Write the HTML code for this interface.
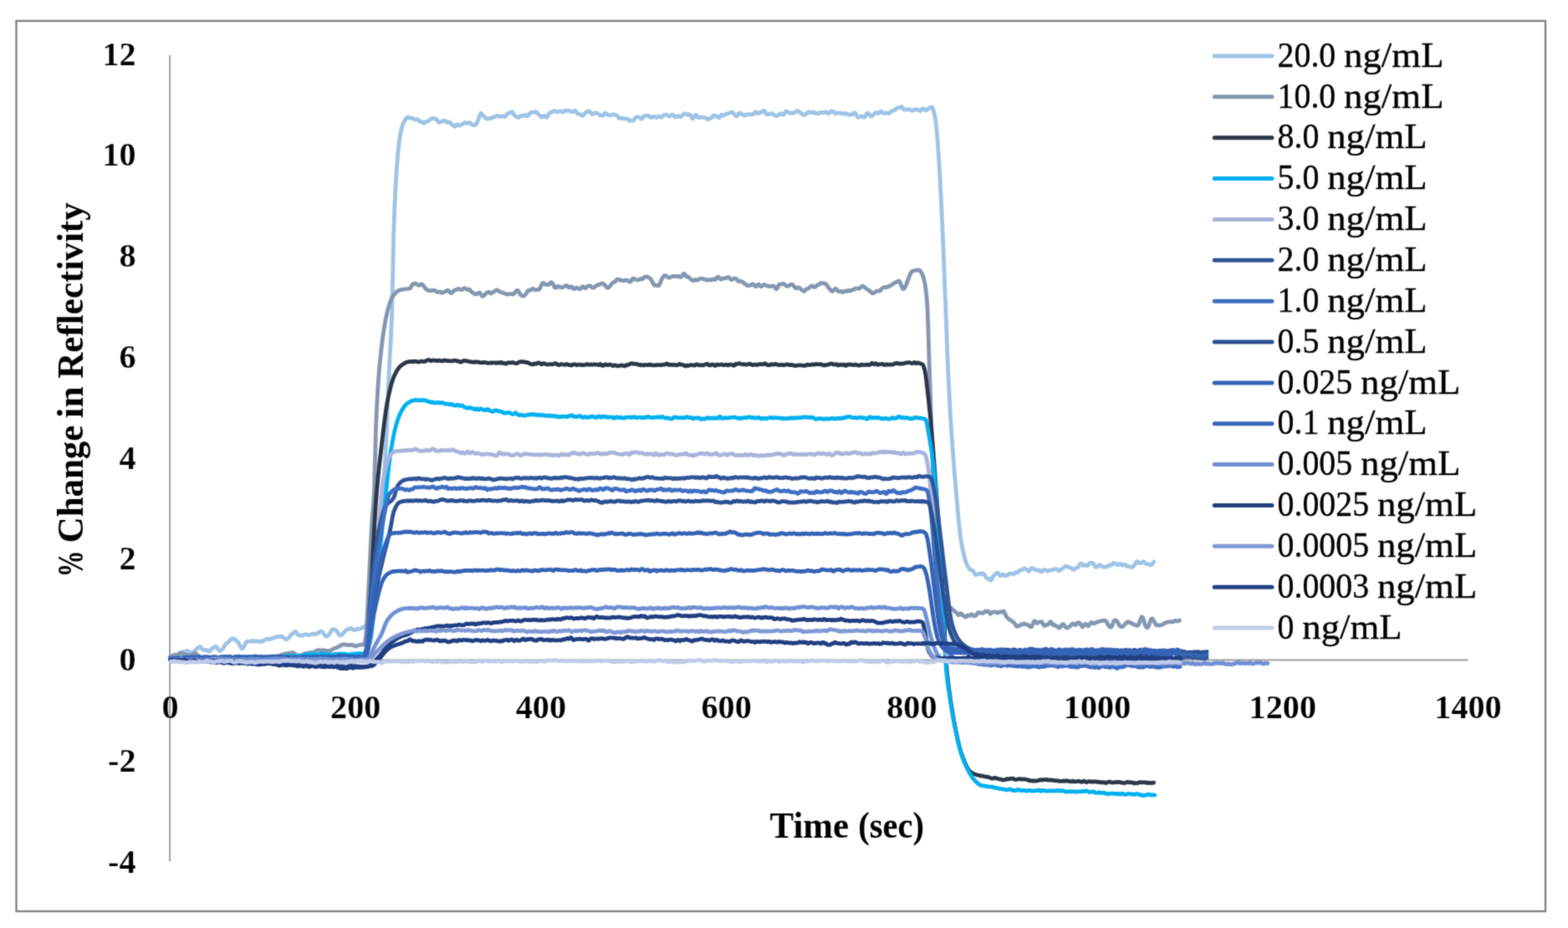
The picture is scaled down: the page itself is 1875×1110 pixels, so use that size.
<!DOCTYPE html>
<html lang="en">
<head>
<meta charset="utf-8">
<title>% Change in Reflectivity vs Time (sec)</title>
<style>
html,body{margin:0;padding:0;background:#ffffff;}
body{width:1875px;height:1110px;overflow:hidden;font-family:"Liberation Serif","DejaVu Serif",serif;}
svg{display:block;}
</style>
</head>
<body>
<svg width="1875" height="1110" viewBox="0 0 1875 1110" role="img" aria-label="Line chart of % Change in Reflectivity versus Time (sec) for 15 concentrations">
<defs><filter id="soft" x="0" y="0" width="1875" height="1110" filterUnits="userSpaceOnUse" color-interpolation-filters="sRGB"><feConvolveMatrix order="3" kernelMatrix="0.0742 0.2723 0.0742 0.2723 1 0.2723 0.0742 0.2723 0.0742" divisor="2.3860" edgeMode="duplicate" preserveAlpha="true"/></filter></defs>
<g filter="url(#soft)">
<rect x="0" y="0" width="1875" height="1110" fill="#ffffff"/>
<rect x="19.50" y="25.00" width="1828.50" height="1065.00" fill="#ffffff" stroke="#7f7f7f" stroke-width="2.30"/>
<g stroke="#9c9c9c" stroke-width="1.90" fill="none">
<line x1="203.10" y1="66.00" x2="203.10" y2="1030.50"/>
<line x1="203.10" y1="789.50" x2="1755.50" y2="789.50"/>
</g>
<g fill="none" stroke-width="4.80" stroke-linejoin="round" stroke-linecap="round">
<path stroke="#9dc3e6" d="M203.5 785.5L204.6 784.9L205.7 784.6L206.8 784.8L207.9 785.0L209.0 784.9L210.2 784.6L211.3 783.9L212.4 783.1L213.5 782.3L214.6 781.4L215.7 780.6L216.8 780.3L217.9 780.2L219.0 780.0L220.1 779.6L221.2 779.2L222.3 778.9L223.5 778.7L224.6 778.8L225.7 779.3L226.8 779.7L227.9 780.4L229.0 781.1L230.1 780.6L231.2 779.7L232.3 779.1L233.4 778.3L234.5 777.1L235.6 775.7L236.8 774.9L237.9 774.0L239.0 773.5L240.1 774.3L241.2 775.8L242.3 777.0L243.4 777.5L244.5 777.5L245.6 777.5L246.7 777.5L247.8 777.8L249.0 778.7L250.1 779.3L251.2 778.4L252.3 777.1L253.4 776.1L254.5 775.1L255.6 774.4L256.7 773.9L257.8 773.4L258.9 773.9L260.0 775.5L261.1 777.0L262.3 778.1L263.4 778.6L264.5 778.0L265.6 776.8L266.7 775.3L267.8 773.8L268.9 771.9L270.0 770.1L271.1 769.2L272.2 768.9L273.3 768.0L274.5 766.5L275.6 765.0L276.7 764.4L277.8 764.2L278.9 764.0L280.0 764.0L281.1 765.0L282.2 766.3L283.3 767.0L284.4 767.9L285.5 769.6L286.6 771.9L287.8 774.2L288.9 775.7L290.0 775.6L291.1 774.2L292.2 772.4L293.3 770.4L294.4 768.4L295.5 767.1L296.6 767.1L297.7 767.1L298.8 767.1L299.9 767.1L301.1 766.7L302.2 766.7L303.3 767.0L304.4 767.1L305.5 766.9L306.6 766.8L307.7 767.0L308.8 767.6L309.9 767.5L311.0 767.0L312.1 767.1L313.3 767.3L314.4 767.0L315.5 766.2L316.6 765.4L317.7 764.9L318.8 764.4L319.9 764.1L321.0 764.5L322.1 764.6L323.2 764.4L324.3 763.8L325.4 763.5L326.6 763.4L327.7 762.9L328.8 762.3L329.9 761.7L331.0 761.5L332.1 761.8L333.2 761.7L334.3 761.2L335.4 760.8L336.5 761.0L337.6 761.7L338.7 762.5L339.9 763.4L341.0 764.4L342.1 764.8L343.2 764.4L344.3 763.7L345.4 762.8L346.5 761.2L347.6 759.6L348.7 758.7L349.8 758.2L350.9 757.1L352.1 755.9L353.2 755.4L354.3 756.3L355.4 757.9L356.5 759.3L357.6 760.0L358.7 760.2L359.8 760.4L360.9 760.2L362.0 759.7L363.1 759.6L364.2 758.9L365.4 758.5L366.5 758.9L367.6 759.3L368.7 759.5L369.8 759.3L370.9 759.0L372.0 758.6L373.1 758.5L374.2 758.4L375.3 758.2L376.4 758.5L377.6 758.5L378.7 757.9L379.8 757.6L380.9 756.9L382.0 755.9L383.1 755.2L384.2 755.1L385.3 755.6L386.4 756.8L387.5 758.7L388.6 760.2L389.7 761.0L390.9 761.4L392.0 760.6L393.1 759.2L394.2 758.0L395.3 755.9L396.4 754.1L397.5 753.0L398.6 752.9L399.7 753.1L400.8 753.2L401.9 753.9L403.0 755.9L404.2 757.6L405.3 758.7L406.4 759.9L407.5 760.0L408.6 759.1L409.7 758.1L410.8 757.0L411.9 755.8L413.0 754.6L414.1 753.5L415.2 752.9L416.4 752.8L417.5 752.3L418.6 751.5L419.7 751.4L420.8 752.1L421.9 753.2L423.0 753.4L424.1 753.4L425.2 753.4L426.3 752.8L427.4 752.2L428.5 752.3L429.7 752.3L430.8 751.9L431.9 751.4L433.0 750.9L434.1 750.2L435.2 749.6L436.3 748.9L437.4 748.0L438.5 746.9L439.6 745.5L440.7 743.5L441.8 739.7L443.0 734.3L444.1 727.6L445.2 719.9L446.3 711.3L447.4 702.2L448.5 692.8L449.6 683.3L450.7 673.8L451.8 663.5L452.9 652.4L454.0 640.4L455.2 627.6L456.3 613.8L457.4 599.0L458.5 583.3L459.6 566.5L460.7 547.9L461.8 525.0L462.9 499.5L464.0 473.2L465.1 447.9L466.2 426.0L467.3 406.5L468.5 381.3L469.6 332.3L470.7 279.0L471.8 249.2L472.9 225.6L474.0 207.0L475.1 192.3L476.2 179.8L477.3 169.7L478.4 162.2L479.5 156.5L480.6 151.9L481.8 148.5L482.9 146.2L484.0 144.1L485.1 142.3L486.2 140.9L487.3 140.1L488.4 140.0L489.5 141.1L490.6 141.5L491.7 141.3L492.8 141.2L494.0 141.8L495.1 142.7L496.2 143.1L497.3 143.1L498.4 142.9L499.5 143.0L500.6 143.9L501.7 145.2L502.8 145.6L503.9 145.4L505.0 145.9L506.1 147.0L507.3 147.3L508.4 146.4L509.5 145.4L510.6 145.1L511.7 145.1L512.8 144.6L513.9 143.5L515.0 142.5L516.1 141.9L517.2 141.6L518.3 141.4L519.5 141.7L520.6 142.3L521.7 142.8L522.8 143.7L523.9 145.4L525.0 146.5L526.1 146.1L527.2 145.4L528.3 145.1L529.4 144.9L530.5 144.5L531.6 144.4L532.8 144.8L533.9 145.9L535.0 146.5L536.1 146.1L537.2 146.0L538.3 146.9L539.4 148.1L540.5 148.7L541.6 149.5L542.7 150.7L543.8 151.3L544.9 150.7L546.1 149.3L547.2 148.9L548.3 149.7L549.4 150.2L550.5 149.8L551.6 149.1L552.7 148.8L553.8 148.2L554.9 147.0L556.0 146.4L557.1 146.8L558.3 147.7L559.4 147.5L560.5 146.6L561.6 146.5L562.7 147.5L563.8 148.8L564.9 149.5L566.0 149.7L567.1 149.5L568.2 149.5L569.3 148.6L570.4 146.5L571.6 144.0L572.7 141.0L573.8 137.6L574.9 135.5L576.0 135.8L577.1 137.7L578.2 138.9L579.3 139.5L580.4 140.6L581.5 141.9L582.6 142.2L583.7 142.0L584.9 141.8L586.0 141.6L587.1 141.5L588.2 141.0L589.3 140.4L590.4 140.1L591.5 139.9L592.6 139.2L593.7 138.4L594.8 138.4L595.9 139.1L597.1 139.4L598.2 139.5L599.3 139.3L600.4 138.8L601.5 138.7L602.6 139.3L603.7 139.7L604.8 138.7L605.9 137.0L607.0 135.9L608.1 135.6L609.2 135.3L610.4 134.7L611.5 133.8L612.6 133.9L613.7 135.5L614.8 137.5L615.9 138.6L617.0 139.2L618.1 139.9L619.2 140.4L620.3 140.5L621.4 139.6L622.6 138.6L623.7 138.4L624.8 138.7L625.9 138.7L627.0 138.0L628.1 137.5L629.2 138.3L630.3 139.1L631.4 138.4L632.5 136.8L633.6 135.4L634.7 134.7L635.9 134.2L637.0 134.0L638.1 134.3L639.2 134.3L640.3 133.8L641.4 134.0L642.5 135.3L643.6 136.6L644.7 137.3L645.8 138.3L646.9 139.6L648.0 140.3L649.2 139.5L650.3 138.4L651.4 138.7L652.5 140.0L653.6 140.4L654.7 139.1L655.8 136.9L656.9 135.4L658.0 134.8L659.1 134.4L660.2 133.7L661.4 133.2L662.5 132.7L663.6 132.6L664.7 133.1L665.8 133.8L666.9 133.9L668.0 133.5L669.1 133.1L670.2 133.0L671.3 133.6L672.4 134.1L673.5 133.8L674.7 133.0L675.8 132.5L676.9 132.6L678.0 132.5L679.1 131.9L680.2 131.9L681.3 132.7L682.4 133.4L683.5 133.6L684.6 133.7L685.7 133.2L686.8 132.4L688.0 132.6L689.1 134.1L690.2 135.5L691.3 135.9L692.4 136.1L693.5 136.7L694.6 137.5L695.7 138.2L696.8 138.3L697.9 137.4L699.0 136.0L700.2 134.8L701.3 134.0L702.4 133.6L703.5 133.1L704.6 132.9L705.7 133.8L706.8 135.3L707.9 136.5L709.0 136.6L710.1 135.9L711.2 135.0L712.3 134.8L713.5 135.3L714.6 135.7L715.7 136.1L716.8 137.2L717.9 138.1L719.0 138.2L720.1 138.3L721.2 137.9L722.3 136.5L723.4 135.2L724.5 135.4L725.7 136.5L726.8 137.3L727.9 137.7L729.0 137.9L730.1 137.8L731.2 137.5L732.3 137.1L733.4 136.9L734.5 137.0L735.6 137.4L736.7 137.8L737.8 138.5L739.0 139.6L740.1 141.0L741.2 141.8L742.3 141.6L743.4 141.2L744.5 141.5L745.6 142.0L746.7 142.2L747.8 142.0L748.9 141.8L750.0 141.9L751.1 142.9L752.3 144.1L753.4 144.5L754.5 144.2L755.6 144.2L756.7 144.3L757.8 143.9L758.9 142.2L760.0 140.5L761.1 139.9L762.2 139.9L763.3 139.8L764.5 140.4L765.6 141.5L766.7 142.2L767.8 141.9L768.9 140.5L770.0 139.0L771.1 138.4L772.2 138.5L773.3 138.6L774.4 138.4L775.5 138.3L776.6 139.2L777.8 140.2L778.9 140.5L780.0 140.4L781.1 139.8L782.2 139.2L783.3 139.6L784.4 140.4L785.5 140.3L786.6 139.7L787.7 139.2L788.8 139.4L789.9 140.1L791.1 140.4L792.2 139.6L793.3 138.3L794.4 137.3L795.5 137.1L796.6 137.3L797.7 137.6L798.8 138.4L799.9 139.1L801.0 138.9L802.1 138.0L803.3 137.1L804.4 137.1L805.5 138.1L806.6 139.3L807.7 140.0L808.8 139.7L809.9 139.0L811.0 138.6L812.1 139.1L813.2 139.8L814.3 139.8L815.4 138.7L816.6 137.0L817.7 136.1L818.8 135.9L819.9 136.1L821.0 136.7L822.1 137.3L823.2 137.1L824.3 136.7L825.4 137.5L826.5 139.8L827.6 141.8L828.8 141.9L829.9 140.0L831.0 138.0L832.1 137.5L833.2 138.4L834.3 139.7L835.4 140.7L836.5 140.9L837.6 140.4L838.7 140.1L839.8 140.2L840.9 140.6L842.1 140.7L843.2 140.6L844.3 141.1L845.4 142.2L846.5 142.9L847.6 142.4L848.7 141.5L849.8 141.3L850.9 140.9L852.0 139.6L853.1 138.4L854.2 138.2L855.4 138.5L856.5 138.9L857.6 139.5L858.7 140.5L859.8 140.9L860.9 139.6L862.0 137.6L863.1 137.1L864.2 138.2L865.3 138.4L866.4 137.3L867.6 136.5L868.7 136.4L869.8 136.1L870.9 135.6L872.0 135.3L873.1 134.9L874.2 134.2L875.3 134.3L876.4 135.0L877.5 135.8L878.6 137.0L879.7 138.5L880.9 139.0L882.0 138.0L883.1 136.3L884.2 135.1L885.3 135.3L886.4 136.2L887.5 136.7L888.6 137.1L889.7 137.8L890.8 138.2L891.9 137.8L893.0 137.1L894.2 136.7L895.3 136.7L896.4 136.8L897.5 137.0L898.6 137.0L899.7 136.9L900.8 136.5L901.9 135.3L903.0 134.1L904.1 134.1L905.2 135.1L906.4 135.7L907.5 135.3L908.6 134.5L909.7 134.4L910.8 134.1L911.9 133.3L913.0 132.5L914.1 132.8L915.2 134.5L916.3 136.3L917.4 137.0L918.5 136.8L919.7 136.5L920.8 136.2L921.9 135.8L923.0 135.7L924.1 136.3L925.2 137.2L926.3 137.8L927.4 138.3L928.5 138.7L929.6 138.4L930.7 137.7L931.9 136.7L933.0 135.9L934.1 135.9L935.2 136.8L936.3 137.4L937.4 136.8L938.5 135.0L939.6 133.4L940.7 133.2L941.8 133.9L942.9 134.6L944.0 134.9L945.2 135.2L946.3 135.4L947.4 135.3L948.5 135.2L949.6 134.8L950.7 134.3L951.8 133.7L952.9 132.9L954.0 132.6L955.1 133.2L956.2 134.1L957.3 135.0L958.5 135.8L959.6 136.7L960.7 137.6L961.8 137.7L962.9 137.1L964.0 136.3L965.1 135.2L966.2 134.0L967.3 133.7L968.4 134.4L969.5 134.9L970.7 134.6L971.8 134.2L972.9 134.4L974.0 135.0L975.1 135.4L976.2 135.4L977.3 135.7L978.4 135.8L979.5 135.4L980.6 134.8L981.7 134.3L982.8 134.4L984.0 134.8L985.1 134.9L986.2 134.4L987.3 133.9L988.4 134.3L989.5 135.2L990.6 135.8L991.7 135.2L992.8 134.0L993.9 133.2L995.0 133.2L996.1 133.6L997.3 134.4L998.4 135.6L999.5 136.1L1000.6 135.4L1001.7 134.9L1002.8 135.2L1003.9 135.4L1005.0 135.2L1006.1 135.2L1007.2 135.9L1008.3 136.3L1009.5 136.0L1010.6 135.5L1011.7 135.6L1012.8 136.2L1013.9 136.9L1015.0 137.3L1016.1 137.2L1017.2 137.0L1018.3 137.1L1019.4 136.7L1020.5 135.6L1021.6 134.7L1022.8 135.2L1023.9 137.3L1025.0 139.4L1026.1 140.4L1027.2 140.3L1028.3 139.6L1029.4 138.9L1030.5 138.9L1031.6 139.6L1032.7 140.4L1033.8 140.1L1034.9 138.5L1036.1 136.4L1037.2 135.2L1038.3 135.5L1039.4 136.9L1040.5 138.4L1041.6 139.2L1042.7 138.9L1043.8 137.9L1044.9 136.6L1046.0 135.4L1047.1 134.7L1048.3 134.9L1049.4 135.4L1050.5 135.6L1051.6 134.8L1052.7 133.4L1053.8 133.0L1054.9 134.2L1056.0 135.3L1057.1 135.5L1058.2 135.2L1059.3 135.2L1060.4 135.3L1061.6 135.4L1062.7 135.6L1063.8 135.3L1064.9 134.3L1066.0 133.2L1067.1 132.6L1068.2 132.3L1069.3 131.9L1070.4 131.3L1071.5 130.3L1072.6 129.3L1073.8 128.8L1074.9 128.6L1076.0 128.4L1077.1 128.0L1078.2 127.9L1079.3 128.9L1080.4 130.5L1081.5 131.0L1082.6 130.9L1083.7 131.0L1084.8 131.2L1085.9 131.1L1087.1 130.8L1088.2 130.9L1089.3 131.6L1090.4 132.3L1091.5 132.2L1092.6 131.7L1093.7 131.1L1094.8 130.8L1095.9 131.1L1097.0 131.2L1098.1 131.5L1099.2 132.4L1100.4 132.7L1101.5 131.8L1102.6 130.4L1103.7 129.8L1104.8 130.2L1105.9 131.2L1107.0 132.0L1108.1 132.0L1109.2 131.0L1110.3 129.7L1111.4 129.0L1112.6 128.3L1113.7 128.0L1114.8 128.6L1115.9 131.3L1117.0 135.0L1118.1 140.1L1119.2 147.7L1120.3 157.7L1121.4 171.5L1122.5 187.8L1123.6 205.6L1124.7 226.4L1125.9 249.7L1127.0 274.2L1128.1 299.9L1129.2 327.2L1130.3 355.2L1131.4 383.8L1132.5 413.7L1133.6 441.0L1134.7 463.8L1135.8 484.6L1136.9 503.5L1138.0 520.7L1139.2 536.7L1140.3 551.5L1141.4 565.5L1142.5 578.7L1143.6 591.4L1144.7 604.0L1145.8 616.6L1146.9 628.3L1148.0 638.4L1149.1 646.1L1150.2 652.5L1151.4 658.2L1152.5 663.2L1153.6 667.5L1154.7 671.3L1155.8 674.4L1156.9 676.7L1158.0 678.6L1159.1 680.1L1160.2 681.2L1161.3 681.9L1162.4 682.2L1163.5 682.8L1164.7 684.8L1165.8 686.8L1166.9 687.7L1168.0 687.5L1169.1 686.8L1170.2 686.1L1171.3 686.2L1172.4 686.8L1173.5 686.4L1174.6 685.6L1175.7 685.9L1176.9 687.1L1178.0 688.8L1179.1 690.5L1180.2 691.6L1181.3 692.0L1182.4 692.5L1183.5 693.6L1184.6 694.2L1185.7 693.1L1186.8 690.7L1187.9 688.7L1189.0 687.7L1190.2 687.0L1191.3 685.8L1192.4 685.1L1193.5 685.5L1194.6 686.9L1195.7 688.3L1196.8 688.7L1197.9 687.8L1199.0 687.0L1200.1 687.3L1201.2 688.4L1202.3 689.0L1203.5 688.8L1204.6 688.1L1205.7 687.0L1206.8 686.1L1207.9 686.1L1209.0 686.2L1210.1 686.2L1211.2 686.5L1212.3 686.5L1213.4 685.7L1214.5 684.7L1215.7 684.8L1216.8 684.9L1217.9 683.8L1219.0 682.6L1220.1 682.2L1221.2 682.1L1222.3 681.4L1223.4 680.4L1224.5 680.0L1225.6 680.1L1226.7 680.6L1227.8 681.4L1229.0 682.7L1230.1 683.3L1231.2 682.4L1232.3 680.8L1233.4 679.7L1234.5 679.5L1235.6 680.1L1236.7 681.0L1237.8 681.7L1238.9 682.0L1240.0 682.0L1241.1 681.9L1242.3 682.0L1243.4 682.7L1244.5 683.7L1245.6 683.8L1246.7 682.8L1247.8 681.7L1248.9 681.4L1250.0 681.8L1251.1 682.5L1252.2 683.1L1253.3 683.1L1254.5 682.5L1255.6 682.0L1256.7 681.7L1257.8 681.7L1258.9 681.7L1260.0 681.3L1261.1 680.8L1262.2 680.6L1263.3 680.7L1264.4 681.3L1265.5 682.4L1266.6 682.8L1267.8 682.0L1268.9 680.9L1270.0 680.2L1271.1 679.6L1272.2 678.9L1273.3 678.0L1274.4 677.3L1275.5 677.3L1276.6 677.9L1277.7 678.3L1278.8 678.6L1280.0 679.2L1281.1 679.8L1282.2 680.6L1283.3 681.4L1284.4 681.3L1285.5 680.2L1286.6 679.1L1287.7 678.9L1288.8 678.9L1289.9 677.6L1291.0 675.4L1292.1 674.1L1293.3 674.3L1294.4 675.4L1295.5 676.3L1296.6 676.1L1297.7 675.7L1298.8 676.1L1299.9 676.6L1301.0 676.2L1302.1 674.9L1303.2 673.6L1304.3 673.1L1305.4 673.1L1306.6 673.4L1307.7 674.6L1308.8 676.7L1309.9 678.1L1311.0 678.2L1312.1 677.8L1313.2 677.0L1314.3 676.0L1315.4 675.9L1316.5 676.7L1317.6 677.4L1318.8 677.8L1319.9 678.1L1321.0 678.2L1322.1 678.1L1323.2 678.1L1324.3 677.8L1325.4 676.6L1326.5 675.9L1327.6 676.2L1328.7 676.2L1329.8 674.9L1330.9 673.7L1332.1 673.5L1333.2 673.8L1334.3 674.4L1335.4 675.4L1336.5 675.7L1337.6 675.0L1338.7 674.5L1339.8 674.6L1340.9 675.3L1342.0 676.0L1343.1 676.0L1344.2 675.4L1345.4 675.3L1346.5 676.3L1347.6 677.4L1348.7 677.5L1349.8 677.3L1350.9 677.8L1352.0 678.5L1353.1 678.6L1354.2 678.2L1355.3 677.4L1356.4 676.0L1357.6 674.0L1358.7 672.2L1359.8 671.5L1360.9 672.2L1362.0 673.3L1363.1 673.7L1364.2 673.2L1365.3 672.7L1366.4 672.0L1367.5 671.7L1368.6 672.4L1369.7 673.8L1370.9 674.4L1372.0 674.5L1373.1 674.7L1374.2 675.3L1375.3 675.8L1376.4 675.9L1377.5 674.8L1378.6 673.6L1379.6 672.0"/>
<path stroke="#8497b0" d="M203.5 786.0L204.6 785.4L205.7 784.8L206.8 783.9L207.9 783.3L209.0 783.3L210.2 783.5L211.3 783.7L212.4 783.5L213.5 782.6L214.6 781.5L215.7 781.1L216.8 781.3L217.9 781.7L219.0 782.1L220.1 782.6L221.2 783.0L222.3 783.3L223.5 783.5L224.6 783.5L225.7 783.7L226.8 784.4L227.9 784.6L229.0 783.8L230.1 782.5L231.2 781.5L232.3 781.2L233.4 781.6L234.5 782.3L235.6 783.0L236.8 784.0L237.9 785.0L239.0 785.6L240.1 785.9L241.2 785.9L242.3 785.7L243.4 785.9L244.5 786.3L245.6 786.5L246.7 786.3L247.8 786.4L249.0 786.9L250.1 787.3L251.2 787.2L252.3 786.9L253.4 786.7L254.5 786.6L255.6 786.7L256.7 786.7L257.8 786.8L258.9 787.2L260.0 787.4L261.1 787.2L262.3 787.2L263.4 786.9L264.5 786.3L265.6 785.6L266.7 785.7L267.8 786.4L268.9 786.8L270.0 787.1L271.1 787.2L272.2 787.3L273.3 787.3L274.5 786.4L275.6 785.5L276.7 785.9L277.8 787.1L278.9 787.6L280.0 787.1L281.1 786.4L282.2 786.2L283.3 786.2L284.4 785.9L285.5 786.0L286.6 786.5L287.8 786.7L288.9 786.8L290.0 786.7L291.1 786.2L292.2 785.9L293.3 786.2L294.4 786.5L295.5 786.9L296.6 787.1L297.7 786.9L298.8 786.6L299.9 786.5L301.1 786.4L302.2 786.3L303.3 786.5L304.4 786.9L305.5 786.9L306.6 786.8L307.7 786.3L308.8 786.1L309.9 785.9L311.0 785.1L312.1 785.1L313.3 785.7L314.4 786.2L315.5 786.1L316.6 785.7L317.7 785.5L318.8 785.8L319.9 785.8L321.0 785.5L322.1 785.8L323.2 786.1L324.3 785.6L325.4 784.9L326.6 784.8L327.7 785.0L328.8 785.3L329.9 785.2L331.0 784.7L332.1 784.6L333.2 784.9L334.3 784.9L335.4 784.2L336.5 783.2L337.6 782.8L338.7 782.8L339.9 782.4L341.0 782.1L342.1 781.8L343.2 781.7L344.3 781.7L345.4 781.4L346.5 780.9L347.6 780.8L348.7 780.7L349.8 780.6L350.9 780.9L352.1 781.4L353.2 782.3L354.3 783.8L355.4 784.7L356.5 784.4L357.6 783.7L358.7 783.8L359.8 783.8L360.9 783.5L362.0 783.1L363.1 782.4L364.2 781.8L365.4 781.5L366.5 781.3L367.6 781.3L368.7 781.2L369.8 780.7L370.9 780.4L372.0 780.6L373.1 780.7L374.2 780.2L375.3 780.0L376.4 779.7L377.6 778.7L378.7 778.0L379.8 777.7L380.9 777.6L382.0 777.8L383.1 777.8L384.2 777.8L385.3 777.8L386.4 777.7L387.5 777.9L388.6 778.2L389.7 778.3L390.9 778.3L392.0 778.6L393.1 778.8L394.2 778.3L395.3 778.0L396.4 777.4L397.5 776.6L398.6 776.0L399.7 775.6L400.8 775.1L401.9 774.8L403.0 774.4L404.2 773.7L405.3 773.3L406.4 772.8L407.5 772.0L408.6 771.3L409.7 771.1L410.8 770.9L411.9 770.8L413.0 771.0L414.1 771.4L415.2 771.6L416.4 771.4L417.5 771.4L418.6 771.6L419.7 771.5L420.8 771.3L421.9 771.5L423.0 772.0L424.1 772.7L425.2 773.0L426.3 772.6L427.4 772.0L428.5 771.8L429.7 771.5L430.8 771.2L431.9 771.1L433.0 771.2L434.1 771.1L435.2 770.9L436.3 768.0L437.4 762.2L438.5 747.6L439.6 726.8L440.7 704.8L441.8 683.2L443.0 658.8L444.1 635.6L445.2 617.7L446.3 606.9L447.4 589.6L448.5 550.4L449.6 509.2L450.7 484.6L451.8 465.3L452.9 449.2L454.0 435.8L455.2 424.7L456.3 414.8L457.4 405.9L458.5 398.0L459.6 390.9L460.7 384.6L461.8 379.0L462.9 374.0L464.0 369.5L465.1 365.6L466.2 362.3L467.3 359.3L468.5 356.7L469.6 354.6L470.7 353.1L471.8 351.8L472.9 350.6L474.0 349.5L475.1 348.5L476.2 347.8L477.3 347.2L478.4 346.9L479.5 346.6L480.6 346.4L481.8 346.2L482.9 346.1L484.0 345.9L485.1 345.8L486.2 345.7L487.3 345.5L488.4 345.3L489.5 345.1L490.6 344.8L491.7 342.8L492.8 340.9L494.0 339.6L495.1 339.5L496.2 339.1L497.3 339.3L498.4 340.0L499.5 340.6L500.6 341.2L501.7 341.3L502.8 340.5L503.9 339.9L505.0 340.3L506.1 341.4L507.3 343.0L508.4 344.6L509.5 345.8L510.6 346.6L511.7 347.2L512.8 347.6L513.9 347.8L515.0 347.7L516.1 347.4L517.2 347.1L518.3 347.1L519.5 347.3L520.6 347.9L521.7 348.7L522.8 349.4L523.9 349.3L525.0 349.0L526.1 348.9L527.2 349.6L528.3 350.4L529.4 350.1L530.5 349.4L531.6 349.0L532.8 348.6L533.9 347.8L535.0 347.2L536.1 347.4L537.2 348.4L538.3 349.7L539.4 350.5L540.5 350.3L541.6 349.0L542.7 347.6L543.8 347.0L544.9 346.9L546.1 346.3L547.2 345.6L548.3 345.5L549.4 345.8L550.5 346.4L551.6 346.6L552.7 346.2L553.8 345.5L554.9 344.8L556.0 344.8L557.1 345.6L558.3 346.4L559.4 346.4L560.5 346.0L561.6 346.5L562.7 348.0L563.8 349.2L564.9 349.8L566.0 350.4L567.1 351.3L568.2 351.9L569.3 351.9L570.4 351.5L571.6 350.7L572.7 350.1L573.8 350.3L574.9 351.9L576.0 353.8L577.1 354.5L578.2 354.1L579.3 352.9L580.4 351.7L581.5 350.6L582.6 349.9L583.7 349.5L584.9 349.5L586.0 350.4L587.1 351.1L588.2 350.5L589.3 349.4L590.4 348.9L591.5 348.3L592.6 347.4L593.7 346.9L594.8 347.1L595.9 347.8L597.1 348.7L598.2 349.3L599.3 349.6L600.4 349.9L601.5 350.3L602.6 350.6L603.7 350.8L604.8 351.4L605.9 352.0L607.0 352.1L608.1 351.8L609.2 351.7L610.4 351.6L611.5 351.7L612.6 352.0L613.7 351.9L614.8 351.1L615.9 349.7L617.0 348.3L618.1 347.4L619.2 347.5L620.3 348.9L621.4 351.0L622.6 352.7L623.7 353.6L624.8 354.0L625.9 354.1L627.0 353.7L628.1 352.6L629.2 351.1L630.3 349.1L631.4 347.6L632.5 347.2L633.6 347.4L634.7 347.0L635.9 346.0L637.0 345.4L638.1 345.6L639.2 346.4L640.3 346.8L641.4 346.7L642.5 346.4L643.6 346.5L644.7 346.1L645.8 344.4L646.9 342.1L648.0 339.8L649.2 338.4L650.3 338.7L651.4 339.7L652.5 340.2L653.6 340.3L654.7 340.5L655.8 340.5L656.9 339.7L658.0 338.3L659.1 337.7L660.2 338.5L661.4 340.2L662.5 342.5L663.6 344.2L664.7 344.3L665.8 343.1L666.9 342.3L668.0 342.5L669.1 343.3L670.2 343.5L671.3 343.6L672.4 343.8L673.5 343.4L674.7 342.6L675.8 341.9L676.9 341.5L678.0 341.7L679.1 342.9L680.2 344.0L681.3 343.8L682.4 342.8L683.5 342.8L684.6 344.1L685.7 345.5L686.8 345.7L688.0 344.7L689.1 344.1L690.2 344.3L691.3 344.9L692.4 345.6L693.5 345.9L694.6 345.0L695.7 343.5L696.8 342.6L697.9 343.1L699.0 344.3L700.2 344.6L701.3 343.6L702.4 342.5L703.5 342.1L704.6 341.9L705.7 342.0L706.8 342.7L707.9 343.8L709.0 344.2L710.1 343.9L711.2 343.2L712.3 342.4L713.5 341.4L714.6 340.7L715.7 340.6L716.8 340.5L717.9 339.9L719.0 339.2L720.1 338.9L721.2 339.3L722.3 340.2L723.4 341.1L724.5 342.4L725.7 344.0L726.8 344.4L727.9 343.7L729.0 342.8L730.1 341.5L731.2 339.8L732.3 338.4L733.4 337.7L734.5 337.4L735.6 336.7L736.7 335.3L737.8 334.1L739.0 334.0L740.1 334.6L741.2 335.0L742.3 335.1L743.4 335.4L744.5 335.7L745.6 335.7L746.7 335.7L747.8 335.4L748.9 335.1L750.0 335.3L751.1 335.9L752.3 336.8L753.4 337.2L754.5 336.4L755.6 334.5L756.7 333.2L757.8 333.1L758.9 333.7L760.0 334.2L761.1 334.6L762.2 334.8L763.3 334.9L764.5 334.4L765.6 333.7L766.7 333.5L767.8 333.7L768.9 333.2L770.0 331.9L771.1 331.1L772.2 331.1L773.3 331.1L774.4 331.2L775.5 331.8L776.6 332.5L777.8 333.4L778.9 335.0L780.0 337.0L781.1 339.2L782.2 340.9L783.3 341.5L784.4 341.3L785.5 341.4L786.6 341.8L787.7 341.6L788.8 340.1L789.9 337.3L791.1 334.4L792.2 332.4L793.3 330.8L794.4 329.6L795.5 329.5L796.6 330.0L797.7 331.0L798.8 332.0L799.9 332.2L801.0 331.9L802.1 331.4L803.3 330.9L804.4 330.4L805.5 330.3L806.6 330.5L807.7 330.7L808.8 330.5L809.9 330.3L811.0 330.3L812.1 330.7L813.2 331.3L814.3 331.4L815.4 330.1L816.6 328.2L817.7 327.2L818.8 328.0L819.9 330.0L821.0 331.1L822.1 331.0L823.2 331.1L824.3 332.3L825.4 333.5L826.5 334.3L827.6 335.1L828.8 335.9L829.9 335.4L831.0 334.5L832.1 334.5L833.2 335.1L834.3 335.1L835.4 334.4L836.5 333.5L837.6 333.2L838.7 333.2L839.8 333.4L840.9 333.7L842.1 334.0L843.2 334.2L844.3 334.8L845.4 335.2L846.5 334.7L847.6 334.4L848.7 334.7L849.8 335.1L850.9 334.6L852.0 333.9L853.1 334.0L854.2 334.6L855.4 334.4L856.5 333.1L857.6 331.7L858.7 331.2L859.8 332.0L860.9 333.4L862.0 334.2L863.1 333.8L864.2 333.0L865.3 332.8L866.4 333.0L867.6 332.9L868.7 332.3L869.8 331.7L870.9 331.4L872.0 332.0L873.1 333.5L874.2 334.6L875.3 334.5L876.4 333.6L877.5 333.2L878.6 333.2L879.7 333.2L880.9 333.9L882.0 335.6L883.1 336.5L884.2 336.4L885.3 336.2L886.4 336.5L887.5 337.1L888.6 337.8L889.7 338.7L890.8 339.6L891.9 340.3L893.0 341.2L894.2 341.8L895.3 341.6L896.4 341.2L897.5 341.1L898.6 340.6L899.7 339.8L900.8 339.9L901.9 341.2L903.0 342.5L904.1 342.7L905.2 341.8L906.4 340.4L907.5 340.2L908.6 341.5L909.7 342.6L910.8 342.6L911.9 341.8L913.0 340.8L914.1 340.4L915.2 340.8L916.3 341.5L917.4 341.9L918.5 342.1L919.7 342.5L920.8 342.7L921.9 342.4L923.0 342.2L924.1 342.0L925.2 342.2L926.3 343.3L927.4 345.0L928.5 345.7L929.6 344.3L930.7 341.8L931.9 340.0L933.0 339.8L934.1 340.0L935.2 339.9L936.3 339.5L937.4 339.6L938.5 340.4L939.6 341.4L940.7 342.2L941.8 342.3L942.9 341.9L944.0 341.2L945.2 340.5L946.3 340.1L947.4 340.3L948.5 341.3L949.6 342.7L950.7 344.1L951.8 344.9L952.9 344.8L954.0 344.1L955.1 343.8L956.2 344.4L957.3 345.5L958.5 346.6L959.6 347.5L960.7 348.3L961.8 348.3L962.9 347.3L964.0 346.1L965.1 345.4L966.2 345.2L967.3 344.6L968.4 343.5L969.5 342.4L970.7 341.9L971.8 342.2L972.9 343.0L974.0 343.6L975.1 343.2L976.2 342.0L977.3 341.0L978.4 340.6L979.5 340.2L980.6 339.2L981.7 338.6L982.8 338.7L984.0 338.9L985.1 338.8L986.2 339.0L987.3 339.7L988.4 340.6L989.5 342.0L990.6 343.9L991.7 345.3L992.8 346.4L993.9 347.6L995.0 348.5L996.1 348.2L997.3 346.9L998.4 345.6L999.5 345.3L1000.6 346.3L1001.7 347.7L1002.8 348.7L1003.9 348.6L1005.0 348.3L1006.1 348.8L1007.2 349.6L1008.3 349.4L1009.5 348.4L1010.6 348.2L1011.7 348.5L1012.8 348.1L1013.9 347.4L1015.0 347.5L1016.1 348.1L1017.2 347.8L1018.3 347.0L1019.4 346.6L1020.5 346.5L1021.6 346.0L1022.8 345.2L1023.9 344.8L1025.0 344.8L1026.1 345.1L1027.2 345.3L1028.3 344.8L1029.4 343.5L1030.5 342.3L1031.6 342.1L1032.7 342.7L1033.8 343.6L1034.9 344.5L1036.1 345.5L1037.2 346.2L1038.3 346.8L1039.4 347.5L1040.5 348.5L1041.6 349.6L1042.7 350.5L1043.8 350.8L1044.9 350.5L1046.0 349.8L1047.1 349.1L1048.3 348.4L1049.4 347.8L1050.5 347.8L1051.6 348.0L1052.7 347.5L1053.8 346.1L1054.9 344.9L1056.0 344.1L1057.1 343.6L1058.2 343.4L1059.3 343.5L1060.4 343.5L1061.6 343.1L1062.7 342.5L1063.8 342.1L1064.9 341.7L1066.0 340.9L1067.1 340.0L1068.2 339.3L1069.3 338.7L1070.4 338.0L1071.5 337.7L1072.6 337.1L1073.8 336.2L1074.9 336.0L1076.0 337.0L1077.1 339.6L1078.2 342.8L1079.3 345.2L1080.4 345.6L1081.5 344.7L1082.6 342.8L1083.7 340.3L1084.8 337.3L1085.9 334.2L1087.1 331.2L1088.2 328.4L1089.3 326.2L1090.4 324.8L1091.5 324.2L1092.6 323.9L1093.7 323.6L1094.8 323.4L1095.9 323.2L1097.0 323.1L1098.1 323.0L1099.2 323.1L1100.4 323.9L1101.5 325.5L1102.6 327.7L1103.7 330.3L1104.8 333.7L1105.9 338.8L1107.0 346.0L1108.1 355.6L1109.2 370.6L1110.3 405.0L1111.4 439.9L1112.6 475.9L1113.7 510.4L1114.8 541.3L1115.9 571.8L1117.0 600.3L1118.1 624.6L1119.2 642.9L1120.3 657.6L1121.4 670.7L1122.5 682.0L1123.6 691.3L1124.7 698.6L1125.9 704.2L1127.0 709.0L1128.1 713.0L1129.2 716.2L1130.3 718.6L1131.4 720.5L1132.5 722.2L1133.6 723.6L1134.7 724.9L1135.8 726.0L1136.9 727.1L1138.0 728.1L1139.2 729.1L1140.3 730.0L1141.4 731.0L1142.5 732.1L1143.6 732.6L1144.7 733.7L1145.8 735.5L1146.9 735.7L1148.0 734.2L1149.1 733.7L1150.2 734.9L1151.4 736.2L1152.5 736.8L1153.6 737.5L1154.7 738.2L1155.8 737.3L1156.9 735.9L1158.0 735.8L1159.1 736.4L1160.2 736.1L1161.3 734.9L1162.4 735.0L1163.5 736.3L1164.7 737.0L1165.8 736.7L1166.9 736.2L1168.0 734.8L1169.1 732.9L1170.2 732.4L1171.3 732.9L1172.4 733.2L1173.5 733.2L1174.6 733.5L1175.7 733.3L1176.9 732.1L1178.0 731.1L1179.1 731.5L1180.2 731.5L1181.3 730.9L1182.4 731.7L1183.5 733.6L1184.6 734.4L1185.7 733.3L1186.8 732.3L1187.9 732.2L1189.0 732.2L1190.2 731.9L1191.3 732.2L1192.4 733.0L1193.5 733.1L1194.6 732.4L1195.7 731.8L1196.8 731.9L1197.9 732.2L1199.0 731.5L1200.1 731.0L1201.2 732.5L1202.3 735.1L1203.5 737.6L1204.6 739.1L1205.7 739.9L1206.8 740.9L1207.9 741.7L1209.0 742.1L1210.1 742.9L1211.2 744.0L1212.3 744.8L1213.4 745.7L1214.5 747.4L1215.7 748.9L1216.8 749.3L1217.9 748.8L1219.0 748.3L1220.1 747.5L1221.2 747.0L1222.3 747.0L1223.4 746.5L1224.5 745.8L1225.6 746.2L1226.7 746.9L1227.8 747.0L1229.0 747.2L1230.1 747.9L1231.2 749.1L1232.3 749.9L1233.4 749.6L1234.5 747.9L1235.6 745.2L1236.7 742.9L1237.8 742.9L1238.9 744.4L1240.0 745.5L1241.1 745.0L1242.3 744.2L1243.4 744.0L1244.5 743.8L1245.6 743.7L1246.7 745.0L1247.8 747.4L1248.9 748.5L1250.0 748.0L1251.1 747.6L1252.2 747.4L1253.3 746.7L1254.5 745.5L1255.6 744.0L1256.7 743.6L1257.8 745.5L1258.9 747.5L1260.0 747.5L1261.1 747.3L1262.2 748.4L1263.3 749.1L1264.4 749.1L1265.5 750.2L1266.6 751.1L1267.8 750.1L1268.9 748.6L1270.0 747.2L1271.1 746.4L1272.2 747.4L1273.3 749.4L1274.4 750.3L1275.5 750.8L1276.6 751.0L1277.7 750.2L1278.8 749.5L1280.0 748.8L1281.1 747.4L1282.2 746.2L1283.3 745.9L1284.4 746.4L1285.5 747.3L1286.6 747.4L1287.7 746.0L1288.8 744.7L1289.9 744.7L1291.0 745.3L1292.1 746.6L1293.3 748.6L1294.4 749.9L1295.5 749.0L1296.6 747.1L1297.7 746.3L1298.8 746.6L1299.9 747.7L1301.0 748.7L1302.1 748.2L1303.2 746.6L1304.3 745.0L1305.4 744.3L1306.6 744.9L1307.7 745.9L1308.8 745.6L1309.9 744.8L1311.0 744.4L1312.1 744.0L1313.2 743.5L1314.3 743.3L1315.4 743.1L1316.5 742.7L1317.6 742.4L1318.8 742.4L1319.9 742.3L1321.0 742.2L1322.1 742.7L1323.2 743.9L1324.3 745.8L1325.4 747.8L1326.5 749.3L1327.6 750.2L1328.7 750.1L1329.8 748.2L1330.9 745.3L1332.1 742.7L1333.2 741.7L1334.3 742.0L1335.4 742.8L1336.5 744.4L1337.6 746.3L1338.7 748.3L1339.8 749.5L1340.9 749.7L1342.0 749.7L1343.1 749.1L1344.2 747.7L1345.4 746.3L1346.5 745.6L1347.6 744.6L1348.7 743.6L1349.8 743.8L1350.9 744.4L1352.0 745.0L1353.1 745.8L1354.2 746.1L1355.3 746.5L1356.4 747.3L1357.6 747.8L1358.7 748.2L1359.8 748.4L1360.9 747.9L1362.0 746.1L1363.1 743.0L1364.2 739.7L1365.3 737.8L1366.4 738.5L1367.5 741.3L1368.6 745.4L1369.7 748.6L1370.9 750.2L1372.0 750.8L1373.1 749.8L1374.2 747.1L1375.3 743.7L1376.4 741.0L1377.5 739.9L1378.6 740.9L1379.7 742.6L1380.8 744.5L1381.9 746.7L1383.1 748.0L1384.2 747.8L1385.3 747.8L1386.4 748.2L1387.5 747.9L1388.6 747.5L1389.7 747.2L1390.8 746.8L1391.9 746.1L1393.0 745.2L1394.1 744.6L1395.2 744.3L1396.4 744.0L1397.5 743.8L1398.6 743.8L1399.7 743.7L1400.8 743.7L1401.9 743.9L1403.0 743.8L1404.1 742.9L1405.2 742.4L1406.3 742.7L1407.4 743.0L1408.5 742.9L1409.7 742.4L1410.5 742.0"/>
<path stroke="#2c3649" d="M203.5 788.0L204.6 788.0L205.7 787.9L206.8 788.3L207.9 788.6L209.0 788.2L210.2 787.6L211.3 787.1L212.4 787.1L213.5 787.2L214.6 787.9L215.7 788.4L216.8 788.4L217.9 788.1L219.0 788.0L220.1 787.9L221.2 788.1L222.3 788.2L223.5 788.0L224.6 787.6L225.7 788.1L226.8 788.2L227.9 788.0L229.0 788.1L230.1 787.9L231.2 787.4L232.3 787.5L233.4 787.3L234.5 787.1L235.6 787.1L236.8 787.0L237.9 786.9L239.0 786.8L240.1 786.8L241.2 786.8L242.3 786.9L243.4 786.9L244.5 787.1L245.6 787.6L246.7 787.7L247.8 787.9L249.0 788.1L250.1 788.0L251.2 787.6L252.3 787.4L253.4 787.7L254.5 787.8L255.6 787.8L256.7 787.4L257.8 787.1L258.9 786.8L260.0 787.0L261.1 786.9L262.3 787.1L263.4 787.4L264.5 787.4L265.6 787.3L266.7 787.2L267.8 786.9L268.9 787.3L270.0 787.7L271.1 787.6L272.2 787.2L273.3 787.4L274.5 787.3L275.6 786.8L276.7 786.6L277.8 787.0L278.9 787.3L280.0 787.1L281.1 786.7L282.2 787.0L283.3 787.2L284.4 787.1L285.5 787.0L286.6 787.0L287.8 786.8L288.9 787.0L290.0 787.0L291.1 787.2L292.2 787.4L293.3 787.3L294.4 787.2L295.5 787.4L296.6 787.5L297.7 787.2L298.8 787.2L299.9 787.7L301.1 787.9L302.2 787.8L303.3 787.9L304.4 788.1L305.5 788.4L306.6 788.9L307.7 789.0L308.8 788.8L309.9 788.2L311.0 787.9L312.1 787.8L313.3 787.6L314.4 787.8L315.5 787.9L316.6 787.7L317.7 787.7L318.8 788.1L319.9 787.9L321.0 787.8L322.1 787.6L323.2 787.4L324.3 787.4L325.4 787.5L326.6 787.4L327.7 787.4L328.8 787.3L329.9 787.5L331.0 787.8L332.1 787.5L333.2 787.0L334.3 787.3L335.4 787.8L336.5 787.8L337.6 787.2L338.7 787.2L339.9 787.1L341.0 786.8L342.1 787.4L343.2 787.8L344.3 787.5L345.4 787.4L346.5 787.6L347.6 787.4L348.7 787.3L349.8 787.2L350.9 787.0L352.1 787.0L353.2 786.8L354.3 787.0L355.4 787.3L356.5 787.2L357.6 786.8L358.7 786.7L359.8 786.6L360.9 786.4L362.0 786.7L363.1 787.1L364.2 787.4L365.4 787.7L366.5 787.4L367.6 787.2L368.7 787.2L369.8 787.3L370.9 787.6L372.0 787.6L373.1 787.2L374.2 787.0L375.3 786.6L376.4 786.7L377.6 787.0L378.7 786.9L379.8 787.4L380.9 787.6L382.0 787.1L383.1 787.0L384.2 787.0L385.3 787.0L386.4 787.0L387.5 787.1L388.6 787.4L389.7 787.4L390.9 787.0L392.0 786.6L393.1 786.8L394.2 787.2L395.3 787.3L396.4 787.1L397.5 787.2L398.6 787.2L399.7 787.0L400.8 787.0L401.9 786.8L403.0 786.6L404.2 786.9L405.3 787.2L406.4 787.1L407.5 787.0L408.6 787.1L409.7 787.1L410.8 786.7L411.9 786.1L413.0 785.9L414.1 786.4L415.2 787.2L416.4 787.1L417.5 786.7L418.6 786.8L419.7 786.7L420.8 787.0L421.9 787.2L423.0 787.2L424.1 787.3L425.2 787.2L426.3 786.8L427.4 786.9L428.5 787.1L429.7 786.8L430.8 786.8L431.9 787.0L433.0 787.0L434.1 787.0L435.2 787.0L436.3 786.9L437.4 784.3L438.5 779.2L439.6 772.4L440.7 762.7L441.8 744.9L443.0 722.1L444.1 698.2L445.2 676.9L446.3 656.3L447.4 635.4L448.5 615.8L449.6 599.2L450.7 585.6L451.8 573.5L452.9 562.5L454.0 552.3L455.2 542.6L456.3 532.9L457.4 523.3L458.5 513.9L459.6 504.9L460.7 496.5L461.8 488.8L462.9 482.1L464.0 476.4L465.1 471.2L466.2 466.4L467.3 461.9L468.5 457.9L469.6 454.4L470.7 451.3L471.8 448.8L472.9 446.6L474.0 444.5L475.1 442.6L476.2 441.0L477.3 439.5L478.4 438.3L479.5 437.4L480.6 436.6L481.8 435.8L482.9 435.1L484.0 434.4L485.1 433.8L486.2 433.3L487.3 433.0L488.4 432.7L489.5 432.6L490.6 432.5L491.7 432.4L492.8 432.6L494.0 432.9L495.1 432.1L496.2 432.1L497.3 432.5L498.4 432.4L499.5 432.8L500.6 433.1L501.7 432.6L502.8 432.3L503.9 432.1L505.0 432.1L506.1 432.5L507.3 432.5L508.4 432.2L509.5 431.8L510.6 431.1L511.7 430.7L512.8 430.4L513.9 431.0L515.0 431.6L516.1 431.4L517.2 431.0L518.3 430.8L519.5 431.1L520.6 431.3L521.7 431.2L522.8 431.7L523.9 431.5L525.0 431.0L526.1 431.5L527.2 431.7L528.3 431.6L529.4 431.8L530.5 431.1L531.6 430.9L532.8 431.3L533.9 431.5L535.0 431.5L536.1 431.7L537.2 431.6L538.3 431.8L539.4 431.8L540.5 431.7L541.6 431.5L542.7 431.5L543.8 431.1L544.9 431.1L546.1 431.8L547.2 432.1L548.3 431.9L549.4 432.5L550.5 433.1L551.6 432.8L552.7 432.4L553.8 431.7L554.9 431.2L556.0 431.5L557.1 431.8L558.3 431.7L559.4 432.0L560.5 432.2L561.6 432.7L562.7 432.8L563.8 432.9L564.9 433.0L566.0 433.2L567.1 433.4L568.2 432.8L569.3 432.7L570.4 433.1L571.6 433.2L572.7 433.1L573.8 433.7L574.9 433.8L576.0 433.8L577.1 433.5L578.2 433.5L579.3 433.7L580.4 433.6L581.5 433.6L582.6 434.1L583.7 434.3L584.9 434.2L586.0 434.1L587.1 433.9L588.2 434.0L589.3 433.9L590.4 433.9L591.5 433.8L592.6 434.1L593.7 434.4L594.8 434.0L595.9 433.6L597.1 434.2L598.2 433.6L599.3 433.4L600.4 434.3L601.5 434.2L602.6 434.3L603.7 434.7L604.8 435.2L605.9 434.8L607.0 433.8L608.1 433.8L609.2 433.7L610.4 433.8L611.5 433.9L612.6 433.7L613.7 433.5L614.8 434.1L615.9 434.5L617.0 434.7L618.1 434.7L619.2 433.9L620.3 433.3L621.4 433.0L622.6 432.5L623.7 432.8L624.8 432.8L625.9 432.7L627.0 432.8L628.1 433.2L629.2 433.6L630.3 433.4L631.4 433.7L632.5 434.4L633.6 435.0L634.7 435.5L635.9 435.7L637.0 436.1L638.1 435.6L639.2 434.8L640.3 435.0L641.4 435.2L642.5 434.4L643.6 433.9L644.7 433.9L645.8 434.7L646.9 435.5L648.0 435.6L649.2 434.9L650.3 434.6L651.4 435.0L652.5 435.4L653.6 435.8L654.7 435.9L655.8 436.0L656.9 435.7L658.0 435.7L659.1 435.7L660.2 435.8L661.4 435.7L662.5 435.0L663.6 434.6L664.7 434.6L665.8 435.6L666.9 436.3L668.0 436.4L669.1 436.5L670.2 435.9L671.3 435.5L672.4 435.8L673.5 436.0L674.7 436.2L675.8 436.3L676.9 435.7L678.0 435.6L679.1 436.2L680.2 436.5L681.3 436.4L682.4 436.9L683.5 437.0L684.6 436.2L685.7 435.9L686.8 435.8L688.0 435.8L689.1 436.6L690.2 436.7L691.3 436.5L692.4 436.1L693.5 436.1L694.6 436.4L695.7 436.7L696.8 436.4L697.9 436.7L699.0 436.6L700.2 436.1L701.3 435.6L702.4 435.9L703.5 436.2L704.6 436.3L705.7 435.9L706.8 435.9L707.9 436.3L709.0 436.1L710.1 435.8L711.2 436.0L712.3 436.1L713.5 436.0L714.6 436.2L715.7 436.6L716.8 436.0L717.9 435.5L719.0 436.5L720.1 437.3L721.2 437.4L722.3 436.8L723.4 435.8L724.5 435.9L725.7 436.5L726.8 436.7L727.9 436.4L729.0 436.0L730.1 436.1L731.2 436.6L732.3 437.5L733.4 437.7L734.5 436.8L735.6 436.7L736.7 437.0L737.8 437.6L739.0 437.8L740.1 437.7L741.2 437.4L742.3 437.0L743.4 436.8L744.5 437.1L745.6 437.7L746.7 437.9L747.8 437.3L748.9 436.7L750.0 436.8L751.1 436.3L752.3 435.9L753.4 435.5L754.5 434.9L755.6 434.6L756.7 434.9L757.8 435.4L758.9 435.4L760.0 435.2L761.1 435.3L762.2 435.5L763.3 436.3L764.5 436.3L765.6 436.2L766.7 436.8L767.8 436.7L768.9 436.6L770.0 437.0L771.1 436.6L772.2 436.4L773.3 436.4L774.4 436.7L775.5 436.6L776.6 436.0L777.8 436.1L778.9 436.7L780.0 436.8L781.1 436.8L782.2 436.8L783.3 436.9L784.4 436.6L785.5 436.5L786.6 436.8L787.7 436.5L788.8 436.3L789.9 436.6L791.1 436.7L792.2 436.2L793.3 436.2L794.4 436.2L795.5 436.0L796.6 435.3L797.7 434.9L798.8 435.7L799.9 436.5L801.0 436.4L802.1 436.1L803.3 436.3L804.4 436.6L805.5 436.3L806.6 436.2L807.7 436.6L808.8 436.9L809.9 436.7L811.0 436.2L812.1 435.4L813.2 435.5L814.3 436.1L815.4 436.3L816.6 436.4L817.7 436.9L818.8 437.6L819.9 437.9L821.0 437.0L822.1 437.1L823.2 437.6L824.3 436.9L825.4 436.7L826.5 436.6L827.6 436.9L828.8 436.7L829.9 437.0L831.0 437.0L832.1 436.3L833.2 435.8L834.3 436.0L835.4 436.6L836.5 436.9L837.6 436.8L838.7 436.5L839.8 436.9L840.9 436.9L842.1 436.4L843.2 436.0L844.3 435.5L845.4 435.3L846.5 435.8L847.6 436.6L848.7 437.1L849.8 436.7L850.9 436.0L852.0 436.1L853.1 436.2L854.2 437.2L855.4 437.5L856.5 436.5L857.6 436.0L858.7 436.4L859.8 436.4L860.9 436.3L862.0 436.0L863.1 435.9L864.2 436.4L865.3 436.8L866.4 436.5L867.6 436.1L868.7 436.3L869.8 436.8L870.9 436.9L872.0 436.3L873.1 435.9L874.2 436.3L875.3 436.3L876.4 436.7L877.5 437.3L878.6 436.7L879.7 435.4L880.9 435.3L882.0 435.4L883.1 434.8L884.2 434.7L885.3 435.2L886.4 435.5L887.5 435.7L888.6 435.9L889.7 435.7L890.8 435.8L891.9 436.2L893.0 436.2L894.2 435.6L895.3 435.7L896.4 435.2L897.5 435.3L898.6 436.2L899.7 436.5L900.8 436.5L901.9 436.3L903.0 436.1L904.1 436.0L905.2 436.4L906.4 436.4L907.5 435.6L908.6 435.6L909.7 435.6L910.8 435.5L911.9 435.9L913.0 435.7L914.1 434.8L915.2 434.9L916.3 435.9L917.4 436.4L918.5 436.7L919.7 436.5L920.8 436.5L921.9 436.0L923.0 435.6L924.1 436.0L925.2 436.1L926.3 435.7L927.4 435.3L928.5 435.9L929.6 436.2L930.7 436.3L931.9 436.6L933.0 436.7L934.1 436.3L935.2 436.1L936.3 436.6L937.4 436.8L938.5 436.5L939.6 436.1L940.7 435.9L941.8 435.9L942.9 436.1L944.0 436.6L945.2 436.5L946.3 436.5L947.4 436.5L948.5 436.9L949.6 437.1L950.7 437.5L951.8 437.5L952.9 437.2L954.0 436.8L955.1 436.8L956.2 436.9L957.3 436.8L958.5 436.8L959.6 437.2L960.7 437.3L961.8 437.2L962.9 437.4L964.0 436.8L965.1 436.1L966.2 436.3L967.3 436.5L968.4 436.5L969.5 436.3L970.7 436.0L971.8 436.0L972.9 436.1L974.0 436.0L975.1 435.6L976.2 435.5L977.3 435.7L978.4 435.8L979.5 435.7L980.6 435.6L981.7 435.7L982.8 436.3L984.0 436.4L985.1 437.1L986.2 436.9L987.3 436.7L988.4 436.4L989.5 436.3L990.6 436.1L991.7 435.6L992.8 435.2L993.9 435.1L995.0 435.2L996.1 435.8L997.3 435.8L998.4 436.2L999.5 435.8L1000.6 435.6L1001.7 436.8L1002.8 437.0L1003.9 436.4L1005.0 436.1L1006.1 436.3L1007.2 436.6L1008.3 436.0L1009.5 436.2L1010.6 437.1L1011.7 437.3L1012.8 436.4L1013.9 435.9L1015.0 436.0L1016.1 436.3L1017.2 436.0L1018.3 436.1L1019.4 436.5L1020.5 436.7L1021.6 436.5L1022.8 436.1L1023.9 436.3L1025.0 436.6L1026.1 437.0L1027.2 437.3L1028.3 436.9L1029.4 436.3L1030.5 436.2L1031.6 436.2L1032.7 436.7L1033.8 436.5L1034.9 436.3L1036.1 436.3L1037.2 436.2L1038.3 436.4L1039.4 436.5L1040.5 436.1L1041.6 435.2L1042.7 434.3L1043.8 435.0L1044.9 435.8L1046.0 435.3L1047.1 434.6L1048.3 435.7L1049.4 436.3L1050.5 435.8L1051.6 435.6L1052.7 435.8L1053.8 435.5L1054.9 435.3L1056.0 435.6L1057.1 436.5L1058.2 436.4L1059.3 435.9L1060.4 435.9L1061.6 436.3L1062.7 436.2L1063.8 436.1L1064.9 436.1L1066.0 436.0L1067.1 436.2L1068.2 436.0L1069.3 435.0L1070.4 434.6L1071.5 434.7L1072.6 434.4L1073.8 434.6L1074.9 435.0L1076.0 435.0L1077.1 435.0L1078.2 435.1L1079.3 434.9L1080.4 434.8L1081.5 434.7L1082.6 434.0L1083.7 433.8L1084.8 433.9L1085.9 433.7L1087.1 433.7L1088.2 433.9L1089.3 434.4L1090.4 434.6L1091.5 434.4L1092.6 433.7L1093.7 433.4L1094.8 434.4L1095.9 434.7L1097.0 433.9L1098.1 433.9L1099.2 434.5L1100.4 434.8L1101.5 435.2L1102.6 435.6L1103.7 436.4L1104.8 439.1L1105.9 443.1L1107.0 449.4L1108.1 458.2L1109.2 467.9L1110.3 477.7L1111.4 488.4L1112.6 499.9L1113.7 512.0L1114.8 525.1L1115.9 538.9L1117.0 553.3L1118.1 567.9L1119.2 582.5L1120.3 597.3L1121.4 612.6L1122.5 628.4L1123.6 645.2L1124.7 662.8L1125.9 681.3L1127.0 700.8L1128.1 721.4L1129.2 746.4L1130.3 772.8L1131.4 792.6L1132.5 805.0L1133.6 815.0L1134.7 823.5L1135.8 831.2L1136.9 839.0L1138.0 846.4L1139.2 853.4L1140.3 860.0L1141.4 866.1L1142.5 871.7L1143.6 877.1L1144.7 882.2L1145.8 887.1L1146.9 891.7L1148.0 896.0L1149.1 899.7L1150.2 903.0L1151.4 906.0L1152.5 908.9L1153.6 911.7L1154.7 914.2L1155.8 916.6L1156.9 918.7L1158.0 920.5L1159.1 922.0L1160.2 923.0L1161.3 923.8L1162.4 924.5L1163.5 925.1L1164.7 925.7L1165.8 926.1L1166.9 926.5L1168.0 926.8L1169.1 927.0L1170.2 927.3L1171.3 927.7L1172.4 928.0L1173.5 927.9L1174.6 928.2L1175.7 928.3L1176.9 928.7L1178.0 929.0L1179.1 929.1L1180.2 929.1L1181.3 929.3L1182.4 929.8L1183.5 930.1L1184.6 930.6L1185.7 931.1L1186.8 931.2L1187.9 931.0L1189.0 930.5L1190.2 930.5L1191.3 931.0L1192.4 931.1L1193.5 931.5L1194.6 931.8L1195.7 932.2L1196.8 932.2L1197.9 932.4L1199.0 933.0L1200.1 932.9L1201.2 932.8L1202.3 932.5L1203.5 931.9L1204.6 931.7L1205.7 932.1L1206.8 931.7L1207.9 931.4L1209.0 931.3L1210.1 931.4L1211.2 931.2L1212.3 931.7L1213.4 932.2L1214.5 932.5L1215.7 932.3L1216.8 932.0L1217.9 931.8L1219.0 931.6L1220.1 931.9L1221.2 932.1L1222.3 931.9L1223.4 932.1L1224.5 932.1L1225.6 932.0L1226.7 932.3L1227.8 932.5L1229.0 932.7L1230.1 933.3L1231.2 933.9L1232.3 933.7L1233.4 933.8L1234.5 934.1L1235.6 933.9L1236.7 934.0L1237.8 934.2L1238.9 934.0L1240.0 933.9L1241.1 933.6L1242.3 933.3L1243.4 932.9L1244.5 932.7L1245.6 933.1L1246.7 933.0L1247.8 932.7L1248.9 932.5L1250.0 932.6L1251.1 932.6L1252.2 932.5L1253.3 933.1L1254.5 933.1L1255.6 932.9L1256.7 933.0L1257.8 933.2L1258.9 933.4L1260.0 933.4L1261.1 933.6L1262.2 933.6L1263.3 933.8L1264.4 933.8L1265.5 933.9L1266.6 934.3L1267.8 934.4L1268.9 934.3L1270.0 934.3L1271.1 934.1L1272.2 934.0L1273.3 934.4L1274.4 934.1L1275.5 933.7L1276.6 934.0L1277.7 934.4L1278.8 934.6L1280.0 934.7L1281.1 934.9L1282.2 934.6L1283.3 934.2L1284.4 934.8L1285.5 934.9L1286.6 934.9L1287.7 934.9L1288.8 934.4L1289.9 934.3L1291.0 934.4L1292.1 935.1L1293.3 935.4L1294.4 935.1L1295.5 934.3L1296.6 934.2L1297.7 935.1L1298.8 935.8L1299.9 935.5L1301.0 935.0L1302.1 934.7L1303.2 934.6L1304.3 935.1L1305.4 935.0L1306.6 935.0L1307.7 935.0L1308.8 934.9L1309.9 934.8L1311.0 935.1L1312.1 935.3L1313.2 935.2L1314.3 935.3L1315.4 935.8L1316.5 935.9L1317.6 935.6L1318.8 935.9L1319.9 936.1L1321.0 935.7L1322.1 936.5L1323.2 936.4L1324.3 935.7L1325.4 935.4L1326.5 935.2L1327.6 935.3L1328.7 935.7L1329.8 936.1L1330.9 936.0L1332.1 935.8L1333.2 935.8L1334.3 935.5L1335.4 935.5L1336.5 935.6L1337.6 935.6L1338.7 935.3L1339.8 935.5L1340.9 936.2L1342.0 936.3L1343.1 936.5L1344.2 936.7L1345.4 936.5L1346.5 935.9L1347.6 935.5L1348.7 935.6L1349.8 935.8L1350.9 935.7L1352.0 936.1L1353.1 935.8L1354.2 935.9L1355.3 936.5L1356.4 937.0L1357.6 936.7L1358.7 936.6L1359.8 936.8L1360.9 936.4L1362.0 935.9L1363.1 935.7L1364.2 935.8L1365.3 936.0L1366.4 935.8L1367.5 935.8L1368.6 935.8L1369.7 936.0L1370.9 936.0L1372.0 936.5L1373.1 936.7L1374.2 936.3L1375.3 936.3L1376.4 936.5L1377.5 936.6L1378.6 936.4L1379.6 936.2"/>
<path stroke="#00b0f0" d="M203.5 788.0L204.6 787.9L205.7 788.2L206.8 788.6L207.9 788.5L209.0 788.3L210.2 787.9L211.3 788.2L212.4 788.8L213.5 789.3L214.6 789.3L215.7 789.0L216.8 788.8L217.9 788.5L219.0 788.3L220.1 788.3L221.2 788.3L222.3 788.4L223.5 788.4L224.6 788.3L225.7 788.2L226.8 787.8L227.9 787.8L229.0 787.7L230.1 787.4L231.2 787.7L232.3 788.0L233.4 788.0L234.5 787.6L235.6 787.5L236.8 787.3L237.9 786.9L239.0 787.0L240.1 787.0L241.2 787.4L242.3 787.8L243.4 787.6L244.5 787.4L245.6 788.0L246.7 788.2L247.8 788.1L249.0 787.8L250.1 787.9L251.2 788.2L252.3 787.8L253.4 787.5L254.5 787.5L255.6 787.5L256.7 787.1L257.8 787.1L258.9 787.5L260.0 788.2L261.1 788.1L262.3 787.7L263.4 787.6L264.5 787.5L265.6 787.5L266.7 787.8L267.8 788.1L268.9 787.9L270.0 787.9L271.1 788.2L272.2 788.5L273.3 788.3L274.5 788.0L275.6 788.2L276.7 788.2L277.8 788.0L278.9 788.2L280.0 788.4L281.1 788.6L282.2 788.8L283.3 788.5L284.4 788.1L285.5 787.9L286.6 787.6L287.8 787.6L288.9 787.8L290.0 787.4L291.1 786.9L292.2 786.9L293.3 787.2L294.4 787.1L295.5 787.3L296.6 787.6L297.7 787.4L298.8 787.2L299.9 787.3L301.1 787.5L302.2 787.1L303.3 786.9L304.4 787.3L305.5 787.7L306.6 787.7L307.7 787.8L308.8 787.6L309.9 787.1L311.0 787.1L312.1 787.2L313.3 787.4L314.4 787.7L315.5 787.8L316.6 787.7L317.7 787.4L318.8 787.1L319.9 786.9L321.0 786.6L322.1 786.4L323.2 786.4L324.3 786.8L325.4 786.7L326.6 786.5L327.7 786.2L328.8 786.4L329.9 786.5L331.0 786.3L332.1 786.1L333.2 786.0L334.3 785.8L335.4 785.6L336.5 785.6L337.6 785.8L338.7 785.7L339.9 785.5L341.0 785.3L342.1 784.8L343.2 784.5L344.3 784.8L345.4 785.3L346.5 785.2L347.6 784.9L348.7 784.5L349.8 784.6L350.9 784.8L352.1 784.9L353.2 785.0L354.3 784.9L355.4 784.9L356.5 785.2L357.6 785.2L358.7 784.7L359.8 784.3L360.9 784.2L362.0 784.2L363.1 783.6L364.2 783.1L365.4 783.2L366.5 783.4L367.6 783.2L368.7 782.7L369.8 782.6L370.9 782.7L372.0 782.6L373.1 782.5L374.2 782.6L375.3 782.8L376.4 782.9L377.6 782.9L378.7 782.8L379.8 782.8L380.9 783.0L382.0 782.8L383.1 782.3L384.2 782.4L385.3 782.4L386.4 782.3L387.5 782.6L388.6 782.7L389.7 782.6L390.9 782.7L392.0 783.0L393.1 782.9L394.2 782.8L395.3 783.1L396.4 782.9L397.5 783.1L398.6 782.8L399.7 782.5L400.8 782.3L401.9 782.2L403.0 782.3L404.2 782.5L405.3 782.3L406.4 782.0L407.5 782.0L408.6 782.0L409.7 782.2L410.8 782.2L411.9 782.3L413.0 782.4L414.1 782.2L415.2 783.1L416.4 783.6L417.5 783.1L418.6 782.6L419.7 782.4L420.8 782.5L421.9 782.3L423.0 782.0L424.1 782.1L425.2 782.4L426.3 782.3L427.4 781.7L428.5 781.6L429.7 781.6L430.8 781.9L431.9 781.8L433.0 781.8L434.1 781.7L435.2 781.6L436.3 781.4L437.4 780.5L438.5 778.9L439.6 776.5L440.7 773.7L441.8 770.5L443.0 765.9L444.1 758.6L445.2 749.1L446.3 738.2L447.4 726.6L448.5 714.8L449.6 703.7L450.7 693.4L451.8 682.9L452.9 672.1L454.0 661.3L455.2 650.3L456.3 639.4L457.4 628.5L458.5 617.8L459.6 607.3L460.7 597.1L461.8 586.9L462.9 576.5L464.0 566.2L465.1 556.4L466.2 547.5L467.3 539.7L468.5 532.9L469.6 526.7L470.7 520.9L471.8 515.8L472.9 511.2L474.0 507.3L475.1 503.7L476.2 500.5L477.3 497.6L478.4 495.0L479.5 492.7L480.6 490.7L481.8 488.7L482.9 487.0L484.0 485.5L485.1 484.3L486.2 483.3L487.3 482.4L488.4 481.6L489.5 480.9L490.6 480.2L491.7 479.7L492.8 479.3L494.0 479.0L495.1 478.8L496.2 478.4L497.3 478.6L498.4 478.8L499.5 478.5L500.6 478.8L501.7 479.1L502.8 478.9L503.9 478.4L505.0 478.7L506.1 478.8L507.3 478.7L508.4 478.9L509.5 479.2L510.6 479.8L511.7 479.9L512.8 480.2L513.9 480.9L515.0 481.4L516.1 481.1L517.2 480.8L518.3 481.6L519.5 481.9L520.6 482.0L521.7 481.8L522.8 481.4L523.9 481.2L525.0 481.8L526.1 482.1L527.2 481.8L528.3 481.6L529.4 481.8L530.5 482.2L531.6 482.8L532.8 483.1L533.9 483.1L535.0 483.2L536.1 483.3L537.2 483.9L538.3 483.8L539.4 483.3L540.5 483.5L541.6 484.2L542.7 484.8L543.8 484.9L544.9 485.2L546.1 484.8L547.2 484.3L548.3 484.6L549.4 485.4L550.5 485.1L551.6 485.0L552.7 485.2L553.8 485.7L554.9 486.8L556.0 487.2L557.1 487.3L558.3 488.2L559.4 488.3L560.5 487.7L561.6 487.3L562.7 487.7L563.8 488.2L564.9 488.6L566.0 488.7L567.1 489.4L568.2 489.8L569.3 489.0L570.4 489.0L571.6 490.0L572.7 490.1L573.8 489.1L574.9 488.9L576.0 489.2L577.1 490.0L578.2 490.2L579.3 490.2L580.4 490.7L581.5 490.7L582.6 489.5L583.7 489.6L584.9 490.5L586.0 491.2L587.1 491.7L588.2 492.0L589.3 492.4L590.4 491.9L591.5 491.2L592.6 490.8L593.7 490.7L594.8 491.4L595.9 491.9L597.1 491.8L598.2 492.2L599.3 492.2L600.4 492.8L601.5 493.4L602.6 494.1L603.7 494.1L604.8 494.0L605.9 493.8L607.0 493.6L608.1 493.7L609.2 493.6L610.4 494.0L611.5 495.0L612.6 495.4L613.7 495.3L614.8 494.9L615.9 494.0L617.0 493.9L618.1 495.1L619.2 495.9L620.3 496.3L621.4 496.5L622.6 496.4L623.7 496.2L624.8 496.6L625.9 497.0L627.0 497.3L628.1 497.0L629.2 496.6L630.3 496.3L631.4 495.9L632.5 496.1L633.6 496.1L634.7 495.4L635.9 495.6L637.0 496.1L638.1 495.7L639.2 495.4L640.3 496.1L641.4 496.5L642.5 496.4L643.6 496.1L644.7 496.1L645.8 496.9L646.9 496.3L648.0 496.1L649.2 496.7L650.3 497.0L651.4 496.9L652.5 497.1L653.6 497.3L654.7 497.1L655.8 496.8L656.9 497.1L658.0 497.5L659.1 497.5L660.2 497.3L661.4 497.3L662.5 497.9L663.6 498.3L664.7 498.0L665.8 497.6L666.9 498.4L668.0 499.1L669.1 498.7L670.2 498.3L671.3 498.3L672.4 498.2L673.5 498.1L674.7 498.3L675.8 498.2L676.9 498.1L678.0 498.7L679.1 498.3L680.2 497.4L681.3 497.4L682.4 497.3L683.5 496.6L684.6 497.2L685.7 498.2L686.8 498.4L688.0 498.5L689.1 498.5L690.2 498.4L691.3 498.1L692.4 497.6L693.5 497.5L694.6 498.1L695.7 499.0L696.8 499.4L697.9 499.3L699.0 498.6L700.2 498.5L701.3 499.2L702.4 499.4L703.5 499.1L704.6 498.8L705.7 498.6L706.8 498.6L707.9 498.0L709.0 498.2L710.1 498.8L711.2 499.1L712.3 499.5L713.5 499.1L714.6 498.4L715.7 497.9L716.8 497.9L717.9 498.9L719.0 499.1L720.1 498.8L721.2 498.1L722.3 498.1L723.4 498.6L724.5 498.5L725.7 498.8L726.8 499.3L727.9 499.1L729.0 498.9L730.1 498.8L731.2 498.8L732.3 499.2L733.4 499.7L734.5 500.3L735.6 499.7L736.7 498.8L737.8 498.8L739.0 499.3L740.1 499.9L741.2 499.5L742.3 499.0L743.4 499.4L744.5 500.1L745.6 500.2L746.7 499.9L747.8 499.5L748.9 499.1L750.0 499.2L751.1 499.2L752.3 499.2L753.4 499.2L754.5 499.2L755.6 499.5L756.7 499.1L757.8 498.7L758.9 498.7L760.0 499.1L761.1 499.6L762.2 499.5L763.3 499.2L764.5 499.2L765.6 499.1L766.7 499.4L767.8 499.8L768.9 499.6L770.0 499.2L771.1 499.1L772.2 499.4L773.3 499.1L774.4 498.4L775.5 498.5L776.6 499.0L777.8 499.3L778.9 499.5L780.0 499.6L781.1 499.2L782.2 499.5L783.3 499.2L784.4 499.1L785.5 499.0L786.6 498.8L787.7 498.7L788.8 499.3L789.9 499.2L791.1 498.7L792.2 498.4L793.3 499.0L794.4 499.6L795.5 500.2L796.6 500.2L797.7 499.8L798.8 499.8L799.9 500.5L801.0 500.6L802.1 500.9L803.3 501.0L804.4 500.6L805.5 499.5L806.6 499.0L807.7 499.1L808.8 499.2L809.9 499.6L811.0 499.7L812.1 499.7L813.2 499.7L814.3 499.7L815.4 499.8L816.6 499.6L817.7 499.6L818.8 499.9L819.9 499.3L821.0 498.6L822.1 498.7L823.2 499.5L824.3 499.7L825.4 499.5L826.5 499.5L827.6 500.2L828.8 500.7L829.9 500.4L831.0 499.9L832.1 500.1L833.2 500.2L834.3 499.8L835.4 499.6L836.5 500.1L837.6 501.3L838.7 501.4L839.8 500.8L840.9 500.8L842.1 501.1L843.2 501.1L844.3 500.6L845.4 499.8L846.5 499.6L847.6 500.0L848.7 500.4L849.8 500.3L850.9 499.9L852.0 499.9L853.1 500.4L854.2 500.0L855.4 500.0L856.5 500.2L857.6 500.4L858.7 500.1L859.8 498.7L860.9 498.3L862.0 499.5L863.1 500.3L864.2 500.3L865.3 500.1L866.4 499.7L867.6 499.9L868.7 500.2L869.8 499.8L870.9 499.9L872.0 499.7L873.1 499.5L874.2 499.3L875.3 499.4L876.4 499.3L877.5 499.0L878.6 499.0L879.7 499.3L880.9 499.9L882.0 499.8L883.1 500.1L884.2 500.7L885.3 500.5L886.4 500.0L887.5 500.1L888.6 500.0L889.7 499.7L890.8 499.4L891.9 499.6L893.0 499.6L894.2 499.1L895.3 498.9L896.4 499.0L897.5 499.1L898.6 499.4L899.7 499.5L900.8 499.5L901.9 500.2L903.0 500.0L904.1 499.7L905.2 500.1L906.4 499.6L907.5 499.3L908.6 500.0L909.7 500.8L910.8 500.9L911.9 500.3L913.0 500.2L914.1 500.5L915.2 500.8L916.3 500.7L917.4 500.3L918.5 500.1L919.7 499.9L920.8 499.7L921.9 499.5L923.0 499.5L924.1 500.0L925.2 499.9L926.3 499.7L927.4 499.6L928.5 499.7L929.6 499.7L930.7 500.0L931.9 500.2L933.0 500.3L934.1 500.0L935.2 500.7L936.3 500.7L937.4 500.4L938.5 500.6L939.6 500.7L940.7 500.7L941.8 500.5L942.9 500.5L944.0 500.2L945.2 499.9L946.3 499.9L947.4 500.2L948.5 500.4L949.6 500.2L950.7 499.8L951.8 499.7L952.9 499.8L954.0 499.8L955.1 499.7L956.2 499.7L957.3 499.5L958.5 499.4L959.6 499.0L960.7 498.9L961.8 498.9L962.9 499.1L964.0 499.3L965.1 498.8L966.2 499.0L967.3 499.4L968.4 499.6L969.5 499.2L970.7 499.1L971.8 499.4L972.9 499.9L974.0 500.5L975.1 501.2L976.2 501.3L977.3 500.9L978.4 500.7L979.5 500.8L980.6 500.7L981.7 500.5L982.8 500.8L984.0 501.4L985.1 501.2L986.2 500.9L987.3 501.1L988.4 500.8L989.5 500.8L990.6 501.0L991.7 501.0L992.8 500.8L993.9 500.6L995.0 500.4L996.1 500.4L997.3 500.9L998.4 501.0L999.5 500.5L1000.6 500.7L1001.7 500.5L1002.8 500.1L1003.9 500.5L1005.0 500.6L1006.1 500.1L1007.2 499.8L1008.3 500.1L1009.5 499.9L1010.6 499.2L1011.7 498.8L1012.8 499.2L1013.9 498.6L1015.0 498.6L1016.1 498.4L1017.2 498.8L1018.3 499.2L1019.4 499.5L1020.5 499.8L1021.6 499.7L1022.8 499.5L1023.9 499.9L1025.0 499.9L1026.1 499.5L1027.2 499.5L1028.3 499.4L1029.4 499.3L1030.5 499.2L1031.6 499.8L1032.7 500.2L1033.8 499.9L1034.9 500.3L1036.1 501.2L1037.2 501.2L1038.3 499.9L1039.4 499.1L1040.5 498.6L1041.6 499.1L1042.7 500.1L1043.8 499.8L1044.9 499.5L1046.0 499.7L1047.1 500.0L1048.3 499.4L1049.4 499.4L1050.5 499.7L1051.6 499.9L1052.7 500.5L1053.8 500.9L1054.9 500.5L1056.0 500.6L1057.1 501.0L1058.2 500.5L1059.3 500.2L1060.4 500.6L1061.6 501.1L1062.7 501.1L1063.8 500.8L1064.9 500.8L1066.0 500.5L1067.1 499.5L1068.2 500.0L1069.3 500.6L1070.4 500.2L1071.5 500.2L1072.6 499.7L1073.8 498.7L1074.9 498.3L1076.0 498.7L1077.1 499.2L1078.2 499.7L1079.3 499.2L1080.4 499.7L1081.5 500.0L1082.6 500.0L1083.7 499.6L1084.8 499.7L1085.9 499.9L1087.1 500.5L1088.2 500.9L1089.3 500.7L1090.4 500.5L1091.5 500.6L1092.6 500.4L1093.7 499.7L1094.8 499.1L1095.9 499.3L1097.0 499.5L1098.1 500.1L1099.2 500.0L1100.4 500.0L1101.5 500.1L1102.6 500.3L1103.7 500.6L1104.8 500.9L1105.9 501.3L1107.0 502.0L1108.1 505.0L1109.2 510.8L1110.3 517.7L1111.4 524.1L1112.6 530.8L1113.7 538.0L1114.8 545.9L1115.9 554.7L1117.0 564.4L1118.1 575.5L1119.2 587.9L1120.3 601.7L1121.4 616.6L1122.5 632.8L1123.6 650.8L1124.7 672.9L1125.9 696.6L1127.0 719.3L1128.1 741.5L1129.2 764.2L1130.3 784.6L1131.4 800.0L1132.5 810.8L1133.6 819.6L1134.7 827.2L1135.8 834.3L1136.9 841.5L1138.0 848.5L1139.2 855.2L1140.3 861.5L1141.4 867.4L1142.5 873.0L1143.6 878.2L1144.7 883.2L1145.8 888.1L1146.9 892.6L1148.0 896.9L1149.1 900.7L1150.2 904.1L1151.4 907.2L1152.5 910.1L1153.6 912.8L1154.7 915.4L1155.8 917.8L1156.9 920.0L1158.0 922.1L1159.1 924.1L1160.2 926.0L1161.3 927.8L1162.4 929.5L1163.5 931.1L1164.7 932.5L1165.8 933.8L1166.9 934.9L1168.0 935.9L1169.1 936.9L1170.2 937.8L1171.3 938.5L1172.4 939.1L1173.5 939.4L1174.6 939.7L1175.7 940.0L1176.9 940.1L1178.0 940.1L1179.1 940.4L1180.2 940.7L1181.3 940.8L1182.4 941.1L1183.5 941.2L1184.6 941.2L1185.7 941.2L1186.8 941.1L1187.9 941.7L1189.0 942.2L1190.2 942.1L1191.3 942.5L1192.4 942.8L1193.5 942.8L1194.6 943.3L1195.7 943.3L1196.8 943.5L1197.9 943.8L1199.0 944.0L1200.1 943.8L1201.2 944.0L1202.3 944.6L1203.5 944.8L1204.6 944.7L1205.7 944.5L1206.8 943.9L1207.9 943.9L1209.0 944.5L1210.1 944.9L1211.2 945.3L1212.3 945.6L1213.4 945.4L1214.5 945.5L1215.7 945.3L1216.8 944.7L1217.9 944.3L1219.0 944.7L1220.1 945.2L1221.2 945.6L1222.3 945.6L1223.4 945.5L1224.5 945.3L1225.6 945.4L1226.7 946.0L1227.8 946.2L1229.0 945.7L1230.1 945.6L1231.2 945.4L1232.3 945.6L1233.4 946.2L1234.5 946.1L1235.6 945.8L1236.7 945.9L1237.8 946.0L1238.9 945.6L1240.0 945.7L1241.1 945.3L1242.3 944.9L1243.4 945.8L1244.5 946.3L1245.6 945.7L1246.7 945.4L1247.8 945.4L1248.9 945.7L1250.0 946.0L1251.1 946.3L1252.2 946.2L1253.3 945.9L1254.5 945.9L1255.6 946.1L1256.7 945.8L1257.8 945.8L1258.9 946.1L1260.0 946.1L1261.1 945.6L1262.2 945.8L1263.3 946.1L1264.4 945.4L1265.5 945.4L1266.6 945.7L1267.8 946.1L1268.9 945.7L1270.0 945.6L1271.1 945.8L1272.2 946.1L1273.3 946.7L1274.4 947.0L1275.5 947.0L1276.6 946.8L1277.7 946.5L1278.8 946.7L1280.0 947.0L1281.1 946.9L1282.2 946.7L1283.3 946.6L1284.4 946.8L1285.5 947.0L1286.6 947.1L1287.7 947.0L1288.8 946.8L1289.9 946.9L1291.0 946.8L1292.1 946.7L1293.3 946.5L1294.4 946.4L1295.5 946.5L1296.6 946.5L1297.7 946.3L1298.8 946.0L1299.9 946.0L1301.0 947.0L1302.1 947.4L1303.2 947.5L1304.3 947.3L1305.4 947.2L1306.6 946.8L1307.7 946.8L1308.8 947.6L1309.9 948.1L1311.0 948.4L1312.1 948.4L1313.2 948.2L1314.3 947.7L1315.4 948.3L1316.5 948.5L1317.6 948.4L1318.8 948.1L1319.9 948.4L1321.0 949.0L1322.1 948.8L1323.2 949.3L1324.3 949.7L1325.4 949.6L1326.5 949.3L1327.6 949.3L1328.7 949.1L1329.8 948.9L1330.9 949.2L1332.1 949.5L1333.2 949.3L1334.3 949.3L1335.4 949.5L1336.5 949.5L1337.6 949.5L1338.7 950.0L1339.8 949.9L1340.9 949.5L1342.0 949.1L1343.1 949.5L1344.2 950.1L1345.4 950.3L1346.5 950.2L1347.6 949.9L1348.7 949.6L1349.8 949.3L1350.9 949.4L1352.0 949.8L1353.1 949.8L1354.2 950.0L1355.3 950.3L1356.4 950.4L1357.6 949.9L1358.7 949.6L1359.8 949.4L1360.9 949.7L1362.0 950.4L1363.1 951.0L1364.2 950.7L1365.3 950.6L1366.4 951.4L1367.5 951.8L1368.6 951.4L1369.7 951.1L1370.9 951.0L1372.0 950.3L1373.1 950.2L1374.2 950.2L1375.3 950.8L1376.4 951.0L1377.5 951.0L1378.6 950.9L1379.7 950.8L1380.8 951.0"/>
<path stroke="#a9b4dc" d="M203.5 790.0L204.6 789.9L205.7 789.7L206.8 789.8L207.9 790.0L209.0 789.9L210.2 790.0L211.3 790.0L212.4 789.8L213.5 790.2L214.6 790.3L215.7 790.0L216.8 790.0L217.9 790.1L219.0 790.3L220.1 790.2L221.2 790.4L222.3 790.3L223.5 789.8L224.6 789.9L225.7 789.9L226.8 789.8L227.9 789.9L229.0 789.8L230.1 789.5L231.2 789.7L232.3 789.8L233.4 789.7L234.5 789.9L235.6 790.7L236.8 790.9L237.9 790.7L239.0 790.2L240.1 789.8L241.2 790.1L242.3 790.4L243.4 790.4L244.5 790.4L245.6 790.8L246.7 791.2L247.8 790.9L249.0 790.6L250.1 790.6L251.2 790.8L252.3 790.7L253.4 790.5L254.5 790.4L255.6 790.4L256.7 790.8L257.8 791.1L258.9 790.8L260.0 790.6L261.1 790.3L262.3 790.2L263.4 790.1L264.5 790.4L265.6 790.3L266.7 790.3L267.8 790.5L268.9 790.8L270.0 790.8L271.1 790.5L272.2 790.1L273.3 790.1L274.5 790.1L275.6 790.2L276.7 790.5L277.8 790.8L278.9 790.8L280.0 790.6L281.1 790.4L282.2 790.3L283.3 790.5L284.4 790.9L285.5 791.0L286.6 791.0L287.8 790.7L288.9 790.3L290.0 790.1L291.1 789.9L292.2 790.2L293.3 790.3L294.4 790.3L295.5 790.3L296.6 790.3L297.7 790.2L298.8 790.2L299.9 790.1L301.1 790.3L302.2 790.5L303.3 790.6L304.4 790.3L305.5 789.9L306.6 789.8L307.7 790.1L308.8 790.4L309.9 790.7L311.0 790.8L312.1 790.6L313.3 790.7L314.4 790.6L315.5 790.0L316.6 789.9L317.7 790.0L318.8 789.7L319.9 789.6L321.0 789.8L322.1 789.7L323.2 789.7L324.3 790.0L325.4 790.1L326.6 790.3L327.7 790.7L328.8 790.5L329.9 790.1L331.0 790.4L332.1 790.5L333.2 790.6L334.3 790.9L335.4 791.1L336.5 790.9L337.6 790.6L338.7 790.5L339.9 790.4L341.0 790.7L342.1 790.7L343.2 790.4L344.3 790.2L345.4 790.2L346.5 790.5L347.6 790.8L348.7 790.7L349.8 790.6L350.9 790.7L352.1 791.0L353.2 790.8L354.3 790.8L355.4 791.1L356.5 790.9L357.6 791.0L358.7 791.1L359.8 791.0L360.9 791.0L362.0 791.2L363.1 791.1L364.2 791.1L365.4 791.1L366.5 791.2L367.6 790.7L368.7 790.4L369.8 790.5L370.9 790.7L372.0 790.8L373.1 790.8L374.2 790.8L375.3 790.8L376.4 790.5L377.6 790.4L378.7 790.5L379.8 790.5L380.9 790.3L382.0 790.3L383.1 790.3L384.2 790.5L385.3 790.7L386.4 790.6L387.5 790.3L388.6 789.8L389.7 789.6L390.9 789.5L392.0 789.7L393.1 790.3L394.2 790.6L395.3 790.4L396.4 790.0L397.5 789.7L398.6 789.9L399.7 790.1L400.8 790.1L401.9 789.9L403.0 789.8L404.2 789.9L405.3 790.2L406.4 790.7L407.5 790.6L408.6 790.1L409.7 790.3L410.8 790.7L411.9 791.0L413.0 790.7L414.1 791.0L415.2 791.5L416.4 791.8L417.5 791.7L418.6 791.1L419.7 790.6L420.8 790.6L421.9 790.7L423.0 790.8L424.1 790.7L425.2 790.7L426.3 791.1L427.4 791.1L428.5 791.0L429.7 790.8L430.8 790.7L431.9 790.6L433.0 790.5L434.1 790.5L435.2 790.5L436.3 790.4L437.4 788.8L438.5 785.6L439.6 781.5L440.7 775.9L441.8 766.4L443.0 753.7L444.1 739.1L445.2 723.8L446.3 708.8L447.4 695.4L448.5 682.0L449.6 668.5L450.7 655.1L451.8 642.0L452.9 628.8L454.0 614.9L455.2 601.4L456.3 589.3L457.4 579.6L458.5 572.6L459.6 566.8L460.7 562.0L461.8 557.8L462.9 553.8L464.0 550.1L465.1 547.1L466.2 544.9L467.3 543.7L468.5 542.5L469.6 541.6L470.7 540.8L471.8 540.2L472.9 539.8L474.0 539.6L475.1 539.5L476.2 539.4L477.3 539.4L478.4 539.3L479.5 539.2L480.6 539.2L481.8 539.1L482.9 539.1L484.0 538.6L485.1 538.5L486.2 538.5L487.3 538.4L488.4 538.4L489.5 538.5L490.6 538.5L491.7 538.6L492.8 538.3L494.0 538.2L495.1 537.8L496.2 537.0L497.3 537.3L498.4 537.9L499.5 538.3L500.6 538.8L501.7 539.3L502.8 539.3L503.9 539.3L505.0 539.5L506.1 539.5L507.3 539.2L508.4 538.7L509.5 538.2L510.6 538.6L511.7 539.4L512.8 539.2L513.9 538.6L515.0 538.2L516.1 537.6L517.2 537.0L518.3 536.9L519.5 537.6L520.6 538.9L521.7 539.5L522.8 539.1L523.9 539.0L525.0 539.3L526.1 539.3L527.2 538.7L528.3 538.5L529.4 538.7L530.5 538.6L531.6 538.6L532.8 538.6L533.9 538.7L535.0 538.6L536.1 538.6L537.2 539.0L538.3 538.5L539.4 538.2L540.5 538.2L541.6 537.7L542.7 538.3L543.8 539.3L544.9 539.7L546.1 539.9L547.2 540.1L548.3 540.4L549.4 541.1L550.5 542.0L551.6 541.8L552.7 541.2L553.8 541.6L554.9 542.3L556.0 542.3L557.1 541.4L558.3 540.8L559.4 540.3L560.5 541.0L561.6 542.1L562.7 541.9L563.8 541.1L564.9 540.7L566.0 541.2L567.1 541.7L568.2 542.3L569.3 542.6L570.4 542.4L571.6 542.0L572.7 542.3L573.8 542.7L574.9 543.2L576.0 543.7L577.1 543.5L578.2 543.5L579.3 543.6L580.4 543.4L581.5 543.0L582.6 542.7L583.7 543.1L584.9 543.3L586.0 543.3L587.1 543.6L588.2 543.6L589.3 543.8L590.4 544.1L591.5 544.7L592.6 545.1L593.7 545.1L594.8 544.6L595.9 542.8L597.1 541.2L598.2 541.2L599.3 542.1L600.4 543.2L601.5 543.4L602.6 543.0L603.7 543.1L604.8 543.0L605.9 542.9L607.0 543.0L608.1 543.0L609.2 543.7L610.4 544.4L611.5 544.8L612.6 544.6L613.7 544.4L614.8 544.3L615.9 543.8L617.0 543.3L618.1 542.8L619.2 542.9L620.3 543.5L621.4 544.4L622.6 544.9L623.7 544.6L624.8 543.8L625.9 543.2L627.0 542.7L628.1 542.7L629.2 543.1L630.3 543.0L631.4 543.2L632.5 543.3L633.6 543.5L634.7 543.8L635.9 543.7L637.0 543.7L638.1 543.7L639.2 543.9L640.3 544.1L641.4 544.0L642.5 543.7L643.6 543.9L644.7 544.1L645.8 543.9L646.9 544.1L648.0 544.1L649.2 543.7L650.3 543.4L651.4 543.3L652.5 543.3L653.6 543.6L654.7 544.0L655.8 544.3L656.9 543.9L658.0 543.7L659.1 544.2L660.2 544.7L661.4 545.0L662.5 544.4L663.6 544.1L664.7 544.2L665.8 544.3L666.9 544.8L668.0 545.1L669.1 544.5L670.2 544.0L671.3 543.2L672.4 542.9L673.5 543.4L674.7 544.1L675.8 544.1L676.9 543.8L678.0 543.6L679.1 544.2L680.2 544.5L681.3 543.2L682.4 542.3L683.5 542.3L684.6 542.1L685.7 541.5L686.8 541.4L688.0 542.2L689.1 542.5L690.2 542.6L691.3 543.1L692.4 543.3L693.5 543.1L694.6 542.7L695.7 542.2L696.8 542.2L697.9 542.1L699.0 542.6L700.2 543.2L701.3 543.4L702.4 543.8L703.5 543.7L704.6 542.9L705.7 542.2L706.8 542.4L707.9 543.0L709.0 543.1L710.1 542.6L711.2 542.3L712.3 542.5L713.5 542.0L714.6 541.7L715.7 541.7L716.8 542.6L717.9 543.3L719.0 543.2L720.1 542.6L721.2 542.6L722.3 542.8L723.4 542.8L724.5 542.8L725.7 542.8L726.8 542.5L727.9 541.7L729.0 541.6L730.1 541.4L731.2 541.1L732.3 541.3L733.4 541.3L734.5 541.4L735.6 541.9L736.7 542.4L737.8 542.7L739.0 542.9L740.1 543.3L741.2 543.3L742.3 543.3L743.4 543.7L744.5 543.8L745.6 543.1L746.7 542.7L747.8 542.5L748.9 542.2L750.0 542.1L751.1 543.2L752.3 543.9L753.4 543.4L754.5 542.2L755.6 541.1L756.7 541.1L757.8 541.5L758.9 541.3L760.0 541.0L761.1 541.0L762.2 541.0L763.3 541.4L764.5 542.0L765.6 541.9L766.7 541.7L767.8 541.8L768.9 542.3L770.0 543.0L771.1 543.4L772.2 543.2L773.3 542.7L774.4 542.9L775.5 543.5L776.6 543.3L777.8 542.9L778.9 543.1L780.0 543.2L781.1 544.1L782.2 544.4L783.3 543.3L784.4 542.2L785.5 542.9L786.6 543.8L787.7 544.4L788.8 544.5L789.9 543.7L791.1 543.4L792.2 543.8L793.3 543.9L794.4 543.8L795.5 543.2L796.6 542.5L797.7 542.2L798.8 542.4L799.9 542.9L801.0 543.3L802.1 543.1L803.3 542.9L804.4 543.4L805.5 543.5L806.6 543.8L807.7 544.6L808.8 544.5L809.9 544.3L811.0 544.0L812.1 543.5L813.2 543.5L814.3 543.4L815.4 543.2L816.6 543.3L817.7 543.4L818.8 542.7L819.9 542.0L821.0 542.5L822.1 543.6L823.2 544.3L824.3 544.4L825.4 544.0L826.5 543.8L827.6 544.8L828.8 545.4L829.9 544.7L831.0 544.0L832.1 544.0L833.2 543.9L834.3 543.4L835.4 543.0L836.5 542.5L837.6 542.5L838.7 542.5L839.8 542.3L840.9 542.5L842.1 543.3L843.2 543.3L844.3 542.8L845.4 542.2L846.5 542.3L847.6 543.1L848.7 543.9L849.8 543.8L850.9 543.4L852.0 543.4L853.1 543.4L854.2 543.0L855.4 542.2L856.5 542.0L857.6 543.0L858.7 543.8L859.8 544.3L860.9 544.7L862.0 544.5L863.1 544.1L864.2 543.6L865.3 543.0L866.4 543.0L867.6 543.4L868.7 544.0L869.8 544.5L870.9 544.0L872.0 543.1L873.1 542.7L874.2 543.1L875.3 542.9L876.4 542.6L877.5 543.6L878.6 544.5L879.7 544.8L880.9 544.7L882.0 544.4L883.1 544.3L884.2 544.2L885.3 544.5L886.4 544.8L887.5 544.6L888.6 544.5L889.7 544.6L890.8 543.9L891.9 543.3L893.0 544.2L894.2 544.7L895.3 544.5L896.4 543.8L897.5 543.3L898.6 543.5L899.7 544.2L900.8 544.7L901.9 544.8L903.0 544.7L904.1 544.4L905.2 544.7L906.4 545.1L907.5 545.3L908.6 545.3L909.7 544.6L910.8 544.7L911.9 544.9L913.0 545.0L914.1 544.9L915.2 544.8L916.3 544.7L917.4 544.4L918.5 544.1L919.7 544.6L920.8 544.5L921.9 544.0L923.0 544.1L924.1 544.0L925.2 543.8L926.3 543.3L927.4 542.8L928.5 542.6L929.6 542.5L930.7 542.9L931.9 542.7L933.0 542.7L934.1 543.2L935.2 543.6L936.3 544.2L937.4 544.7L938.5 544.3L939.6 543.5L940.7 543.0L941.8 543.0L942.9 543.0L944.0 542.7L945.2 542.1L946.3 542.4L947.4 542.9L948.5 543.2L949.6 543.8L950.7 543.7L951.8 543.2L952.9 543.5L954.0 543.6L955.1 543.6L956.2 543.5L957.3 543.3L958.5 543.5L959.6 543.5L960.7 543.4L961.8 543.7L962.9 544.0L964.0 543.7L965.1 543.4L966.2 543.2L967.3 543.2L968.4 543.1L969.5 542.9L970.7 543.1L971.8 543.3L972.9 543.8L974.0 544.2L975.1 543.6L976.2 542.8L977.3 542.6L978.4 542.2L979.5 542.0L980.6 542.6L981.7 543.0L982.8 542.9L984.0 542.4L985.1 542.2L986.2 542.6L987.3 543.3L988.4 543.7L989.5 543.6L990.6 542.8L991.7 542.4L992.8 543.4L993.9 544.3L995.0 544.5L996.1 544.3L997.3 543.5L998.4 542.3L999.5 541.6L1000.6 541.5L1001.7 541.4L1002.8 541.5L1003.9 542.2L1005.0 542.8L1006.1 542.8L1007.2 542.9L1008.3 543.0L1009.5 542.5L1010.6 542.2L1011.7 541.9L1012.8 541.8L1013.9 542.5L1015.0 542.9L1016.1 542.7L1017.2 542.1L1018.3 541.7L1019.4 541.6L1020.5 541.0L1021.6 541.0L1022.8 540.9L1023.9 541.0L1025.0 542.0L1026.1 542.4L1027.2 542.0L1028.3 541.9L1029.4 542.3L1030.5 543.0L1031.6 543.4L1032.7 542.8L1033.8 542.7L1034.9 543.0L1036.1 542.9L1037.2 542.7L1038.3 542.7L1039.4 543.0L1040.5 543.1L1041.6 542.6L1042.7 542.3L1043.8 541.7L1044.9 541.5L1046.0 542.0L1047.1 542.2L1048.3 542.1L1049.4 541.7L1050.5 540.9L1051.6 540.6L1052.7 540.6L1053.8 540.5L1054.9 540.9L1056.0 541.1L1057.1 540.2L1058.2 540.0L1059.3 540.8L1060.4 541.1L1061.6 540.8L1062.7 540.7L1063.8 540.6L1064.9 540.8L1066.0 541.3L1067.1 541.3L1068.2 540.7L1069.3 540.6L1070.4 541.3L1071.5 541.8L1072.6 542.1L1073.8 542.0L1074.9 541.9L1076.0 542.5L1077.1 543.2L1078.2 542.5L1079.3 541.5L1080.4 541.5L1081.5 542.5L1082.6 543.3L1083.7 543.0L1084.8 542.7L1085.9 542.5L1087.1 542.4L1088.2 542.3L1089.3 542.3L1090.4 542.3L1091.5 542.4L1092.6 542.3L1093.7 541.6L1094.8 540.9L1095.9 540.7L1097.0 540.8L1098.1 540.9L1099.2 540.6L1100.4 540.7L1101.5 541.0L1102.6 541.4L1103.7 541.8L1104.8 542.4L1105.9 543.1L1107.0 545.4L1108.1 549.8L1109.2 555.6L1110.3 562.1L1111.4 571.5L1112.6 583.3L1113.7 596.1L1114.8 609.2L1115.9 623.6L1117.0 639.0L1118.1 654.6L1119.2 669.7L1120.3 683.9L1121.4 698.2L1122.5 712.5L1123.6 726.2L1124.7 738.5L1125.9 748.8L1127.0 757.5L1128.1 765.7L1129.2 772.7L1130.3 777.9L1131.4 780.9L1132.5 783.0L1133.6 784.9L1134.7 786.4L1135.8 787.6L1136.9 788.5L1138.0 789.0L1139.2 789.3L1140.3 789.7L1141.4 790.0L1142.5 790.4L1143.6 790.6L1144.7 790.8L1145.8 791.0L1146.9 791.0L1148.0 790.9L1149.1 790.9L1150.2 791.0L1151.4 791.2L1152.5 791.3L1153.6 791.3L1154.7 791.1L1155.8 791.0L1156.9 791.3L1158.0 791.5L1159.1 791.3L1160.2 791.2L1161.3 791.1L1162.4 791.1L1163.5 791.1L1164.7 790.8L1165.8 790.7L1166.9 790.9L1168.0 791.1L1169.1 791.0L1170.2 790.9L1171.3 791.1L1172.4 791.2L1173.5 791.5L1174.6 791.7L1175.7 791.6L1176.9 791.5L1178.0 791.3L1179.1 791.1L1180.2 791.1L1181.3 791.1L1182.4 791.3L1183.5 791.3L1184.6 791.3L1185.7 791.3L1186.8 791.3L1187.9 791.3L1189.0 791.4L1190.2 791.7L1191.3 791.7L1192.4 791.6L1193.5 791.6L1194.6 791.6L1195.7 791.6L1196.8 791.5L1197.9 791.6L1199.0 791.7L1200.1 791.7L1201.2 791.7L1202.3 791.7L1203.5 791.8L1204.6 791.7L1205.7 791.5L1206.8 791.3L1207.9 791.5L1209.0 791.6L1210.1 791.5L1211.2 791.5L1212.3 791.6L1213.4 791.7L1214.5 791.7L1215.7 791.6L1216.8 791.6L1217.9 791.5L1219.0 791.6L1220.1 791.6L1221.2 791.6L1222.3 791.6L1223.4 791.7L1224.5 791.8L1225.6 791.7L1226.7 791.6L1227.8 791.6L1229.0 791.5L1230.1 791.5L1231.2 791.6L1232.3 791.7L1233.4 791.7L1234.5 791.7L1235.6 791.8L1236.7 791.6L1237.8 791.7L1238.9 791.9L1240.0 791.8L1241.1 791.7L1242.3 791.8L1243.4 792.0L1244.5 791.9L1245.6 792.0L1246.7 792.0L1247.8 791.9L1248.9 792.0L1250.0 792.0L1251.1 792.0L1252.2 791.8L1253.3 791.8L1254.5 791.8L1255.6 791.9L1256.7 792.2L1257.8 792.1L1258.9 791.9L1260.0 791.8L1261.1 791.8L1262.2 791.9L1263.3 791.9L1264.4 792.0L1265.5 792.2L1266.6 792.3L1267.8 792.3L1268.9 792.1L1270.0 792.3L1271.1 792.4L1272.2 792.2L1273.3 792.2L1274.4 792.4L1275.5 792.3L1276.6 792.2L1277.7 792.2L1278.8 792.1L1280.0 792.1L1281.1 792.1L1282.2 792.4L1283.3 792.3L1284.4 792.1L1285.5 792.2L1286.6 792.2L1287.7 792.3L1288.8 792.4L1289.9 792.2L1291.0 792.1L1292.1 792.1L1293.3 792.0L1294.4 792.0L1295.5 792.3L1296.6 792.4L1297.7 792.3L1298.8 792.4L1299.9 792.5L1301.0 792.2L1302.1 792.1L1303.2 792.1L1304.3 792.0L1305.4 791.9L1306.6 791.9L1307.7 792.0L1308.8 792.0L1309.9 791.8L1311.0 791.9L1312.1 792.2L1313.2 792.4L1314.3 792.4L1315.4 792.3L1316.5 792.5L1317.6 792.5L1318.8 792.5L1319.9 792.5L1321.0 792.4L1322.1 792.3L1323.2 792.3L1324.3 792.2L1325.4 792.3L1326.5 792.4L1327.6 792.6L1328.7 792.8L1329.8 792.9L1330.9 792.6L1332.1 792.3L1333.2 792.3L1334.3 792.3L1335.4 792.5L1336.5 792.4L1337.6 792.1L1338.7 792.2L1339.8 792.2L1340.9 792.3L1342.0 792.5L1343.1 792.5L1344.2 792.4L1345.4 792.3L1346.5 792.3L1347.6 792.4L1348.7 792.5L1349.8 792.4L1350.9 792.2L1352.0 792.3L1353.1 792.5L1354.2 792.7L1355.3 792.6L1356.4 792.4L1357.6 792.4L1358.7 792.4L1359.8 792.5L1360.9 792.5L1362.0 792.3L1363.1 792.4L1364.2 792.5L1365.3 792.5L1366.4 792.5L1367.5 792.5L1368.6 792.6L1369.7 792.5L1370.9 792.4L1372.0 792.4L1373.1 792.5L1374.2 792.6L1375.3 792.7L1376.4 792.5L1377.5 792.3L1378.6 792.4L1379.7 792.5L1380.8 792.3L1381.9 792.2L1383.1 792.3L1384.2 792.2L1385.3 792.3L1386.4 792.4L1387.5 792.4L1388.6 792.3L1389.7 792.4L1390.8 792.6L1391.9 792.5L1393.0 792.3L1394.1 792.2L1395.2 792.2L1396.4 792.3L1397.5 792.3L1398.6 792.0L1399.7 792.1L1400.8 792.3L1401.9 792.6L1403.0 792.7L1404.1 792.6L1405.2 792.4L1406.3 792.4L1407.4 792.3L1408.5 792.4L1409.7 792.4L1410.8 792.4L1411.0 792.5"/>
<path stroke="#2f5597" d="M203.5 787.5L204.6 787.5L205.7 787.8L206.8 787.9L207.9 787.7L209.0 787.9L210.2 788.1L211.3 787.9L212.4 787.7L213.5 787.6L214.6 787.5L215.7 787.8L216.8 787.7L217.9 787.5L219.0 787.3L220.1 787.3L221.2 787.4L222.3 786.8L223.5 786.4L224.6 786.5L225.7 786.7L226.8 786.5L227.9 786.0L229.0 785.9L230.1 786.2L231.2 786.0L232.3 786.0L233.4 785.9L234.5 785.9L235.6 785.8L236.8 785.7L237.9 785.8L239.0 785.9L240.1 786.3L241.2 786.7L242.3 786.4L243.4 786.5L244.5 786.4L245.6 786.1L246.7 785.9L247.8 786.0L249.0 786.0L250.1 786.2L251.2 786.1L252.3 786.0L253.4 786.1L254.5 786.1L255.6 786.0L256.7 786.0L257.8 786.0L258.9 786.3L260.0 786.4L261.1 786.3L262.3 786.4L263.4 786.5L264.5 786.2L265.6 786.0L266.7 786.1L267.8 785.9L268.9 785.7L270.0 785.5L271.1 785.7L272.2 785.8L273.3 785.8L274.5 785.5L275.6 785.8L276.7 786.5L277.8 786.7L278.9 786.4L280.0 785.9L281.1 785.5L282.2 785.7L283.3 785.5L284.4 785.2L285.5 785.2L286.6 785.5L287.8 785.9L288.9 786.2L290.0 786.6L291.1 786.5L292.2 786.1L293.3 785.9L294.4 785.7L295.5 785.9L296.6 785.8L297.7 785.8L298.8 785.8L299.9 785.7L301.1 785.6L302.2 785.7L303.3 785.5L304.4 784.9L305.5 785.1L306.6 785.4L307.7 785.5L308.8 785.8L309.9 786.1L311.0 786.1L312.1 786.2L313.3 786.5L314.4 786.5L315.5 786.7L316.6 787.1L317.7 786.8L318.8 786.4L319.9 786.5L321.0 786.2L322.1 786.0L323.2 785.8L324.3 785.9L325.4 785.7L326.6 786.1L327.7 786.5L328.8 786.2L329.9 785.8L331.0 785.5L332.1 785.6L333.2 785.6L334.3 785.1L335.4 785.3L336.5 785.8L337.6 785.9L338.7 786.1L339.9 786.1L341.0 785.8L342.1 786.1L343.2 786.4L344.3 786.2L345.4 786.2L346.5 786.3L347.6 786.1L348.7 786.2L349.8 786.3L350.9 786.3L352.1 786.4L353.2 786.6L354.3 786.8L355.4 786.5L356.5 786.5L357.6 787.0L358.7 786.6L359.8 785.9L360.9 785.8L362.0 785.8L363.1 786.1L364.2 785.9L365.4 786.1L366.5 786.4L367.6 786.1L368.7 786.1L369.8 786.3L370.9 786.5L372.0 786.6L373.1 786.5L374.2 786.1L375.3 785.9L376.4 785.7L377.6 785.9L378.7 786.2L379.8 786.5L380.9 786.3L382.0 785.9L383.1 785.7L384.2 785.6L385.3 785.6L386.4 785.6L387.5 785.7L388.6 785.6L389.7 785.8L390.9 785.8L392.0 785.4L393.1 785.2L394.2 785.4L395.3 786.0L396.4 786.1L397.5 785.8L398.6 785.4L399.7 785.3L400.8 785.5L401.9 785.5L403.0 785.4L404.2 784.9L405.3 784.3L406.4 784.4L407.5 784.8L408.6 785.1L409.7 785.0L410.8 785.0L411.9 785.0L413.0 785.0L414.1 785.2L415.2 785.0L416.4 785.1L417.5 785.8L418.6 786.0L419.7 785.9L420.8 785.8L421.9 785.5L423.0 785.5L424.1 785.6L425.2 785.7L426.3 785.5L427.4 785.2L428.5 785.3L429.7 785.2L430.8 785.5L431.9 785.7L433.0 785.5L434.1 785.5L435.2 785.5L436.3 784.2L437.4 781.7L438.5 777.4L439.6 765.9L440.7 749.2L441.8 730.3L443.0 712.7L444.1 699.4L445.2 689.2L446.3 679.7L447.4 670.7L448.5 662.3L449.6 654.6L450.7 647.4L451.8 640.9L452.9 635.0L454.0 629.8L455.2 625.0L456.3 620.4L457.4 616.2L458.5 612.4L459.6 609.1L460.7 606.5L461.8 604.5L462.9 603.1L464.0 602.0L465.1 601.1L466.2 600.3L467.3 599.5L468.5 598.5L469.6 597.3L470.7 595.7L471.8 592.8L472.9 588.8L474.0 584.8L475.1 581.8L476.2 580.1L477.3 578.7L478.4 577.5L479.5 576.4L480.6 575.6L481.8 574.9L482.9 574.4L484.0 574.1L485.1 573.8L486.2 573.5L487.3 573.3L488.4 573.1L489.5 573.0L490.6 573.0L491.7 572.9L492.8 573.1L494.0 572.8L495.1 572.3L496.2 572.3L497.3 573.2L498.4 573.1L499.5 572.1L500.6 572.0L501.7 572.2L502.8 572.8L503.9 572.8L505.0 573.0L506.1 572.8L507.3 572.8L508.4 573.6L509.5 573.4L510.6 573.1L511.7 573.1L512.8 573.6L513.9 573.9L515.0 573.9L516.1 574.5L517.2 574.4L518.3 573.7L519.5 573.5L520.6 573.1L521.7 573.0L522.8 572.4L523.9 572.5L525.0 573.3L526.1 572.9L527.2 572.5L528.3 572.1L529.4 572.1L530.5 571.8L531.6 571.3L532.8 571.7L533.9 572.1L535.0 572.4L536.1 572.8L537.2 572.6L538.3 572.0L539.4 572.1L540.5 572.4L541.6 572.4L542.7 572.2L543.8 571.7L544.9 571.9L546.1 571.6L547.2 570.8L548.3 570.7L549.4 571.1L550.5 571.5L551.6 571.6L552.7 571.8L553.8 571.9L554.9 572.4L556.0 572.9L557.1 572.7L558.3 572.2L559.4 572.7L560.5 572.9L561.6 572.4L562.7 572.7L563.8 572.1L564.9 571.7L566.0 572.3L567.1 572.0L568.2 571.9L569.3 572.7L570.4 572.6L571.6 572.0L572.7 571.8L573.8 572.2L574.9 572.6L576.0 572.6L577.1 572.0L578.2 572.7L579.3 572.9L580.4 572.8L581.5 572.9L582.6 572.9L583.7 572.2L584.9 572.2L586.0 572.8L587.1 573.0L588.2 573.3L589.3 573.8L590.4 574.2L591.5 573.6L592.6 573.5L593.7 573.4L594.8 572.8L595.9 572.5L597.1 572.5L598.2 572.4L599.3 572.0L600.4 572.3L601.5 572.6L602.6 572.7L603.7 572.9L604.8 572.5L605.9 572.9L607.0 572.8L608.1 572.7L609.2 572.5L610.4 572.2L611.5 572.6L612.6 573.0L613.7 572.5L614.8 572.2L615.9 571.5L617.0 571.3L618.1 571.5L619.2 571.4L620.3 571.5L621.4 572.1L622.6 572.3L623.7 572.4L624.8 572.1L625.9 571.8L627.0 571.7L628.1 571.9L629.2 571.7L630.3 571.9L631.4 572.0L632.5 572.1L633.6 571.6L634.7 571.7L635.9 571.4L637.0 572.0L638.1 572.2L639.2 572.1L640.3 571.6L641.4 572.3L642.5 572.1L643.6 571.6L644.7 571.1L645.8 571.3L646.9 572.0L648.0 572.1L649.2 571.5L650.3 571.1L651.4 571.2L652.5 570.9L653.6 571.3L654.7 571.8L655.8 572.2L656.9 571.8L658.0 572.0L659.1 572.5L660.2 572.4L661.4 571.8L662.5 571.5L663.6 571.4L664.7 572.0L665.8 571.9L666.9 571.6L668.0 571.7L669.1 572.1L670.2 571.5L671.3 571.1L672.4 571.4L673.5 571.3L674.7 570.8L675.8 570.5L676.9 570.8L678.0 571.1L679.1 571.1L680.2 571.4L681.3 571.8L682.4 571.7L683.5 572.1L684.6 572.1L685.7 572.1L686.8 572.9L688.0 573.1L689.1 572.8L690.2 572.9L691.3 573.5L692.4 573.2L693.5 572.4L694.6 572.5L695.7 572.8L696.8 572.6L697.9 572.6L699.0 572.2L700.2 572.1L701.3 571.9L702.4 571.8L703.5 571.7L704.6 571.5L705.7 571.3L706.8 571.8L707.9 571.4L709.0 571.4L710.1 572.1L711.2 572.0L712.3 572.1L713.5 571.5L714.6 572.0L715.7 572.2L716.8 572.1L717.9 572.3L719.0 571.8L720.1 571.7L721.2 571.6L722.3 571.5L723.4 571.0L724.5 571.0L725.7 570.8L726.8 570.7L727.9 571.9L729.0 571.6L730.1 571.5L731.2 571.6L732.3 571.3L733.4 571.0L734.5 570.7L735.6 571.2L736.7 571.7L737.8 572.0L739.0 572.0L740.1 572.0L741.2 572.0L742.3 572.1L743.4 572.2L744.5 572.3L745.6 572.3L746.7 571.8L747.8 572.2L748.9 572.8L750.0 572.8L751.1 572.6L752.3 572.8L753.4 573.0L754.5 573.4L755.6 574.0L756.7 573.8L757.8 573.0L758.9 573.1L760.0 573.4L761.1 572.8L762.2 572.7L763.3 572.3L764.5 571.9L765.6 572.1L766.7 572.3L767.8 572.3L768.9 571.8L770.0 572.0L771.1 571.5L772.2 571.1L773.3 570.5L774.4 570.3L775.5 570.8L776.6 571.0L777.8 571.3L778.9 571.2L780.0 570.8L781.1 571.3L782.2 571.8L783.3 572.0L784.4 572.2L785.5 572.2L786.6 572.1L787.7 572.3L788.8 572.3L789.9 572.4L791.1 572.4L792.2 572.5L793.3 572.6L794.4 571.6L795.5 571.2L796.6 571.7L797.7 571.7L798.8 571.8L799.9 571.8L801.0 571.9L802.1 571.8L803.3 572.0L804.4 572.9L805.5 572.7L806.6 572.0L807.7 572.3L808.8 572.8L809.9 572.5L811.0 572.1L812.1 572.4L813.2 572.5L814.3 572.1L815.4 571.9L816.6 571.8L817.7 572.3L818.8 572.4L819.9 571.6L821.0 571.2L822.1 571.5L823.2 571.5L824.3 571.3L825.4 571.0L826.5 570.9L827.6 570.8L828.8 570.9L829.9 570.9L831.0 571.1L832.1 571.5L833.2 571.1L834.3 570.9L835.4 571.2L836.5 571.7L837.6 571.8L838.7 571.1L839.8 570.9L840.9 571.0L842.1 571.3L843.2 571.6L844.3 572.1L845.4 571.9L846.5 570.8L847.6 570.0L848.7 570.1L849.8 570.4L850.9 570.7L852.0 570.7L853.1 570.3L854.2 570.7L855.4 570.5L856.5 569.5L857.6 569.8L858.7 570.9L859.8 570.8L860.9 571.3L862.0 572.5L863.1 571.9L864.2 571.4L865.3 571.0L866.4 571.7L867.6 572.2L868.7 572.1L869.8 572.5L870.9 572.1L872.0 572.4L873.1 572.0L874.2 571.5L875.3 571.7L876.4 571.9L877.5 571.3L878.6 570.6L879.7 571.0L880.9 571.0L882.0 571.3L883.1 571.4L884.2 571.2L885.3 571.2L886.4 571.0L887.5 571.2L888.6 571.0L889.7 571.1L890.8 571.0L891.9 570.9L893.0 571.3L894.2 570.9L895.3 571.5L896.4 571.6L897.5 571.8L898.6 572.0L899.7 572.1L900.8 572.3L901.9 571.8L903.0 571.3L904.1 571.9L905.2 572.0L906.4 572.6L907.5 572.4L908.6 572.0L909.7 571.8L910.8 572.1L911.9 571.6L913.0 571.1L914.1 570.9L915.2 571.2L916.3 571.8L917.4 571.6L918.5 571.1L919.7 570.7L920.8 570.9L921.9 571.3L923.0 571.2L924.1 571.2L925.2 571.6L926.3 571.2L927.4 571.0L928.5 570.6L929.6 570.9L930.7 571.2L931.9 571.6L933.0 571.7L934.1 571.5L935.2 571.7L936.3 571.7L937.4 571.2L938.5 571.2L939.6 571.1L940.7 570.9L941.8 571.6L942.9 571.6L944.0 571.7L945.2 571.6L946.3 572.4L947.4 572.7L948.5 572.4L949.6 572.2L950.7 572.2L951.8 571.8L952.9 572.2L954.0 572.2L955.1 572.0L956.2 571.7L957.3 571.1L958.5 571.0L959.6 571.1L960.7 571.0L961.8 570.7L962.9 571.0L964.0 571.3L965.1 571.7L966.2 572.0L967.3 572.3L968.4 572.4L969.5 572.3L970.7 571.9L971.8 572.2L972.9 572.4L974.0 572.7L975.1 571.8L976.2 571.0L977.3 571.7L978.4 571.5L979.5 571.6L980.6 571.6L981.7 571.8L982.8 572.3L984.0 572.0L985.1 571.6L986.2 571.2L987.3 571.1L988.4 571.3L989.5 571.4L990.6 571.1L991.7 570.7L992.8 571.2L993.9 571.3L995.0 571.1L996.1 571.5L997.3 571.6L998.4 571.5L999.5 571.9L1000.6 571.2L1001.7 571.1L1002.8 571.4L1003.9 571.6L1005.0 571.8L1006.1 571.3L1007.2 571.4L1008.3 572.2L1009.5 572.0L1010.6 572.0L1011.7 572.2L1012.8 572.2L1013.9 571.9L1015.0 571.4L1016.1 571.4L1017.2 571.7L1018.3 571.9L1019.4 571.9L1020.5 571.1L1021.6 571.0L1022.8 570.9L1023.9 570.5L1025.0 569.7L1026.1 569.7L1027.2 570.1L1028.3 570.0L1029.4 570.2L1030.5 570.5L1031.6 570.7L1032.7 570.3L1033.8 570.2L1034.9 570.7L1036.1 571.3L1037.2 571.2L1038.3 571.7L1039.4 571.7L1040.5 571.3L1041.6 570.8L1042.7 571.0L1043.8 571.0L1044.9 570.7L1046.0 570.4L1047.1 570.5L1048.3 570.6L1049.4 570.9L1050.5 571.2L1051.6 571.1L1052.7 571.3L1053.8 572.3L1054.9 572.6L1056.0 573.0L1057.1 572.8L1058.2 572.4L1059.3 572.7L1060.4 572.8L1061.6 572.8L1062.7 572.7L1063.8 572.5L1064.9 572.5L1066.0 572.1L1067.1 571.1L1068.2 571.4L1069.3 571.4L1070.4 571.2L1071.5 571.6L1072.6 571.5L1073.8 571.7L1074.9 571.9L1076.0 571.7L1077.1 571.1L1078.2 571.1L1079.3 571.1L1080.4 570.9L1081.5 571.2L1082.6 571.4L1083.7 571.0L1084.8 571.2L1085.9 570.8L1087.1 570.7L1088.2 571.0L1089.3 570.9L1090.4 571.4L1091.5 571.4L1092.6 570.9L1093.7 570.4L1094.8 570.5L1095.9 570.9L1097.0 570.7L1098.1 569.7L1099.2 569.1L1100.4 569.7L1101.5 570.1L1102.6 570.4L1103.7 570.3L1104.8 570.1L1105.9 570.0L1107.0 569.8L1108.1 569.8L1109.2 569.9L1110.3 570.1L1111.4 570.4L1112.6 570.9L1113.7 572.2L1114.8 575.7L1115.9 580.6L1117.0 586.1L1118.1 591.6L1119.2 598.1L1120.3 605.6L1121.4 613.9L1122.5 622.9L1123.6 632.2L1124.7 641.9L1125.9 651.6L1127.0 661.3L1128.1 670.7L1129.2 679.7L1130.3 688.2L1131.4 697.0L1132.5 706.2L1133.6 715.4L1134.7 724.3L1135.8 732.5L1136.9 739.5L1138.0 745.0L1139.2 748.9L1140.3 752.3L1141.4 755.4L1142.5 758.1L1143.6 760.5L1144.7 762.6L1145.8 764.4L1146.9 765.9L1148.0 767.2L1149.1 768.4L1150.2 769.5L1151.4 770.6L1152.5 771.6L1153.6 772.4L1154.7 773.3L1155.8 774.0L1156.9 774.6L1158.0 775.2L1159.1 775.7L1160.2 776.1L1161.3 776.4L1162.4 776.8L1163.5 777.1L1164.7 777.4L1165.8 777.7L1166.9 777.6L1168.0 777.5L1169.1 777.1L1170.2 777.7L1171.3 778.5L1172.4 778.7L1173.5 778.9L1174.6 779.5L1175.7 780.1L1176.9 779.9L1178.0 779.9L1179.1 780.1L1180.2 780.5L1181.3 780.5L1182.4 780.1L1183.5 780.7L1184.6 781.3L1185.7 781.9L1186.8 782.3L1187.9 782.3L1189.0 782.0L1190.2 781.9L1191.3 782.2L1192.4 782.2L1193.5 781.8L1194.6 781.8L1195.7 781.7L1196.8 781.3L1197.9 781.4L1199.0 781.9L1200.1 781.6L1201.2 781.7L1202.3 782.3L1203.5 782.3L1204.6 781.7L1205.7 781.1L1206.8 780.9L1207.9 780.8L1209.0 780.6L1210.1 781.2L1211.2 781.7L1212.3 781.4L1213.4 781.7L1214.5 782.5L1215.7 782.1L1216.8 782.1L1217.9 782.8L1219.0 783.2L1220.1 782.9L1221.2 782.6L1222.3 783.1L1223.4 783.5L1224.5 783.3L1225.6 783.4L1226.7 783.5L1227.8 783.2L1229.0 783.1L1230.1 782.9L1231.2 782.8L1232.3 782.6L1233.4 782.7L1234.5 783.0L1235.6 782.9L1236.7 782.8L1237.8 782.3L1238.9 781.8L1240.0 782.0L1241.1 782.8L1242.3 783.1L1243.4 783.0L1244.5 783.5L1245.6 784.6L1246.7 784.7L1247.8 783.9L1248.9 783.6L1250.0 784.0L1251.1 783.9L1252.2 783.6L1253.3 783.7L1254.5 784.4L1255.6 784.5L1256.7 784.3L1257.8 784.1L1258.9 784.1L1260.0 783.6L1261.1 782.9L1262.2 783.7L1263.3 784.2L1264.4 783.9L1265.5 783.9L1266.6 783.6L1267.8 783.2L1268.9 783.5L1270.0 785.1L1271.1 785.4L1272.2 784.9L1273.3 784.4L1274.4 784.5L1275.5 785.0L1276.6 785.4L1277.7 785.2L1278.8 785.0L1280.0 785.6L1281.1 785.6L1282.2 785.5L1283.3 786.0L1284.4 785.3L1285.5 784.1L1286.6 783.7L1287.7 783.6L1288.8 783.9L1289.9 784.1L1291.0 784.9L1292.1 785.2L1293.3 785.1L1294.4 784.6L1295.5 783.5L1296.6 783.1L1297.7 783.8L1298.8 784.5L1299.9 784.5L1301.0 784.5L1302.1 784.1L1303.2 783.7L1304.3 783.4L1305.4 783.8L1306.6 784.5L1307.7 785.2L1308.8 785.3L1309.9 784.8L1311.0 783.8L1312.1 783.4L1313.2 783.7L1314.3 784.2L1315.4 784.4L1316.5 784.5L1317.6 784.6L1318.8 784.5L1319.9 784.9L1321.0 785.3L1322.1 785.1L1323.2 785.0L1324.3 785.3L1325.4 785.2L1326.5 785.1L1327.6 785.2L1328.7 785.2L1329.8 785.0L1330.9 784.5L1332.1 784.6L1333.2 784.4L1334.3 785.0L1335.4 786.0L1336.5 785.8L1337.6 785.5L1338.7 785.4L1339.8 785.0L1340.9 784.9L1342.0 785.3L1343.1 785.5L1344.2 785.1L1345.4 785.5L1346.5 785.6L1347.6 785.8L1348.7 785.8L1349.8 785.5L1350.9 785.3L1352.0 785.4L1353.1 786.2L1354.2 786.3L1355.3 786.0L1356.4 786.1L1357.6 786.2L1358.7 785.5L1359.8 785.1L1360.9 785.4L1362.0 785.7L1363.1 785.8L1364.2 785.5L1365.3 785.0L1366.4 785.6L1367.5 786.5L1368.6 786.8L1369.7 786.1L1370.9 785.3L1372.0 785.4L1373.1 785.9L1374.2 786.3L1375.3 785.5L1376.4 785.8L1377.5 786.3L1378.6 785.4L1379.7 785.2L1380.8 785.4L1381.9 786.1L1383.1 786.5L1384.2 786.4L1385.3 786.4L1386.4 786.7L1387.5 786.4L1388.6 786.5L1389.7 786.5L1390.8 786.7L1391.9 786.5L1393.0 785.9L1394.1 785.9L1395.2 786.2L1396.4 787.0L1397.5 786.9L1398.6 787.1L1399.7 787.7L1400.8 787.9L1401.9 787.4L1403.0 787.6L1404.1 787.6L1405.2 787.8L1406.3 788.1L1407.4 788.0L1408.5 787.2L1409.7 786.5L1410.8 786.3L1411.9 786.9L1413.0 786.9L1414.1 787.4L1415.2 786.6L1416.3 786.1L1417.4 785.7L1418.5 785.8L1419.6 786.1L1420.7 786.1L1421.9 785.9L1423.0 785.9L1424.1 786.0L1425.2 786.3L1426.3 786.7L1427.4 786.5L1428.5 785.9L1429.6 786.1L1430.7 786.5L1431.8 786.6L1432.9 786.4L1434.0 786.8L1435.2 786.9L1436.3 787.0L1437.4 787.0L1438.5 787.2L1439.6 787.5L1440.7 787.3L1441.8 787.0L1442.9 786.9L1443.0 786.6"/>
<path stroke="#3f6ec2" d="M203.5 787.5L204.6 787.4L205.7 787.3L206.8 787.2L207.9 787.3L209.0 787.4L210.2 787.2L211.3 787.1L212.4 787.3L213.5 787.3L214.6 786.9L215.7 787.1L216.8 787.8L217.9 787.4L219.0 786.9L220.1 786.5L221.2 786.6L222.3 786.8L223.5 786.7L224.6 786.6L225.7 786.7L226.8 786.8L227.9 786.7L229.0 786.2L230.1 786.1L231.2 786.5L232.3 786.5L233.4 786.2L234.5 786.0L235.6 786.2L236.8 786.6L237.9 787.0L239.0 787.1L240.1 786.9L241.2 786.8L242.3 787.2L243.4 787.1L244.5 786.8L245.6 786.9L246.7 787.0L247.8 786.8L249.0 786.7L250.1 787.0L251.2 787.0L252.3 786.6L253.4 786.5L254.5 786.1L255.6 786.1L256.7 786.5L257.8 786.6L258.9 786.4L260.0 786.7L261.1 786.8L262.3 786.4L263.4 786.3L264.5 786.2L265.6 786.3L266.7 787.0L267.8 786.9L268.9 786.5L270.0 786.8L271.1 786.9L272.2 786.9L273.3 787.0L274.5 787.2L275.6 786.9L276.7 786.9L277.8 787.3L278.9 787.2L280.0 786.9L281.1 786.8L282.2 786.0L283.3 785.9L284.4 786.3L285.5 786.3L286.6 786.2L287.8 785.9L288.9 785.7L290.0 785.7L291.1 785.9L292.2 786.2L293.3 786.3L294.4 786.3L295.5 786.1L296.6 785.5L297.7 785.5L298.8 785.7L299.9 786.1L301.1 786.0L302.2 786.0L303.3 785.8L304.4 785.5L305.5 785.5L306.6 785.9L307.7 786.0L308.8 785.9L309.9 786.2L311.0 786.1L312.1 786.1L313.3 786.1L314.4 785.9L315.5 785.7L316.6 786.1L317.7 786.3L318.8 786.3L319.9 786.4L321.0 786.0L322.1 785.5L323.2 785.4L324.3 785.5L325.4 785.8L326.6 786.3L327.7 786.4L328.8 785.8L329.9 785.8L331.0 786.2L332.1 786.5L333.2 786.5L334.3 786.4L335.4 786.6L336.5 786.6L337.6 786.6L338.7 786.8L339.9 786.5L341.0 786.6L342.1 786.9L343.2 787.1L344.3 787.1L345.4 786.8L346.5 786.7L347.6 787.0L348.7 787.0L349.8 786.6L350.9 786.5L352.1 786.4L353.2 786.1L354.3 786.2L355.4 786.0L356.5 786.1L357.6 786.4L358.7 786.6L359.8 786.2L360.9 786.2L362.0 786.3L363.1 786.2L364.2 786.3L365.4 786.6L366.5 786.4L367.6 786.5L368.7 786.4L369.8 786.4L370.9 786.2L372.0 785.6L373.1 785.4L374.2 785.6L375.3 785.6L376.4 785.5L377.6 785.9L378.7 786.2L379.8 786.1L380.9 786.0L382.0 785.9L383.1 786.5L384.2 787.1L385.3 787.2L386.4 786.8L387.5 786.6L388.6 786.3L389.7 786.2L390.9 786.0L392.0 785.7L393.1 785.8L394.2 786.0L395.3 786.0L396.4 785.9L397.5 786.0L398.6 786.3L399.7 786.0L400.8 785.4L401.9 785.5L403.0 785.6L404.2 785.5L405.3 786.1L406.4 786.4L407.5 785.8L408.6 785.5L409.7 786.2L410.8 787.1L411.9 787.4L413.0 787.0L414.1 786.5L415.2 786.4L416.4 786.5L417.5 786.4L418.6 786.5L419.7 786.6L420.8 786.3L421.9 786.0L423.0 786.2L424.1 786.5L425.2 786.3L426.3 785.7L427.4 785.9L428.5 786.1L429.7 785.8L430.8 785.8L431.9 785.9L433.0 786.0L434.1 786.0L435.2 785.9L436.3 782.9L437.4 778.1L438.5 771.0L439.6 761.7L440.7 751.1L441.8 739.9L443.0 729.1L444.1 719.5L445.2 710.6L446.3 701.9L447.4 693.2L448.5 684.8L449.6 676.6L450.7 668.7L451.8 661.1L452.9 653.9L454.0 646.7L455.2 639.7L456.3 633.0L457.4 626.5L458.5 620.5L459.6 614.9L460.7 609.7L461.8 604.4L462.9 599.4L464.0 595.2L465.1 592.0L466.2 590.3L467.3 588.9L468.5 587.7L469.6 586.7L470.7 585.9L471.8 585.3L472.9 585.0L474.0 584.9L475.1 584.8L476.2 584.6L477.3 584.5L478.4 584.4L479.5 584.4L480.6 584.3L481.8 584.7L482.9 585.2L484.0 585.9L485.1 586.1L486.2 585.5L487.3 585.4L488.4 586.1L489.5 586.3L490.6 585.7L491.7 585.2L492.8 585.1L494.0 584.8L495.1 583.5L496.2 582.8L497.3 582.9L498.4 582.9L499.5 583.0L500.6 582.9L501.7 582.8L502.8 582.8L503.9 582.7L505.0 582.5L506.1 582.4L507.3 582.4L508.4 582.7L509.5 583.2L510.6 583.0L511.7 582.8L512.8 583.4L513.9 583.3L515.0 582.7L516.1 582.4L517.2 582.1L518.3 582.2L519.5 582.7L520.6 583.7L521.7 584.5L522.8 584.0L523.9 583.3L525.0 583.2L526.1 583.3L527.2 583.0L528.3 582.2L529.4 582.1L530.5 582.7L531.6 583.3L532.8 582.8L533.9 582.3L535.0 583.6L536.1 584.6L537.2 584.3L538.3 583.9L539.4 584.3L540.5 584.7L541.6 584.4L542.7 583.8L543.8 583.8L544.9 584.4L546.1 584.5L547.2 584.4L548.3 583.8L549.4 584.0L550.5 584.6L551.6 583.9L552.7 583.6L553.8 583.9L554.9 584.3L556.0 584.1L557.1 584.3L558.3 584.7L559.4 584.2L560.5 583.9L561.6 583.9L562.7 583.7L563.8 583.9L564.9 584.1L566.0 584.3L567.1 583.7L568.2 582.8L569.3 582.6L570.4 583.1L571.6 583.7L572.7 583.7L573.8 583.7L574.9 583.5L576.0 583.6L577.1 584.2L578.2 584.6L579.3 583.9L580.4 583.7L581.5 584.6L582.6 586.0L583.7 585.6L584.9 584.9L586.0 584.7L587.1 585.0L588.2 584.9L589.3 584.5L590.4 584.4L591.5 583.8L592.6 583.7L593.7 584.4L594.8 584.3L595.9 583.4L597.1 583.2L598.2 583.9L599.3 583.7L600.4 583.4L601.5 583.7L602.6 583.9L603.7 583.5L604.8 583.4L605.9 584.1L607.0 584.4L608.1 584.2L609.2 584.4L610.4 584.8L611.5 584.3L612.6 583.8L613.7 583.6L614.8 583.2L615.9 583.2L617.0 583.5L618.1 583.6L619.2 583.6L620.3 583.3L621.4 583.1L622.6 582.7L623.7 582.5L624.8 582.2L625.9 582.8L627.0 583.1L628.1 582.6L629.2 583.0L630.3 583.8L631.4 583.7L632.5 583.8L633.6 584.3L634.7 584.4L635.9 584.3L637.0 584.5L638.1 584.9L639.2 585.0L640.3 584.8L641.4 584.8L642.5 584.7L643.6 584.1L644.7 582.9L645.8 582.8L646.9 583.8L648.0 585.0L649.2 585.2L650.3 584.6L651.4 584.6L652.5 584.9L653.6 584.4L654.7 583.8L655.8 584.3L656.9 585.2L658.0 585.8L659.1 586.1L660.2 586.0L661.4 585.9L662.5 585.4L663.6 585.4L664.7 585.6L665.8 585.5L666.9 585.0L668.0 585.4L669.1 585.8L670.2 586.3L671.3 586.4L672.4 585.6L673.5 585.6L674.7 585.2L675.8 584.7L676.9 584.6L678.0 584.3L679.1 584.7L680.2 585.5L681.3 585.7L682.4 585.6L683.5 585.2L684.6 584.4L685.7 584.4L686.8 584.9L688.0 585.6L689.1 585.8L690.2 585.9L691.3 586.9L692.4 587.4L693.5 586.6L694.6 586.4L695.7 586.1L696.8 585.6L697.9 585.6L699.0 585.5L700.2 585.6L701.3 586.4L702.4 586.4L703.5 585.2L704.6 584.8L705.7 585.3L706.8 585.7L707.9 586.4L709.0 586.5L710.1 586.4L711.2 585.7L712.3 585.5L713.5 585.9L714.6 586.3L715.7 585.6L716.8 584.4L717.9 584.2L719.0 584.6L720.1 585.2L721.2 585.9L722.3 585.2L723.4 584.1L724.5 583.9L725.7 584.0L726.8 584.1L727.9 584.4L729.0 584.9L730.1 585.5L731.2 586.0L732.3 586.6L733.4 585.6L734.5 584.5L735.6 584.6L736.7 584.6L737.8 584.7L739.0 585.3L740.1 585.5L741.2 585.9L742.3 586.2L743.4 586.3L744.5 586.0L745.6 585.6L746.7 585.9L747.8 587.2L748.9 587.9L750.0 587.5L751.1 587.1L752.3 586.8L753.4 586.7L754.5 586.2L755.6 585.8L756.7 586.0L757.8 586.6L758.9 587.4L760.0 587.6L761.1 586.7L762.2 586.8L763.3 586.6L764.5 585.9L765.6 586.6L766.7 587.2L767.8 586.1L768.9 585.3L770.0 585.4L771.1 586.1L772.2 586.6L773.3 587.1L774.4 587.0L775.5 586.2L776.6 585.9L777.8 586.0L778.9 586.0L780.0 585.8L781.1 586.4L782.2 587.1L783.3 586.8L784.4 585.8L785.5 585.4L786.6 585.5L787.7 585.3L788.8 585.0L789.9 584.4L791.1 584.4L792.2 585.8L793.3 586.5L794.4 585.9L795.5 585.7L796.6 586.3L797.7 586.2L798.8 585.7L799.9 585.2L801.0 585.3L802.1 586.4L803.3 587.1L804.4 586.7L805.5 586.2L806.6 585.8L807.7 586.1L808.8 586.3L809.9 586.2L811.0 586.2L812.1 586.1L813.2 585.7L814.3 586.3L815.4 587.4L816.6 587.2L817.7 586.7L818.8 587.1L819.9 586.9L821.0 586.8L822.1 587.5L823.2 588.2L824.3 587.7L825.4 586.8L826.5 587.4L827.6 588.2L828.8 587.6L829.9 586.8L831.0 587.1L832.1 587.4L833.2 587.3L834.3 587.2L835.4 587.6L836.5 588.0L837.6 588.4L838.7 588.5L839.8 588.0L840.9 587.7L842.1 587.9L843.2 588.7L844.3 589.0L845.4 588.2L846.5 587.0L847.6 585.8L848.7 585.8L849.8 586.4L850.9 586.5L852.0 586.5L853.1 586.6L854.2 587.0L855.4 586.6L856.5 586.4L857.6 587.2L858.7 587.5L859.8 587.6L860.9 587.8L862.0 588.4L863.1 588.7L864.2 588.7L865.3 589.2L866.4 589.0L867.6 587.8L868.7 586.9L869.8 586.9L870.9 587.2L872.0 587.3L873.1 587.2L874.2 587.0L875.3 587.1L876.4 587.2L877.5 586.4L878.6 585.8L879.7 585.5L880.9 585.7L882.0 586.4L883.1 586.8L884.2 587.0L885.3 586.6L886.4 586.4L887.5 586.2L888.6 585.8L889.7 586.4L890.8 586.6L891.9 586.9L893.0 587.2L894.2 587.2L895.3 587.3L896.4 587.5L897.5 587.5L898.6 587.6L899.7 587.4L900.8 586.2L901.9 584.5L903.0 583.8L904.1 584.3L905.2 584.9L906.4 584.9L907.5 584.9L908.6 585.6L909.7 585.7L910.8 585.8L911.9 586.5L913.0 586.9L914.1 587.0L915.2 586.6L916.3 587.0L917.4 587.9L918.5 588.3L919.7 588.1L920.8 588.3L921.9 588.3L923.0 588.2L924.1 587.5L925.2 586.8L926.3 586.6L927.4 586.1L928.5 585.5L929.6 585.6L930.7 586.7L931.9 587.1L933.0 587.4L934.1 587.8L935.2 587.5L936.3 587.1L937.4 586.8L938.5 587.1L939.6 587.5L940.7 587.7L941.8 587.1L942.9 586.8L944.0 587.8L945.2 588.3L946.3 588.5L947.4 588.6L948.5 588.8L949.6 588.8L950.7 588.8L951.8 589.1L952.9 590.0L954.0 590.5L955.1 589.9L956.2 588.7L957.3 587.7L958.5 588.0L959.6 587.9L960.7 587.9L961.8 588.2L962.9 588.0L964.0 587.3L965.1 587.5L966.2 588.5L967.3 589.2L968.4 589.7L969.5 589.6L970.7 589.2L971.8 589.2L972.9 589.7L974.0 589.7L975.1 588.8L976.2 587.6L977.3 587.9L978.4 588.7L979.5 588.6L980.6 588.7L981.7 588.9L982.8 588.8L984.0 588.5L985.1 587.7L986.2 587.1L987.3 587.3L988.4 588.1L989.5 588.4L990.6 587.7L991.7 586.8L992.8 586.9L993.9 587.2L995.0 587.0L996.1 587.7L997.3 588.5L998.4 588.4L999.5 588.5L1000.6 589.2L1001.7 589.0L1002.8 588.0L1003.9 587.5L1005.0 588.8L1006.1 589.8L1007.2 589.2L1008.3 588.1L1009.5 587.5L1010.6 587.0L1011.7 587.6L1012.8 588.5L1013.9 588.7L1015.0 589.0L1016.1 589.3L1017.2 588.8L1018.3 588.2L1019.4 588.6L1020.5 589.2L1021.6 589.3L1022.8 589.1L1023.9 589.3L1025.0 590.2L1026.1 590.4L1027.2 589.1L1028.3 588.3L1029.4 588.7L1030.5 588.7L1031.6 589.1L1032.7 590.0L1033.8 590.4L1034.9 590.5L1036.1 590.3L1037.2 589.3L1038.3 588.2L1039.4 588.0L1040.5 588.8L1041.6 588.7L1042.7 588.6L1043.8 588.8L1044.9 588.8L1046.0 588.3L1047.1 587.6L1048.3 587.3L1049.4 587.7L1050.5 588.7L1051.6 589.4L1052.7 589.5L1053.8 589.4L1054.9 589.2L1056.0 588.5L1057.1 588.2L1058.2 589.4L1059.3 590.6L1060.4 590.4L1061.6 588.4L1062.7 587.2L1063.8 587.7L1064.9 588.2L1066.0 588.1L1067.1 587.1L1068.2 586.4L1069.3 586.8L1070.4 587.9L1071.5 588.9L1072.6 589.6L1073.8 589.8L1074.9 589.3L1076.0 589.6L1077.1 589.9L1078.2 589.2L1079.3 588.6L1080.4 588.7L1081.5 589.2L1082.6 588.8L1083.7 588.6L1084.8 588.1L1085.9 587.3L1087.1 587.0L1088.2 586.6L1089.3 586.4L1090.4 585.7L1091.5 585.1L1092.6 584.6L1093.7 583.6L1094.8 583.0L1095.9 583.2L1097.0 583.5L1098.1 583.8L1099.2 583.9L1100.4 584.1L1101.5 584.4L1102.6 584.6L1103.7 584.8L1104.8 585.0L1105.9 585.3L1107.0 585.7L1108.1 586.3L1109.2 588.0L1110.3 593.0L1111.4 599.7L1112.6 607.7L1113.7 618.2L1114.8 630.6L1115.9 643.9L1117.0 657.5L1118.1 670.4L1119.2 682.0L1120.3 693.4L1121.4 705.0L1122.5 716.3L1123.6 726.9L1124.7 736.4L1125.9 744.1L1127.0 750.5L1128.1 756.4L1129.2 761.8L1130.3 766.5L1131.4 770.6L1132.5 773.8L1133.6 776.3L1134.7 778.6L1135.8 780.7L1136.9 782.6L1138.0 784.3L1139.2 785.7L1140.3 786.8L1141.4 787.7L1142.5 788.2L1143.6 788.7L1144.7 789.1L1145.8 789.5L1146.9 789.8L1148.0 790.1L1149.1 790.4L1150.2 790.6L1151.4 790.8L1152.5 791.0L1153.6 791.2L1154.7 791.4L1155.8 791.6L1156.9 791.8L1158.0 792.0L1159.1 792.2L1160.2 792.4L1161.3 792.6L1162.4 792.8L1163.5 793.0L1164.7 793.2L1165.8 793.3L1166.9 793.5L1168.0 793.3L1169.1 793.3L1170.2 794.3L1171.3 794.6L1172.4 794.4L1173.5 794.5L1174.6 795.0L1175.7 795.2L1176.9 795.2L1178.0 795.2L1179.1 795.3L1180.2 795.1L1181.3 794.5L1182.4 794.7L1183.5 795.9L1184.6 796.1L1185.7 795.6L1186.8 795.5L1187.9 795.5L1189.0 794.9L1190.2 794.4L1191.3 795.0L1192.4 796.2L1193.5 796.3L1194.6 795.8L1195.7 796.2L1196.8 796.8L1197.9 796.6L1199.0 795.9L1200.1 794.9L1201.2 795.0L1202.3 795.7L1203.5 796.1L1204.6 796.3L1205.7 796.2L1206.8 796.0L1207.9 795.6L1209.0 795.8L1210.1 796.3L1211.2 796.5L1212.3 796.7L1213.4 796.7L1214.5 796.9L1215.7 797.0L1216.8 797.1L1217.9 797.1L1219.0 796.8L1220.1 796.4L1221.2 796.7L1222.3 797.3L1223.4 797.3L1224.5 796.8L1225.6 797.1L1226.7 797.7L1227.8 797.8L1229.0 798.2L1230.1 798.1L1231.2 797.7L1232.3 797.3L1233.4 797.3L1234.5 797.2L1235.6 796.6L1236.7 796.7L1237.8 797.2L1238.9 796.9L1240.0 796.9L1241.1 797.6L1242.3 798.2L1243.4 797.9L1244.5 797.4L1245.6 797.4L1246.7 797.5L1247.8 797.4L1248.9 797.4L1250.0 796.8L1251.1 796.4L1252.2 796.3L1253.3 796.2L1254.5 796.3L1255.6 796.0L1256.7 795.8L1257.8 796.1L1258.9 795.9L1260.0 796.2L1261.1 796.4L1262.2 796.2L1263.3 796.6L1264.4 797.6L1265.5 797.8L1266.6 796.6L1267.8 796.1L1268.9 796.5L1270.0 797.0L1271.1 797.2L1272.2 796.5L1273.3 796.0L1274.4 795.9L1275.5 796.3L1276.6 796.6L1277.7 796.5L1278.8 796.8L1280.0 797.4L1281.1 797.7L1282.2 797.6L1283.3 797.1L1284.4 797.3L1285.5 797.9L1286.6 798.0L1287.7 798.0L1288.8 798.1L1289.9 797.5L1291.0 797.0L1292.1 796.5L1293.3 796.6L1294.4 796.5L1295.5 796.4L1296.6 796.4L1297.7 795.9L1298.8 796.1L1299.9 796.9L1301.0 797.2L1302.1 797.5L1303.2 798.0L1304.3 798.0L1305.4 797.9L1306.6 797.8L1307.7 798.0L1308.8 798.5L1309.9 798.4L1311.0 797.6L1312.1 797.8L1313.2 798.9L1314.3 798.7L1315.4 798.4L1316.5 797.6L1317.6 796.5L1318.8 796.4L1319.9 797.1L1321.0 797.5L1322.1 797.6L1323.2 797.8L1324.3 797.7L1325.4 797.7L1326.5 798.3L1327.6 798.5L1328.7 797.9L1329.8 797.1L1330.9 797.2L1332.1 798.0L1333.2 798.2L1334.3 798.6L1335.4 799.5L1336.5 799.0L1337.6 798.2L1338.7 798.1L1339.8 797.8L1340.9 797.6L1342.0 797.8L1343.1 797.7L1344.2 797.2L1345.4 796.7L1346.5 796.0L1347.6 795.5L1348.7 795.7L1349.8 795.6L1350.9 795.5L1352.0 796.1L1353.1 796.7L1354.2 796.5L1355.3 796.7L1356.4 796.7L1357.6 796.5L1358.7 796.8L1359.8 797.4L1360.9 798.1L1362.0 798.2L1363.1 797.7L1364.2 797.5L1365.3 798.1L1366.4 798.2L1367.5 798.1L1368.6 797.5L1369.7 796.4L1370.9 795.7L1372.0 796.5L1373.1 797.2L1374.2 797.2L1375.3 797.6L1376.4 797.4L1377.5 796.9L1378.6 797.1L1379.7 797.3L1380.8 797.5L1381.9 798.0L1383.1 797.8L1384.2 798.3L1385.3 798.5L1386.4 797.9L1387.5 798.1L1388.6 798.2L1389.7 797.0L1390.8 796.6L1391.9 797.1L1393.0 797.1L1394.1 797.1L1395.2 796.8L1396.4 796.2L1397.5 796.4L1398.6 796.7L1399.7 796.2L1400.8 796.1L1401.9 796.7L1403.0 797.4L1404.1 796.7L1405.2 796.6L1406.3 797.4L1407.4 797.9L1408.5 797.8L1409.7 797.7L1410.8 797.7L1411.0 797.5"/>
<path stroke="#2a5092" d="M203.5 788.0L204.6 787.8L205.7 787.8L206.8 787.9L207.9 788.1L209.0 788.1L210.2 788.1L211.3 788.3L212.4 788.0L213.5 787.5L214.6 787.4L215.7 787.4L216.8 787.6L217.9 787.5L219.0 787.4L220.1 787.8L221.2 788.1L222.3 787.6L223.5 787.1L224.6 787.1L225.7 787.3L226.8 787.4L227.9 787.3L229.0 787.0L230.1 787.1L231.2 787.7L232.3 788.1L233.4 787.6L234.5 787.3L235.6 787.5L236.8 787.6L237.9 787.1L239.0 786.4L240.1 786.7L241.2 786.8L242.3 786.7L243.4 786.6L244.5 787.1L245.6 787.7L246.7 787.5L247.8 786.9L249.0 786.4L250.1 786.4L251.2 786.5L252.3 786.4L253.4 786.5L254.5 787.0L255.6 787.0L256.7 786.5L257.8 786.1L258.9 786.2L260.0 786.3L261.1 786.5L262.3 786.9L263.4 787.3L264.5 787.3L265.6 786.9L266.7 787.3L267.8 787.4L268.9 787.3L270.0 787.5L271.1 787.9L272.2 787.8L273.3 787.7L274.5 787.6L275.6 787.8L276.7 787.7L277.8 787.5L278.9 787.4L280.0 787.3L281.1 787.4L282.2 787.7L283.3 787.5L284.4 787.0L285.5 786.8L286.6 787.2L287.8 787.1L288.9 786.9L290.0 786.9L291.1 787.5L292.2 787.5L293.3 787.0L294.4 786.8L295.5 786.8L296.6 786.9L297.7 786.8L298.8 786.5L299.9 786.7L301.1 787.1L302.2 787.4L303.3 787.4L304.4 787.1L305.5 786.9L306.6 787.2L307.7 787.4L308.8 787.5L309.9 787.4L311.0 786.9L312.1 786.7L313.3 786.9L314.4 786.7L315.5 786.7L316.6 786.4L317.7 786.1L318.8 786.2L319.9 786.3L321.0 786.2L322.1 786.1L323.2 786.0L324.3 786.2L325.4 786.5L326.6 786.9L327.7 786.9L328.8 787.2L329.9 787.3L331.0 787.0L332.1 787.3L333.2 787.4L334.3 787.0L335.4 787.0L336.5 787.3L337.6 787.2L338.7 786.7L339.9 786.6L341.0 787.0L342.1 787.0L343.2 786.5L344.3 786.4L345.4 786.7L346.5 786.9L347.6 787.0L348.7 787.4L349.8 787.2L350.9 787.0L352.1 786.9L353.2 787.0L354.3 787.4L355.4 787.4L356.5 787.1L357.6 787.1L358.7 787.6L359.8 787.7L360.9 787.5L362.0 787.3L363.1 787.2L364.2 787.6L365.4 787.8L366.5 787.6L367.6 787.6L368.7 787.8L369.8 787.5L370.9 787.7L372.0 787.9L373.1 787.4L374.2 786.8L375.3 786.3L376.4 786.5L377.6 787.0L378.7 787.3L379.8 787.1L380.9 787.5L382.0 787.3L383.1 787.1L384.2 787.1L385.3 786.9L386.4 787.3L387.5 787.4L388.6 786.7L389.7 786.5L390.9 786.7L392.0 787.0L393.1 787.3L394.2 787.4L395.3 787.1L396.4 787.1L397.5 787.0L398.6 787.0L399.7 787.0L400.8 787.1L401.9 787.1L403.0 787.4L404.2 787.4L405.3 787.0L406.4 787.1L407.5 787.3L408.6 787.0L409.7 786.8L410.8 787.0L411.9 787.2L413.0 787.1L414.1 786.8L415.2 786.6L416.4 786.5L417.5 787.0L418.6 787.0L419.7 787.1L420.8 786.9L421.9 786.9L423.0 787.1L424.1 787.1L425.2 786.8L426.3 787.0L427.4 787.2L428.5 787.2L429.7 787.2L430.8 787.1L431.9 787.1L433.0 787.0L434.1 787.0L435.2 787.0L436.3 786.9L437.4 785.0L438.5 781.6L439.6 777.4L440.7 770.9L441.8 762.5L443.0 753.0L444.1 743.0L445.2 733.3L446.3 724.7L447.4 717.7L448.5 711.5L449.6 705.7L450.7 700.2L451.8 694.9L452.9 689.9L454.0 684.9L455.2 680.1L456.3 675.4L457.4 670.6L458.5 665.9L459.6 661.5L460.7 657.2L461.8 653.1L462.9 648.9L464.0 644.7L465.1 640.2L466.2 635.4L467.3 630.1L468.5 623.3L469.6 616.8L470.7 612.5L471.8 609.7L472.9 607.2L474.0 605.0L475.1 603.2L476.2 601.9L477.3 601.0L478.4 600.6L479.5 600.2L480.6 599.9L481.8 599.7L482.9 599.4L484.0 599.3L485.1 599.1L486.2 599.0L487.3 599.0L488.4 599.0L489.5 599.0L490.6 599.0L491.7 599.0L492.8 599.0L494.0 599.0L495.1 599.0L496.2 598.8L497.3 598.4L498.4 598.5L499.5 599.1L500.6 598.9L501.7 598.7L502.8 598.9L503.9 599.3L505.0 598.9L506.1 598.9L507.3 598.8L508.4 598.2L509.5 598.5L510.6 599.0L511.7 599.5L512.8 599.5L513.9 599.4L515.0 599.2L516.1 599.4L517.2 600.2L518.3 600.1L519.5 600.0L520.6 599.3L521.7 599.3L522.8 599.4L523.9 599.0L525.0 598.7L526.1 598.0L527.2 597.6L528.3 597.7L529.4 597.5L530.5 597.6L531.6 598.1L532.8 598.3L533.9 598.8L535.0 599.1L536.1 599.0L537.2 598.8L538.3 598.7L539.4 598.8L540.5 598.3L541.6 598.5L542.7 599.2L543.8 599.2L544.9 599.4L546.1 599.3L547.2 599.2L548.3 599.2L549.4 598.9L550.5 598.5L551.6 598.7L552.7 598.9L553.8 598.7L554.9 599.3L556.0 599.2L557.1 599.3L558.3 599.5L559.4 599.5L560.5 598.9L561.6 598.8L562.7 598.7L563.8 599.1L564.9 599.4L566.0 599.4L567.1 599.2L568.2 599.1L569.3 598.9L570.4 598.4L571.6 598.8L572.7 598.9L573.8 598.9L574.9 598.7L576.0 598.3L577.1 598.2L578.2 598.2L579.3 598.3L580.4 598.4L581.5 598.9L582.6 598.9L583.7 598.2L584.9 598.1L586.0 598.3L587.1 598.6L588.2 598.8L589.3 599.1L590.4 599.2L591.5 599.0L592.6 598.8L593.7 599.0L594.8 599.4L595.9 599.1L597.1 598.9L598.2 598.8L599.3 598.9L600.4 598.2L601.5 597.8L602.6 597.8L603.7 598.0L604.8 597.5L605.9 597.4L607.0 598.5L608.1 599.2L609.2 599.0L610.4 598.4L611.5 598.7L612.6 599.0L613.7 599.1L614.8 598.9L615.9 598.9L617.0 599.0L618.1 598.7L619.2 598.6L620.3 599.4L621.4 599.9L622.6 599.3L623.7 598.9L624.8 598.9L625.9 599.9L627.0 600.0L628.1 599.5L629.2 599.4L630.3 599.3L631.4 599.9L632.5 600.0L633.6 600.1L634.7 599.9L635.9 599.6L637.0 599.1L638.1 599.1L639.2 599.4L640.3 598.5L641.4 598.3L642.5 599.1L643.6 598.9L644.7 598.9L645.8 598.9L646.9 598.6L648.0 598.1L649.2 598.2L650.3 598.4L651.4 598.6L652.5 598.8L653.6 598.7L654.7 598.4L655.8 598.9L656.9 598.6L658.0 599.0L659.1 599.1L660.2 599.4L661.4 599.6L662.5 599.2L663.6 599.3L664.7 599.3L665.8 598.9L666.9 599.0L668.0 599.7L669.1 599.9L670.2 599.3L671.3 598.7L672.4 599.3L673.5 599.7L674.7 599.1L675.8 598.7L676.9 598.5L678.0 598.2L679.1 597.7L680.2 597.8L681.3 597.9L682.4 597.8L683.5 598.1L684.6 598.6L685.7 598.4L686.8 598.0L688.0 597.6L689.1 597.9L690.2 597.8L691.3 597.7L692.4 597.9L693.5 597.9L694.6 597.9L695.7 597.5L696.8 597.9L697.9 598.8L699.0 599.2L700.2 598.8L701.3 598.5L702.4 598.5L703.5 598.8L704.6 599.1L705.7 598.5L706.8 597.9L707.9 597.9L709.0 598.4L710.1 598.8L711.2 598.5L712.3 598.4L713.5 599.1L714.6 599.2L715.7 599.5L716.8 600.5L717.9 600.9L719.0 601.4L720.1 601.3L721.2 600.7L722.3 600.2L723.4 600.1L724.5 599.9L725.7 600.3L726.8 600.3L727.9 599.9L729.0 599.6L730.1 599.4L731.2 599.6L732.3 599.9L733.4 600.3L734.5 600.0L735.6 600.2L736.7 599.5L737.8 599.1L739.0 599.1L740.1 599.2L741.2 599.0L742.3 599.8L743.4 599.9L744.5 599.5L745.6 599.7L746.7 600.1L747.8 600.0L748.9 600.1L750.0 600.0L751.1 600.0L752.3 599.8L753.4 600.2L754.5 600.6L755.6 600.3L756.7 599.9L757.8 600.3L758.9 599.7L760.0 599.3L761.1 599.7L762.2 600.1L763.3 600.4L764.5 600.1L765.6 599.4L766.7 599.1L767.8 599.1L768.9 598.9L770.0 598.8L771.1 598.7L772.2 598.6L773.3 598.6L774.4 598.2L775.5 598.2L776.6 598.7L777.8 599.0L778.9 598.7L780.0 598.7L781.1 598.9L782.2 599.3L783.3 599.4L784.4 599.0L785.5 598.2L786.6 598.5L787.7 599.1L788.8 599.1L789.9 599.1L791.1 599.6L792.2 599.3L793.3 599.8L794.4 599.9L795.5 600.3L796.6 600.2L797.7 600.1L798.8 599.5L799.9 599.4L801.0 599.8L802.1 600.2L803.3 599.7L804.4 599.6L805.5 599.4L806.6 599.3L807.7 599.6L808.8 599.8L809.9 599.2L811.0 599.2L812.1 598.8L813.2 598.6L814.3 599.0L815.4 599.4L816.6 599.5L817.7 599.3L818.8 599.8L819.9 600.0L821.0 599.6L822.1 599.3L823.2 599.0L824.3 599.4L825.4 599.8L826.5 599.8L827.6 599.7L828.8 600.0L829.9 599.9L831.0 599.4L832.1 599.2L833.2 599.3L834.3 599.4L835.4 599.7L836.5 599.7L837.6 599.6L838.7 599.1L839.8 599.2L840.9 598.7L842.1 598.8L843.2 599.0L844.3 599.0L845.4 598.7L846.5 598.7L847.6 599.1L848.7 599.1L849.8 599.2L850.9 599.1L852.0 599.1L853.1 599.0L854.2 599.5L855.4 600.7L856.5 600.4L857.6 600.3L858.7 600.6L859.8 600.8L860.9 601.2L862.0 601.4L863.1 600.9L864.2 600.9L865.3 600.8L866.4 600.4L867.6 600.2L868.7 600.2L869.8 600.6L870.9 600.4L872.0 601.2L873.1 601.4L874.2 601.0L875.3 600.8L876.4 599.9L877.5 599.4L878.6 599.8L879.7 599.8L880.9 599.0L882.0 599.1L883.1 599.4L884.2 600.0L885.3 599.4L886.4 599.6L887.5 600.0L888.6 600.3L889.7 599.9L890.8 599.7L891.9 600.1L893.0 599.7L894.2 599.1L895.3 599.1L896.4 600.3L897.5 600.4L898.6 600.0L899.7 600.4L900.8 600.6L901.9 600.6L903.0 601.0L904.1 600.2L905.2 599.6L906.4 599.3L907.5 599.6L908.6 599.6L909.7 599.0L910.8 598.9L911.9 599.0L913.0 599.8L914.1 599.8L915.2 598.9L916.3 598.8L917.4 599.2L918.5 599.0L919.7 599.3L920.8 599.8L921.9 599.3L923.0 599.0L924.1 598.9L925.2 599.2L926.3 599.4L927.4 599.9L928.5 600.0L929.6 600.6L930.7 600.8L931.9 600.8L933.0 600.8L934.1 599.8L935.2 599.7L936.3 599.5L937.4 599.8L938.5 599.8L939.6 600.0L940.7 600.0L941.8 600.4L942.9 601.2L944.0 600.9L945.2 600.8L946.3 601.2L947.4 601.2L948.5 600.9L949.6 601.0L950.7 601.2L951.8 600.9L952.9 600.5L954.0 600.4L955.1 600.3L956.2 600.3L957.3 600.0L958.5 600.0L959.6 600.2L960.7 599.6L961.8 599.5L962.9 599.7L964.0 600.3L965.1 600.0L966.2 599.5L967.3 599.3L968.4 599.2L969.5 599.4L970.7 599.5L971.8 599.8L972.9 599.8L974.0 600.0L975.1 600.4L976.2 600.2L977.3 600.8L978.4 600.6L979.5 600.2L980.6 600.1L981.7 599.8L982.8 599.5L984.0 599.7L985.1 600.0L986.2 599.8L987.3 599.8L988.4 599.4L989.5 599.2L990.6 599.8L991.7 600.3L992.8 600.0L993.9 600.2L995.0 601.0L996.1 601.2L997.3 600.9L998.4 600.8L999.5 601.3L1000.6 601.6L1001.7 601.1L1002.8 600.4L1003.9 600.1L1005.0 600.3L1006.1 600.3L1007.2 600.3L1008.3 600.3L1009.5 600.0L1010.6 599.9L1011.7 599.9L1012.8 599.9L1013.9 599.5L1015.0 599.1L1016.1 599.6L1017.2 600.1L1018.3 599.7L1019.4 600.1L1020.5 601.0L1021.6 601.2L1022.8 600.9L1023.9 599.8L1025.0 600.1L1026.1 600.3L1027.2 599.9L1028.3 599.5L1029.4 599.6L1030.5 599.4L1031.6 599.8L1032.7 599.0L1033.8 598.9L1034.9 599.1L1036.1 599.4L1037.2 599.5L1038.3 598.9L1039.4 599.3L1040.5 599.8L1041.6 599.7L1042.7 599.9L1043.8 600.1L1044.9 600.6L1046.0 600.6L1047.1 600.4L1048.3 600.3L1049.4 600.4L1050.5 600.8L1051.6 600.4L1052.7 599.7L1053.8 599.5L1054.9 599.8L1056.0 599.9L1057.1 599.8L1058.2 599.6L1059.3 599.6L1060.4 600.4L1061.6 600.3L1062.7 599.4L1063.8 599.1L1064.9 599.5L1066.0 599.7L1067.1 599.7L1068.2 599.9L1069.3 599.9L1070.4 599.6L1071.5 598.8L1072.6 598.5L1073.8 599.2L1074.9 599.4L1076.0 599.0L1077.1 598.9L1078.2 598.5L1079.3 598.9L1080.4 598.8L1081.5 598.4L1082.6 598.4L1083.7 599.4L1084.8 599.5L1085.9 599.3L1087.1 599.6L1088.2 599.4L1089.3 599.5L1090.4 599.1L1091.5 599.2L1092.6 599.5L1093.7 599.8L1094.8 599.7L1095.9 599.5L1097.0 599.6L1098.1 599.9L1099.2 599.7L1100.4 599.9L1101.5 600.0L1102.6 599.5L1103.7 599.5L1104.8 600.0L1105.9 600.0L1107.0 600.1L1108.1 600.3L1109.2 600.7L1110.3 601.3L1111.4 603.2L1112.6 607.4L1113.7 613.0L1114.8 618.8L1115.9 624.6L1117.0 631.2L1118.1 638.4L1119.2 646.2L1120.3 654.4L1121.4 662.8L1122.5 671.2L1123.6 679.6L1124.7 687.8L1125.9 695.7L1127.0 703.1L1128.1 710.8L1129.2 718.8L1130.3 726.7L1131.4 734.1L1132.5 740.8L1133.6 746.5L1134.7 750.8L1135.8 754.4L1136.9 757.7L1138.0 760.6L1139.2 763.2L1140.3 765.4L1141.4 767.2L1142.5 768.6L1143.6 769.8L1144.7 770.9L1145.8 771.8L1146.9 772.7L1148.0 773.5L1149.1 774.1L1150.2 774.7L1151.4 775.1L1152.5 775.6L1153.6 776.0L1154.7 776.4L1155.8 776.8L1156.9 777.1L1158.0 777.3L1159.1 777.4L1160.2 777.5L1161.3 777.5L1162.4 777.6L1163.5 777.6L1164.7 777.6L1165.8 777.6L1166.9 777.8L1168.0 778.5L1169.1 778.9L1170.2 778.4L1171.3 778.2L1172.4 777.2L1173.5 776.8L1174.6 777.0L1175.7 777.3L1176.9 777.3L1178.0 777.6L1179.1 777.7L1180.2 778.0L1181.3 777.9L1182.4 777.6L1183.5 777.3L1184.6 777.3L1185.7 778.1L1186.8 778.9L1187.9 778.7L1189.0 778.2L1190.2 778.0L1191.3 778.1L1192.4 777.7L1193.5 777.7L1194.6 777.4L1195.7 777.0L1196.8 776.9L1197.9 777.2L1199.0 777.1L1200.1 777.1L1201.2 777.2L1202.3 777.1L1203.5 777.1L1204.6 777.3L1205.7 777.3L1206.8 777.7L1207.9 777.6L1209.0 777.7L1210.1 777.9L1211.2 777.4L1212.3 776.9L1213.4 777.1L1214.5 777.4L1215.7 778.2L1216.8 778.5L1217.9 778.2L1219.0 777.4L1220.1 777.5L1221.2 778.5L1222.3 779.4L1223.4 779.4L1224.5 779.3L1225.6 779.2L1226.7 779.5L1227.8 779.2L1229.0 779.5L1230.1 779.4L1231.2 779.5L1232.3 779.0L1233.4 778.7L1234.5 779.5L1235.6 779.5L1236.7 779.0L1237.8 778.6L1238.9 778.4L1240.0 778.3L1241.1 779.3L1242.3 779.3L1243.4 779.6L1244.5 779.9L1245.6 778.7L1246.7 777.9L1247.8 778.1L1248.9 778.7L1250.0 778.5L1251.1 778.2L1252.2 778.2L1253.3 778.4L1254.5 778.8L1255.6 778.4L1256.7 777.6L1257.8 777.0L1258.9 777.3L1260.0 777.9L1261.1 778.0L1262.2 778.1L1263.3 778.7L1264.4 779.2L1265.5 779.3L1266.6 778.8L1267.8 778.4L1268.9 778.9L1270.0 779.3L1271.1 779.3L1272.2 779.2L1273.3 778.9L1274.4 778.8L1275.5 778.9L1276.6 779.1L1277.7 778.9L1278.8 778.3L1280.0 777.8L1281.1 777.9L1282.2 777.8L1283.3 777.7L1284.4 778.4L1285.5 778.7L1286.6 778.3L1287.7 778.4L1288.8 779.0L1289.9 779.4L1291.0 779.1L1292.1 779.0L1293.3 778.5L1294.4 778.4L1295.5 779.0L1296.6 778.4L1297.7 778.1L1298.8 777.3L1299.9 777.4L1301.0 778.1L1302.1 778.1L1303.2 778.5L1304.3 778.5L1305.4 777.9L1306.6 777.7L1307.7 778.4L1308.8 778.5L1309.9 778.4L1311.0 778.7L1312.1 778.7L1313.2 779.1L1314.3 778.9L1315.4 778.5L1316.5 779.5L1317.6 779.2L1318.8 779.1L1319.9 778.7L1321.0 778.8L1322.1 779.2L1323.2 779.3L1324.3 779.6L1325.4 779.0L1326.5 778.4L1327.6 778.1L1328.7 777.7L1329.8 777.4L1330.9 777.9L1332.1 778.1L1333.2 778.8L1334.3 778.7L1335.4 778.3L1336.5 778.9L1337.6 779.0L1338.7 778.9L1339.8 778.6L1340.9 778.4L1342.0 778.7L1343.1 779.0L1344.2 779.6L1345.4 780.1L1346.5 779.8L1347.6 779.7L1348.7 779.4L1349.8 778.3L1350.9 778.0L1352.0 778.6L1353.1 778.8L1354.2 778.4L1355.3 778.0L1356.4 777.3L1357.6 777.7L1358.7 778.0L1359.8 778.2L1360.9 778.7L1362.0 778.0L1363.1 777.2L1364.2 777.5L1365.3 777.8L1366.4 777.5L1367.5 777.1L1368.6 776.8L1369.7 777.4L1370.9 778.4L1372.0 778.5L1373.1 778.4L1374.2 777.9L1375.3 778.3L1376.4 778.9L1377.5 779.1L1378.6 779.1L1379.7 778.6L1380.8 779.1L1381.9 779.2L1383.1 780.0L1384.2 779.9L1385.3 778.8L1386.4 779.0L1387.5 779.3L1388.6 778.8L1389.7 778.7L1390.8 778.7L1391.9 778.3L1393.0 778.0L1394.1 778.4L1395.2 778.9L1396.4 778.9L1397.5 779.2L1398.6 778.9L1399.7 778.9L1400.8 780.0L1401.9 780.2L1403.0 779.6L1404.1 778.9L1405.2 779.3L1406.3 780.1L1407.4 779.2L1408.5 778.9L1409.7 779.1L1410.8 779.0L1411.9 779.1L1413.0 778.8L1414.1 779.0L1415.2 779.8L1416.3 779.6L1417.4 779.7L1418.5 780.3L1419.6 780.6L1420.7 780.7L1421.9 780.1L1423.0 780.1L1424.1 780.4L1425.2 780.5L1426.3 780.0L1427.4 780.0L1428.5 779.8L1429.6 780.3L1430.7 780.1L1431.8 779.5L1432.9 779.8L1434.0 779.9L1435.2 780.3L1436.3 780.5L1437.4 780.3L1438.5 779.8L1439.6 780.0L1440.7 780.3L1441.8 780.1L1442.9 779.7L1443.0 779.4"/>
<path stroke="#3563b6" d="M203.5 787.5L204.6 787.7L205.7 787.9L206.8 788.2L207.9 787.8L209.0 787.5L210.2 787.5L211.3 787.5L212.4 787.5L213.5 787.3L214.6 786.9L215.7 786.8L216.8 787.0L217.9 787.2L219.0 786.9L220.1 786.6L221.2 786.7L222.3 786.4L223.5 786.1L224.6 786.3L225.7 786.4L226.8 786.9L227.9 786.9L229.0 786.7L230.1 786.8L231.2 786.9L232.3 786.9L233.4 787.1L234.5 787.4L235.6 787.0L236.8 786.5L237.9 786.3L239.0 786.6L240.1 786.8L241.2 786.6L242.3 786.4L243.4 786.4L244.5 786.0L245.6 785.7L246.7 785.9L247.8 786.0L249.0 786.4L250.1 786.7L251.2 786.6L252.3 786.6L253.4 786.5L254.5 786.1L255.6 786.0L256.7 786.2L257.8 786.2L258.9 786.4L260.0 786.7L261.1 786.8L262.3 786.7L263.4 786.2L264.5 786.5L265.6 787.2L266.7 787.2L267.8 786.8L268.9 786.6L270.0 786.1L271.1 786.0L272.2 786.2L273.3 785.9L274.5 785.9L275.6 785.8L276.7 786.3L277.8 786.4L278.9 786.3L280.0 786.4L281.1 786.4L282.2 786.1L283.3 786.1L284.4 786.5L285.5 786.7L286.6 786.6L287.8 786.9L288.9 787.2L290.0 786.9L291.1 786.4L292.2 786.3L293.3 786.6L294.4 786.4L295.5 786.1L296.6 786.1L297.7 786.5L298.8 786.5L299.9 786.5L301.1 786.3L302.2 786.2L303.3 786.5L304.4 786.5L305.5 786.3L306.6 786.2L307.7 786.3L308.8 786.5L309.9 787.0L311.0 787.0L312.1 786.4L313.3 786.1L314.4 786.3L315.5 786.3L316.6 786.1L317.7 786.1L318.8 786.2L319.9 786.2L321.0 786.2L322.1 786.0L323.2 785.6L324.3 786.0L325.4 786.2L326.6 786.2L327.7 786.0L328.8 785.7L329.9 785.7L331.0 786.0L332.1 786.3L333.2 787.0L334.3 787.1L335.4 787.0L336.5 787.2L337.6 787.2L338.7 787.2L339.9 787.4L341.0 787.3L342.1 787.2L343.2 787.3L344.3 787.3L345.4 787.3L346.5 787.1L347.6 787.1L348.7 787.3L349.8 787.3L350.9 787.2L352.1 786.8L353.2 786.8L354.3 786.8L355.4 786.9L356.5 786.9L357.6 786.7L358.7 786.7L359.8 786.7L360.9 786.8L362.0 786.7L363.1 786.6L364.2 786.6L365.4 786.8L366.5 787.3L367.6 787.3L368.7 786.9L369.8 786.5L370.9 786.5L372.0 786.4L373.1 785.9L374.2 786.1L375.3 786.5L376.4 786.2L377.6 785.7L378.7 785.6L379.8 785.5L380.9 785.8L382.0 786.1L383.1 786.2L384.2 786.3L385.3 786.6L386.4 786.8L387.5 786.7L388.6 786.5L389.7 786.2L390.9 785.9L392.0 786.3L393.1 786.8L394.2 786.8L395.3 786.3L396.4 785.9L397.5 786.2L398.6 786.6L399.7 786.4L400.8 786.4L401.9 786.8L403.0 787.0L404.2 787.0L405.3 786.9L406.4 786.6L407.5 786.6L408.6 786.4L409.7 786.2L410.8 785.9L411.9 786.1L413.0 786.2L414.1 786.2L415.2 786.0L416.4 785.9L417.5 786.3L418.6 786.7L419.7 786.6L420.8 786.5L421.9 786.7L423.0 787.0L424.1 786.7L425.2 786.6L426.3 787.0L427.4 787.0L428.5 786.8L429.7 786.4L430.8 786.5L431.9 786.6L433.0 786.5L434.1 786.5L435.2 786.5L436.3 786.4L437.4 784.7L438.5 781.5L439.6 777.3L440.7 769.7L441.8 759.6L443.0 748.2L444.1 736.7L445.2 726.3L446.3 718.1L447.4 711.1L448.5 704.4L449.6 698.1L450.7 692.2L451.8 686.5L452.9 681.2L454.0 676.2L455.2 671.4L456.3 666.9L457.4 662.7L458.5 658.6L459.6 654.9L460.7 651.5L461.8 648.5L462.9 645.7L464.0 642.9L465.1 640.5L466.2 638.9L467.3 638.4L468.5 638.1L469.6 637.8L470.7 637.6L471.8 637.5L472.9 637.4L474.0 637.3L475.1 637.3L476.2 637.3L477.3 637.3L478.4 637.1L479.5 637.1L480.6 637.0L481.8 636.6L482.9 636.3L484.0 635.9L485.1 636.2L486.2 636.4L487.3 636.2L488.4 635.8L489.5 636.3L490.6 636.4L491.7 636.2L492.8 636.5L494.0 637.0L495.1 637.3L496.2 637.4L497.3 636.6L498.4 636.4L499.5 636.8L500.6 637.4L501.7 637.3L502.8 636.9L503.9 637.1L505.0 637.1L506.1 637.0L507.3 636.8L508.4 636.5L509.5 636.8L510.6 637.5L511.7 637.3L512.8 637.3L513.9 637.0L515.0 636.8L516.1 637.0L517.2 637.7L518.3 637.8L519.5 637.8L520.6 637.7L521.7 637.1L522.8 636.7L523.9 636.6L525.0 636.9L526.1 637.2L527.2 637.3L528.3 637.2L529.4 636.8L530.5 636.5L531.6 636.1L532.8 636.8L533.9 637.5L535.0 637.5L536.1 638.1L537.2 638.7L538.3 638.6L539.4 637.9L540.5 637.5L541.6 637.4L542.7 637.2L543.8 636.9L544.9 636.9L546.1 637.1L547.2 637.3L548.3 637.3L549.4 637.5L550.5 637.8L551.6 638.0L552.7 637.9L553.8 637.6L554.9 637.4L556.0 637.3L557.1 636.7L558.3 637.1L559.4 637.4L560.5 637.5L561.6 636.9L562.7 636.7L563.8 637.2L564.9 637.1L566.0 636.6L567.1 636.8L568.2 636.7L569.3 636.4L570.4 636.4L571.6 636.7L572.7 637.0L573.8 637.2L574.9 637.4L576.0 636.9L577.1 636.2L578.2 635.9L579.3 636.1L580.4 636.4L581.5 636.4L582.6 636.5L583.7 637.7L584.9 638.1L586.0 637.7L587.1 637.5L588.2 637.6L589.3 638.2L590.4 638.2L591.5 638.4L592.6 638.2L593.7 637.7L594.8 637.9L595.9 637.9L597.1 637.8L598.2 637.7L599.3 637.5L600.4 637.7L601.5 637.8L602.6 637.8L603.7 637.8L604.8 638.3L605.9 638.3L607.0 638.0L608.1 638.2L609.2 638.3L610.4 638.5L611.5 638.7L612.6 638.1L613.7 637.7L614.8 638.2L615.9 637.8L617.0 637.6L618.1 637.5L619.2 637.9L620.3 637.6L621.4 637.3L622.6 637.3L623.7 638.1L624.8 638.7L625.9 638.2L627.0 638.3L628.1 638.6L629.2 639.1L630.3 638.9L631.4 638.3L632.5 638.0L633.6 638.0L634.7 638.2L635.9 638.6L637.0 638.3L638.1 637.7L639.2 637.8L640.3 637.9L641.4 637.7L642.5 638.4L643.6 638.8L644.7 638.5L645.8 638.8L646.9 638.7L648.0 638.5L649.2 638.5L650.3 638.6L651.4 638.9L652.5 638.5L653.6 638.5L654.7 638.3L655.8 637.9L656.9 637.6L658.0 638.1L659.1 638.3L660.2 638.5L661.4 638.4L662.5 638.3L663.6 637.8L664.7 637.2L665.8 638.1L666.9 638.3L668.0 638.1L669.1 638.2L670.2 638.3L671.3 637.7L672.4 637.8L673.5 637.6L674.7 637.5L675.8 637.1L676.9 636.4L678.0 636.9L679.1 637.3L680.2 637.2L681.3 637.1L682.4 636.7L683.5 636.7L684.6 636.7L685.7 637.1L686.8 638.0L688.0 638.1L689.1 638.2L690.2 638.5L691.3 637.8L692.4 637.6L693.5 638.1L694.6 637.9L695.7 638.1L696.8 638.0L697.9 637.8L699.0 638.0L700.2 638.3L701.3 638.5L702.4 638.4L703.5 638.2L704.6 637.8L705.7 637.8L706.8 638.0L707.9 638.3L709.0 638.8L710.1 638.8L711.2 639.0L712.3 639.5L713.5 639.4L714.6 640.2L715.7 639.8L716.8 639.3L717.9 639.0L719.0 638.7L720.1 639.2L721.2 639.0L722.3 639.0L723.4 639.1L724.5 638.7L725.7 638.4L726.8 637.9L727.9 637.5L729.0 638.2L730.1 637.6L731.2 637.0L732.3 637.5L733.4 637.8L734.5 638.5L735.6 638.4L736.7 638.8L737.8 638.6L739.0 638.7L740.1 638.5L741.2 638.3L742.3 638.2L743.4 638.4L744.5 638.2L745.6 638.4L746.7 639.2L747.8 639.5L748.9 639.5L750.0 639.1L751.1 638.7L752.3 638.4L753.4 638.5L754.5 638.7L755.6 638.9L756.7 639.4L757.8 639.5L758.9 639.5L760.0 639.3L761.1 638.9L762.2 639.0L763.3 639.1L764.5 638.9L765.6 638.5L766.7 638.6L767.8 639.0L768.9 639.1L770.0 639.1L771.1 639.8L772.2 640.1L773.3 639.9L774.4 639.8L775.5 639.2L776.6 639.2L777.8 639.3L778.9 639.1L780.0 638.9L781.1 638.6L782.2 638.9L783.3 638.9L784.4 638.4L785.5 637.9L786.6 638.5L787.7 638.9L788.8 639.2L789.9 639.0L791.1 638.7L792.2 638.6L793.3 638.2L794.4 638.5L795.5 638.5L796.6 638.3L797.7 638.7L798.8 639.0L799.9 639.4L801.0 639.2L802.1 638.5L803.3 638.1L804.4 637.9L805.5 638.9L806.6 639.3L807.7 638.9L808.8 638.5L809.9 638.3L811.0 637.9L812.1 637.6L813.2 638.0L814.3 638.4L815.4 638.3L816.6 638.0L817.7 637.9L818.8 637.8L819.9 638.2L821.0 638.4L822.1 638.5L823.2 638.1L824.3 637.7L825.4 637.9L826.5 638.5L827.6 638.2L828.8 638.1L829.9 638.2L831.0 637.8L832.1 637.4L833.2 637.7L834.3 637.0L835.4 636.7L836.5 637.3L837.6 637.7L838.7 636.9L839.8 637.6L840.9 638.3L842.1 638.3L843.2 638.4L844.3 638.7L845.4 638.7L846.5 638.8L847.6 638.1L848.7 637.8L849.8 637.9L850.9 638.0L852.0 637.9L853.1 637.6L854.2 637.2L855.4 637.1L856.5 637.5L857.6 637.6L858.7 638.6L859.8 639.0L860.9 639.2L862.0 638.6L863.1 638.4L864.2 638.7L865.3 638.3L866.4 638.2L867.6 638.4L868.7 637.7L869.8 637.2L870.9 637.1L872.0 636.5L873.1 635.6L874.2 636.3L875.3 637.1L876.4 636.7L877.5 636.5L878.6 636.8L879.7 637.4L880.9 638.1L882.0 639.0L883.1 639.5L884.2 639.1L885.3 639.5L886.4 640.0L887.5 639.9L888.6 640.1L889.7 639.5L890.8 639.2L891.9 639.3L893.0 639.2L894.2 639.5L895.3 639.4L896.4 639.5L897.5 639.6L898.6 639.6L899.7 639.0L900.8 638.5L901.9 638.3L903.0 638.0L904.1 637.4L905.2 637.4L906.4 637.3L907.5 637.1L908.6 637.1L909.7 637.2L910.8 637.8L911.9 638.3L913.0 638.9L914.1 638.4L915.2 638.1L916.3 638.1L917.4 638.0L918.5 638.1L919.7 639.2L920.8 639.4L921.9 639.1L923.0 639.3L924.1 639.2L925.2 639.2L926.3 639.4L927.4 639.8L928.5 639.6L929.6 638.8L930.7 639.0L931.9 639.2L933.0 638.3L934.1 637.5L935.2 637.7L936.3 638.1L937.4 638.2L938.5 638.7L939.6 639.1L940.7 638.8L941.8 638.8L942.9 638.4L944.0 638.1L945.2 638.1L946.3 638.5L947.4 638.4L948.5 637.8L949.6 637.9L950.7 638.1L951.8 638.8L952.9 638.8L954.0 638.6L955.1 638.5L956.2 639.1L957.3 639.1L958.5 638.3L959.6 638.2L960.7 638.8L961.8 638.6L962.9 638.0L964.0 638.1L965.1 638.5L966.2 638.3L967.3 638.7L968.4 638.9L969.5 638.4L970.7 638.1L971.8 638.0L972.9 638.5L974.0 638.6L975.1 638.5L976.2 638.8L977.3 638.2L978.4 638.1L979.5 638.3L980.6 638.6L981.7 638.7L982.8 638.6L984.0 638.6L985.1 638.3L986.2 637.5L987.3 637.7L988.4 638.2L989.5 638.4L990.6 638.3L991.7 638.0L992.8 637.9L993.9 638.0L995.0 638.1L996.1 638.1L997.3 637.7L998.4 637.4L999.5 637.9L1000.6 638.3L1001.7 638.7L1002.8 638.7L1003.9 638.5L1005.0 638.6L1006.1 638.9L1007.2 638.3L1008.3 638.4L1009.5 639.0L1010.6 638.7L1011.7 639.2L1012.8 639.0L1013.9 639.1L1015.0 639.1L1016.1 638.7L1017.2 638.7L1018.3 638.8L1019.4 638.5L1020.5 638.2L1021.6 638.0L1022.8 637.9L1023.9 637.7L1025.0 638.0L1026.1 638.0L1027.2 637.4L1028.3 637.8L1029.4 638.1L1030.5 638.4L1031.6 638.5L1032.7 638.3L1033.8 637.8L1034.9 638.2L1036.1 638.2L1037.2 638.1L1038.3 638.3L1039.4 638.6L1040.5 638.7L1041.6 638.7L1042.7 638.5L1043.8 638.6L1044.9 638.9L1046.0 638.2L1047.1 637.6L1048.3 637.5L1049.4 637.3L1050.5 637.2L1051.6 637.3L1052.7 637.6L1053.8 637.8L1054.9 637.7L1056.0 638.3L1057.1 638.8L1058.2 638.7L1059.3 638.5L1060.4 637.9L1061.6 637.5L1062.7 637.9L1063.8 637.8L1064.9 637.3L1066.0 637.5L1067.1 638.1L1068.2 637.4L1069.3 636.9L1070.4 637.7L1071.5 638.0L1072.6 638.0L1073.8 638.4L1074.9 638.9L1076.0 639.2L1077.1 640.1L1078.2 640.6L1079.3 640.4L1080.4 639.4L1081.5 638.9L1082.6 638.9L1083.7 638.4L1084.8 638.8L1085.9 638.8L1087.1 638.7L1088.2 638.5L1089.3 637.9L1090.4 637.0L1091.5 636.7L1092.6 637.0L1093.7 636.6L1094.8 636.0L1095.9 636.2L1097.0 636.4L1098.1 636.0L1099.2 635.5L1100.4 635.5L1101.5 635.6L1102.6 635.8L1103.7 636.1L1104.8 636.4L1105.9 637.0L1107.0 638.3L1108.1 640.6L1109.2 645.2L1110.3 651.1L1111.4 658.8L1112.6 667.1L1113.7 675.4L1114.8 684.2L1115.9 693.1L1117.0 702.1L1118.1 711.3L1119.2 720.1L1120.3 728.7L1121.4 737.0L1122.5 744.1L1123.6 750.2L1124.7 755.8L1125.9 760.5L1127.0 763.8L1128.1 766.5L1129.2 768.9L1130.3 771.0L1131.4 772.6L1132.5 773.8L1133.6 774.3L1134.7 774.6L1135.8 774.9L1136.9 775.2L1138.0 775.4L1139.2 775.6L1140.3 775.8L1141.4 775.9L1142.5 776.1L1143.6 776.2L1144.7 776.3L1145.8 776.4L1146.9 776.5L1148.0 776.6L1149.1 776.7L1150.2 776.8L1151.4 776.9L1152.5 777.0L1153.6 777.1L1154.7 777.2L1155.8 777.3L1156.9 777.4L1158.0 777.5L1159.1 777.5L1160.2 777.5L1161.3 777.5L1162.4 777.5L1163.5 777.5L1164.7 777.5L1165.8 777.5L1166.9 777.3L1168.0 777.4L1169.1 777.6L1170.2 777.9L1171.3 777.8L1172.4 777.6L1173.5 776.9L1174.6 776.5L1175.7 777.0L1176.9 777.5L1178.0 778.1L1179.1 778.2L1180.2 777.9L1181.3 777.4L1182.4 777.2L1183.5 777.4L1184.6 778.1L1185.7 778.2L1186.8 778.0L1187.9 777.8L1189.0 778.4L1190.2 778.9L1191.3 777.9L1192.4 777.2L1193.5 777.1L1194.6 777.9L1195.7 778.0L1196.8 777.7L1197.9 778.4L1199.0 778.8L1200.1 778.2L1201.2 778.1L1202.3 778.7L1203.5 779.3L1204.6 779.1L1205.7 779.7L1206.8 779.6L1207.9 778.8L1209.0 778.5L1210.1 778.5L1211.2 778.7L1212.3 779.0L1213.4 778.3L1214.5 777.8L1215.7 778.2L1216.8 778.7L1217.9 778.1L1219.0 777.6L1220.1 777.6L1221.2 777.9L1222.3 778.4L1223.4 778.3L1224.5 777.8L1225.6 777.2L1226.7 777.3L1227.8 777.9L1229.0 777.7L1230.1 776.6L1231.2 776.4L1232.3 776.5L1233.4 776.0L1234.5 776.1L1235.6 776.6L1236.7 777.0L1237.8 777.1L1238.9 777.3L1240.0 777.2L1241.1 777.3L1242.3 777.8L1243.4 777.6L1244.5 777.8L1245.6 777.7L1246.7 777.0L1247.8 777.2L1248.9 777.0L1250.0 776.2L1251.1 776.2L1252.2 777.2L1253.3 777.8L1254.5 777.6L1255.6 777.0L1256.7 776.6L1257.8 776.4L1258.9 776.9L1260.0 777.8L1261.1 778.5L1262.2 778.9L1263.3 778.3L1264.4 777.6L1265.5 777.1L1266.6 776.9L1267.8 776.9L1268.9 777.6L1270.0 778.1L1271.1 777.5L1272.2 777.3L1273.3 777.3L1274.4 777.0L1275.5 776.9L1276.6 777.5L1277.7 778.0L1278.8 777.3L1280.0 776.8L1281.1 777.0L1282.2 776.6L1283.3 776.7L1284.4 777.5L1285.5 777.7L1286.6 777.9L1287.7 777.9L1288.8 777.4L1289.9 777.2L1291.0 777.4L1292.1 777.5L1293.3 777.6L1294.4 777.6L1295.5 777.7L1296.6 777.5L1297.7 777.2L1298.8 776.9L1299.9 776.9L1301.0 777.3L1302.1 777.7L1303.2 778.1L1304.3 776.9L1305.4 776.4L1306.6 776.8L1307.7 777.4L1308.8 778.2L1309.9 778.3L1311.0 777.7L1312.1 777.8L1313.2 777.6L1314.3 777.6L1315.4 777.9L1316.5 777.0L1317.6 776.4L1318.8 776.5L1319.9 776.9L1321.0 777.1L1322.1 777.0L1323.2 776.8L1324.3 777.4L1325.4 777.3L1326.5 777.0L1327.6 777.0L1328.7 777.2L1329.8 777.4L1330.9 777.4L1332.1 777.7L1333.2 777.5L1334.3 777.6L1335.4 777.9L1336.5 777.5L1337.6 777.9L1338.7 778.6L1339.8 778.3L1340.9 777.7L1342.0 777.8L1343.1 778.2L1344.2 778.1L1345.4 777.3L1346.5 777.3L1347.6 777.7L1348.7 777.7L1349.8 778.0L1350.9 777.9L1352.0 777.6L1353.1 778.4L1354.2 778.7L1355.3 779.0L1356.4 779.5L1357.6 779.8L1358.7 779.0L1359.8 778.5L1360.9 778.6L1362.0 778.6L1363.1 778.6L1364.2 778.5L1365.3 778.1L1366.4 778.0L1367.5 777.6L1368.6 776.8L1369.7 776.6L1370.9 776.7L1372.0 777.0L1373.1 777.4L1374.2 778.2L1375.3 778.2L1376.4 777.6L1377.5 778.2L1378.6 778.9L1379.7 778.6L1380.8 778.2L1381.9 778.3L1383.1 778.7L1384.2 779.2L1385.3 778.6L1386.4 778.2L1387.5 778.3L1388.6 778.4L1389.7 777.9L1390.8 778.0L1391.9 778.5L1393.0 778.6L1394.1 778.7L1395.2 778.9L1396.4 778.7L1397.5 778.3L1398.6 778.3L1399.7 777.8L1400.8 777.6L1401.9 777.6L1403.0 777.4L1404.1 778.0L1405.2 778.5L1406.3 778.0L1407.4 777.0L1408.5 777.1L1409.7 778.0L1410.8 778.1L1411.0 778.5"/>
<path stroke="#3563b6" d="M203.5 788.0L204.6 787.9L205.7 787.8L206.8 787.8L207.9 787.4L209.0 787.3L210.2 787.6L211.3 787.6L212.4 787.4L213.5 787.5L214.6 787.6L215.7 787.5L216.8 787.5L217.9 787.6L219.0 787.9L220.1 787.8L221.2 787.5L222.3 787.4L223.5 787.3L224.6 787.2L225.7 787.7L226.8 788.2L227.9 788.2L229.0 788.1L230.1 788.5L231.2 788.2L232.3 787.7L233.4 787.6L234.5 787.6L235.6 787.6L236.8 788.0L237.9 788.0L239.0 787.6L240.1 787.4L241.2 787.3L242.3 787.0L243.4 786.7L244.5 786.7L245.6 787.0L246.7 787.1L247.8 787.1L249.0 787.1L250.1 787.0L251.2 786.7L252.3 786.3L253.4 786.3L254.5 786.8L255.6 786.6L256.7 786.2L257.8 786.2L258.9 786.6L260.0 786.8L261.1 786.7L262.3 786.4L263.4 786.1L264.5 785.8L265.6 785.9L266.7 785.9L267.8 785.9L268.9 785.8L270.0 786.1L271.1 786.4L272.2 786.5L273.3 786.5L274.5 786.8L275.6 787.0L276.7 787.0L277.8 787.1L278.9 787.1L280.0 787.2L281.1 787.1L282.2 787.4L283.3 786.9L284.4 786.3L285.5 786.3L286.6 786.6L287.8 786.5L288.9 786.2L290.0 786.0L291.1 786.1L292.2 786.5L293.3 786.7L294.4 786.5L295.5 786.3L296.6 786.5L297.7 786.6L298.8 786.7L299.9 786.7L301.1 787.0L302.2 787.2L303.3 787.0L304.4 786.8L305.5 786.6L306.6 786.4L307.7 786.4L308.8 786.4L309.9 786.5L311.0 786.8L312.1 786.9L313.3 786.6L314.4 786.9L315.5 787.2L316.6 787.0L317.7 786.9L318.8 787.0L319.9 787.0L321.0 786.8L322.1 786.5L323.2 785.9L324.3 786.0L325.4 786.5L326.6 786.6L327.7 786.2L328.8 786.0L329.9 786.2L331.0 786.4L332.1 786.3L333.2 786.7L334.3 786.9L335.4 786.8L336.5 786.9L337.6 786.9L338.7 786.9L339.9 786.5L341.0 786.5L342.1 787.0L343.2 787.2L344.3 787.0L345.4 786.9L346.5 786.7L347.6 786.5L348.7 786.4L349.8 786.5L350.9 786.7L352.1 787.1L353.2 787.2L354.3 787.4L355.4 787.3L356.5 786.9L357.6 787.1L358.7 787.0L359.8 786.8L360.9 786.3L362.0 785.9L363.1 785.9L364.2 786.0L365.4 785.9L366.5 786.2L367.6 786.4L368.7 786.2L369.8 786.3L370.9 786.6L372.0 786.4L373.1 786.6L374.2 786.6L375.3 787.0L376.4 786.9L377.6 786.8L378.7 787.1L379.8 787.3L380.9 786.8L382.0 786.7L383.1 787.1L384.2 787.2L385.3 787.0L386.4 786.9L387.5 786.8L388.6 786.7L389.7 786.6L390.9 786.5L392.0 786.4L393.1 786.3L394.2 786.4L395.3 786.5L396.4 786.3L397.5 786.2L398.6 786.6L399.7 787.0L400.8 786.8L401.9 786.5L403.0 786.1L404.2 785.8L405.3 785.9L406.4 786.0L407.5 786.1L408.6 786.0L409.7 786.3L410.8 786.5L411.9 786.7L413.0 786.8L414.1 786.8L415.2 786.5L416.4 786.7L417.5 787.1L418.6 787.3L419.7 787.0L420.8 786.7L421.9 786.8L423.0 786.9L424.1 786.7L425.2 786.4L426.3 786.3L427.4 786.2L428.5 786.3L429.7 786.4L430.8 786.5L431.9 786.4L433.0 786.5L434.1 786.5L435.2 786.5L436.3 786.4L437.4 784.6L438.5 781.5L439.6 777.7L440.7 772.1L441.8 765.1L443.0 757.6L444.1 750.3L445.2 744.1L446.3 738.5L447.4 733.1L448.5 727.9L449.6 722.9L450.7 718.2L451.8 713.7L452.9 709.2L454.0 704.8L455.2 700.7L456.3 697.4L457.4 694.9L458.5 692.8L459.6 690.9L460.7 689.3L461.8 688.0L462.9 687.1L464.0 686.3L465.1 685.6L466.2 684.9L467.3 684.4L468.5 684.0L469.6 683.6L470.7 683.5L471.8 683.4L472.9 683.3L474.0 683.2L475.1 683.2L476.2 683.1L477.3 683.1L478.4 683.0L479.5 683.0L480.6 683.0L481.8 683.2L482.9 683.3L484.0 682.9L485.1 682.5L486.2 683.9L487.3 684.4L488.4 684.1L489.5 683.9L490.6 683.8L491.7 683.5L492.8 683.2L494.0 682.8L495.1 682.3L496.2 681.9L497.3 682.1L498.4 682.4L499.5 682.8L500.6 682.9L501.7 683.3L502.8 684.2L503.9 683.5L505.0 683.1L506.1 683.2L507.3 683.5L508.4 683.3L509.5 682.8L510.6 682.8L511.7 683.4L512.8 682.6L513.9 682.5L515.0 683.1L516.1 683.4L517.2 683.5L518.3 683.4L519.5 683.6L520.6 683.5L521.7 683.4L522.8 683.0L523.9 682.9L525.0 682.8L526.1 683.1L527.2 683.0L528.3 682.6L529.4 683.1L530.5 683.7L531.6 683.7L532.8 683.9L533.9 683.6L535.0 683.7L536.1 684.2L537.2 683.8L538.3 683.5L539.4 683.8L540.5 684.0L541.6 684.1L542.7 684.1L543.8 684.1L544.9 684.3L546.1 684.0L547.2 683.2L548.3 683.2L549.4 683.8L550.5 683.6L551.6 683.3L552.7 682.9L553.8 682.9L554.9 682.7L556.0 682.4L557.1 682.7L558.3 682.3L559.4 682.4L560.5 682.4L561.6 682.6L562.7 682.5L563.8 682.3L564.9 682.8L566.0 682.6L567.1 681.9L568.2 681.9L569.3 682.2L570.4 682.6L571.6 682.2L572.7 682.1L573.8 682.5L574.9 682.3L576.0 682.2L577.1 682.2L578.2 682.0L579.3 682.7L580.4 682.7L581.5 682.6L582.6 682.7L583.7 682.1L584.9 682.2L586.0 682.5L587.1 681.6L588.2 681.9L589.3 682.2L590.4 682.3L591.5 682.2L592.6 681.4L593.7 681.0L594.8 681.1L595.9 681.0L597.1 681.8L598.2 681.9L599.3 681.3L600.4 681.6L601.5 681.7L602.6 682.2L603.7 682.1L604.8 682.1L605.9 681.9L607.0 682.3L608.1 682.6L609.2 682.4L610.4 682.8L611.5 683.2L612.6 682.9L613.7 682.5L614.8 682.8L615.9 683.1L617.0 682.9L618.1 682.9L619.2 682.5L620.3 682.9L621.4 682.8L622.6 682.8L623.7 682.2L624.8 681.9L625.9 682.2L627.0 682.6L628.1 682.1L629.2 681.8L630.3 682.2L631.4 682.3L632.5 682.7L633.6 682.8L634.7 682.7L635.9 683.1L637.0 683.2L638.1 682.4L639.2 681.9L640.3 682.3L641.4 682.5L642.5 682.5L643.6 683.0L644.7 682.7L645.8 682.2L646.9 681.5L648.0 681.8L649.2 681.5L650.3 681.8L651.4 682.0L652.5 681.8L653.6 681.8L654.7 681.6L655.8 681.5L656.9 681.2L658.0 681.3L659.1 681.3L660.2 682.1L661.4 682.8L662.5 682.2L663.6 681.2L664.7 681.1L665.8 681.2L666.9 681.5L668.0 681.5L669.1 681.4L670.2 681.8L671.3 681.8L672.4 682.0L673.5 681.8L674.7 681.8L675.8 681.8L676.9 682.0L678.0 682.1L679.1 682.6L680.2 682.5L681.3 682.7L682.4 682.7L683.5 682.6L684.6 682.7L685.7 682.4L686.8 682.0L688.0 681.5L689.1 681.8L690.2 682.3L691.3 682.7L692.4 682.9L693.5 682.4L694.6 682.0L695.7 683.0L696.8 683.1L697.9 682.8L699.0 683.0L700.2 683.3L701.3 683.1L702.4 683.0L703.5 682.5L704.6 682.5L705.7 682.4L706.8 681.8L707.9 681.6L709.0 681.6L710.1 681.6L711.2 681.5L712.3 682.3L713.5 682.7L714.6 682.3L715.7 682.1L716.8 681.5L717.9 681.2L719.0 681.6L720.1 681.8L721.2 681.4L722.3 680.9L723.4 681.4L724.5 681.2L725.7 681.0L726.8 681.1L727.9 681.0L729.0 680.8L730.1 681.3L731.2 681.8L732.3 681.4L733.4 681.3L734.5 681.2L735.6 681.5L736.7 682.0L737.8 682.7L739.0 682.5L740.1 682.2L741.2 682.6L742.3 682.3L743.4 681.8L744.5 682.3L745.6 682.4L746.7 682.1L747.8 682.2L748.9 681.9L750.0 681.4L751.1 681.9L752.3 682.1L753.4 681.9L754.5 681.0L755.6 680.8L756.7 681.6L757.8 681.5L758.9 681.6L760.0 681.3L761.1 681.4L762.2 681.3L763.3 681.9L764.5 682.4L765.6 681.7L766.7 681.0L767.8 680.5L768.9 680.9L770.0 681.7L771.1 682.3L772.2 682.2L773.3 681.9L774.4 681.6L775.5 681.9L776.6 683.3L777.8 683.5L778.9 682.6L780.0 682.4L781.1 681.8L782.2 681.9L783.3 682.0L784.4 682.8L785.5 683.3L786.6 682.2L787.7 682.3L788.8 682.5L789.9 682.2L791.1 681.9L792.2 682.5L793.3 682.6L794.4 682.7L795.5 682.0L796.6 681.9L797.7 682.1L798.8 682.0L799.9 682.4L801.0 682.8L802.1 682.5L803.3 682.0L804.4 682.2L805.5 682.3L806.6 682.8L807.7 682.4L808.8 681.9L809.9 681.9L811.0 681.7L812.1 681.7L813.2 682.0L814.3 681.4L815.4 681.4L816.6 682.0L817.7 682.3L818.8 682.1L819.9 682.0L821.0 681.7L822.1 681.7L823.2 681.8L824.3 681.9L825.4 681.9L826.5 681.9L827.6 682.1L828.8 681.4L829.9 681.6L831.0 681.6L832.1 681.8L833.2 681.5L834.3 681.3L835.4 681.3L836.5 681.7L837.6 682.0L838.7 682.0L839.8 682.1L840.9 681.9L842.1 681.3L843.2 681.1L844.3 680.8L845.4 681.5L846.5 681.1L847.6 680.9L848.7 680.8L849.8 680.4L850.9 680.9L852.0 681.7L853.1 681.7L854.2 681.1L855.4 681.1L856.5 681.5L857.6 681.2L858.7 681.4L859.8 682.1L860.9 681.8L862.0 682.1L863.1 682.4L864.2 682.3L865.3 682.5L866.4 682.9L867.6 682.4L868.7 682.1L869.8 681.7L870.9 681.9L872.0 681.4L873.1 681.0L874.2 680.5L875.3 680.8L876.4 681.1L877.5 681.3L878.6 681.6L879.7 681.2L880.9 681.5L882.0 681.9L883.1 682.6L884.2 682.6L885.3 681.9L886.4 681.7L887.5 682.3L888.6 683.0L889.7 683.0L890.8 682.9L891.9 682.6L893.0 682.1L894.2 682.1L895.3 682.4L896.4 682.4L897.5 682.5L898.6 682.6L899.7 682.3L900.8 682.6L901.9 682.6L903.0 682.2L904.1 682.0L905.2 682.0L906.4 681.8L907.5 681.4L908.6 681.4L909.7 681.4L910.8 681.0L911.9 680.8L913.0 680.5L914.1 681.0L915.2 681.1L916.3 681.1L917.4 681.2L918.5 681.9L919.7 681.8L920.8 681.6L921.9 681.3L923.0 681.2L924.1 681.3L925.2 681.7L926.3 682.0L927.4 682.4L928.5 682.5L929.6 682.3L930.7 682.8L931.9 683.0L933.0 682.8L934.1 682.1L935.2 681.5L936.3 681.7L937.4 681.8L938.5 682.5L939.6 682.9L940.7 682.9L941.8 682.5L942.9 682.2L944.0 682.6L945.2 682.3L946.3 682.3L947.4 682.4L948.5 682.3L949.6 682.5L950.7 683.1L951.8 683.5L952.9 683.3L954.0 683.3L955.1 683.2L956.2 683.3L957.3 683.6L958.5 683.5L959.6 683.6L960.7 683.3L961.8 683.4L962.9 683.2L964.0 683.1L965.1 682.4L966.2 682.1L967.3 682.3L968.4 682.9L969.5 682.9L970.7 682.7L971.8 683.0L972.9 683.6L974.0 683.7L975.1 683.3L976.2 683.0L977.3 682.8L978.4 683.3L979.5 683.0L980.6 682.5L981.7 681.8L982.8 681.0L984.0 681.1L985.1 681.4L986.2 681.7L987.3 681.7L988.4 681.9L989.5 682.0L990.6 682.2L991.7 682.2L992.8 681.8L993.9 681.5L995.0 682.5L996.1 683.1L997.3 683.3L998.4 681.8L999.5 681.8L1000.6 681.7L1001.7 681.4L1002.8 681.4L1003.9 681.1L1005.0 681.7L1006.1 682.4L1007.2 682.9L1008.3 683.0L1009.5 682.4L1010.6 681.9L1011.7 681.7L1012.8 681.4L1013.9 681.2L1015.0 681.3L1016.1 681.5L1017.2 682.2L1018.3 682.5L1019.4 682.2L1020.5 681.6L1021.6 681.8L1022.8 682.2L1023.9 681.8L1025.0 682.1L1026.1 682.1L1027.2 681.6L1028.3 681.9L1029.4 682.1L1030.5 682.5L1031.6 682.3L1032.7 682.3L1033.8 682.0L1034.9 681.6L1036.1 682.1L1037.2 681.6L1038.3 681.2L1039.4 681.7L1040.5 681.8L1041.6 681.6L1042.7 681.7L1043.8 681.8L1044.9 682.1L1046.0 682.4L1047.1 682.7L1048.3 682.1L1049.4 681.6L1050.5 681.0L1051.6 680.9L1052.7 681.1L1053.8 680.9L1054.9 681.1L1056.0 681.0L1057.1 681.3L1058.2 681.4L1059.3 682.0L1060.4 682.1L1061.6 681.5L1062.7 682.4L1063.8 683.3L1064.9 683.7L1066.0 683.8L1067.1 683.4L1068.2 682.8L1069.3 682.8L1070.4 683.3L1071.5 683.4L1072.6 683.2L1073.8 683.1L1074.9 682.8L1076.0 681.9L1077.1 680.8L1078.2 680.6L1079.3 680.4L1080.4 680.6L1081.5 681.0L1082.6 680.9L1083.7 681.1L1084.8 682.0L1085.9 682.0L1087.1 681.6L1088.2 681.1L1089.3 681.4L1090.4 680.6L1091.5 680.2L1092.6 679.7L1093.7 678.7L1094.8 678.0L1095.9 678.3L1097.0 678.0L1098.1 677.8L1099.2 677.6L1100.4 677.5L1101.5 677.5L1102.6 677.8L1103.7 678.4L1104.8 679.3L1105.9 681.4L1107.0 684.6L1108.1 688.4L1109.2 693.4L1110.3 699.2L1111.4 705.7L1112.6 713.5L1113.7 721.3L1114.8 729.1L1115.9 737.0L1117.0 743.8L1118.1 749.7L1119.2 755.1L1120.3 759.8L1121.4 763.5L1122.5 766.4L1123.6 769.0L1124.7 771.2L1125.9 773.0L1127.0 774.4L1128.1 775.5L1129.2 776.6L1130.3 777.6L1131.4 778.5L1132.5 779.2L1133.6 779.7L1134.7 780.0L1135.8 780.1L1136.9 780.2L1138.0 780.2L1139.2 780.3L1140.3 780.4L1141.4 780.5L1142.5 780.5L1143.6 780.6L1144.7 780.6L1145.8 780.7L1146.9 780.7L1148.0 780.8L1149.1 780.8L1150.2 780.8L1151.4 780.9L1152.5 780.9L1153.6 780.9L1154.7 780.9L1155.8 781.0L1156.9 781.0L1158.0 781.0L1159.1 781.0L1160.2 781.0L1161.3 781.0L1162.4 781.0L1163.5 781.0L1164.7 781.0L1165.8 781.0L1166.9 780.8L1168.0 780.3L1169.1 780.1L1170.2 780.8L1171.3 781.1L1172.4 780.8L1173.5 780.5L1174.6 780.5L1175.7 781.1L1176.9 781.5L1178.0 781.3L1179.1 780.9L1180.2 780.9L1181.3 780.8L1182.4 780.6L1183.5 780.2L1184.6 780.3L1185.7 781.0L1186.8 781.5L1187.9 781.5L1189.0 782.3L1190.2 782.6L1191.3 782.2L1192.4 781.9L1193.5 781.1L1194.6 780.5L1195.7 781.2L1196.8 781.9L1197.9 782.0L1199.0 782.1L1200.1 782.3L1201.2 781.9L1202.3 781.7L1203.5 781.8L1204.6 781.5L1205.7 781.5L1206.8 781.4L1207.9 781.6L1209.0 782.2L1210.1 782.2L1211.2 781.7L1212.3 781.5L1213.4 781.7L1214.5 782.0L1215.7 781.2L1216.8 780.6L1217.9 781.0L1219.0 781.8L1220.1 781.8L1221.2 781.7L1222.3 782.2L1223.4 782.2L1224.5 782.0L1225.6 781.9L1226.7 782.2L1227.8 782.8L1229.0 783.0L1230.1 782.9L1231.2 782.7L1232.3 782.1L1233.4 781.6L1234.5 781.3L1235.6 781.2L1236.7 781.9L1237.8 781.6L1238.9 781.5L1240.0 781.4L1241.1 780.7L1242.3 780.9L1243.4 781.1L1244.5 780.9L1245.6 780.5L1246.7 781.3L1247.8 781.8L1248.9 781.8L1250.0 781.8L1251.1 781.5L1252.2 781.0L1253.3 780.9L1254.5 781.0L1255.6 780.9L1256.7 780.3L1257.8 780.6L1258.9 781.3L1260.0 782.0L1261.1 782.2L1262.2 781.6L1263.3 781.4L1264.4 781.7L1265.5 781.8L1266.6 782.1L1267.8 781.9L1268.9 781.1L1270.0 780.9L1271.1 780.5L1272.2 780.2L1273.3 780.2L1274.4 780.7L1275.5 780.7L1276.6 780.4L1277.7 780.4L1278.8 781.3L1280.0 782.3L1281.1 782.2L1282.2 781.7L1283.3 781.5L1284.4 781.7L1285.5 781.9L1286.6 781.8L1287.7 782.4L1288.8 783.0L1289.9 782.6L1291.0 782.1L1292.1 782.7L1293.3 783.2L1294.4 782.7L1295.5 782.3L1296.6 782.1L1297.7 781.9L1298.8 781.9L1299.9 782.7L1301.0 782.7L1302.1 782.1L1303.2 781.4L1304.3 780.6L1305.4 780.9L1306.6 781.4L1307.7 780.5L1308.8 780.0L1309.9 780.6L1311.0 781.3L1312.1 780.8L1313.2 781.5L1314.3 782.6L1315.4 782.4L1316.5 781.8L1317.6 781.5L1318.8 781.6L1319.9 782.2L1321.0 781.9L1322.1 781.9L1323.2 781.7L1324.3 781.1L1325.4 780.8L1326.5 781.4L1327.6 781.9L1328.7 782.2L1329.8 782.5L1330.9 781.9L1332.1 781.9L1333.2 781.7L1334.3 781.3L1335.4 781.2L1336.5 781.1L1337.6 781.4L1338.7 782.0L1339.8 782.5L1340.9 782.0L1342.0 781.7L1343.1 782.1L1344.2 781.9L1345.4 782.2L1346.5 782.3L1347.6 782.4L1348.7 782.2L1349.8 781.5L1350.9 781.1L1352.0 781.1L1353.1 781.6L1354.2 782.0L1355.3 781.9L1356.4 781.2L1357.6 781.3L1358.7 781.4L1359.8 781.3L1360.9 781.5L1362.0 781.2L1363.1 781.1L1364.2 781.1L1365.3 781.6L1366.4 781.5L1367.5 781.2L1368.6 781.3L1369.7 781.5L1370.9 781.0L1372.0 780.8L1373.1 780.9L1374.2 781.6L1375.3 781.5L1376.4 781.6L1377.5 782.2L1378.6 782.7L1379.7 782.7L1380.8 782.1L1381.9 781.8L1383.1 781.8L1384.2 782.1L1385.3 782.2L1386.4 782.0L1387.5 782.0L1388.6 782.2L1389.7 782.6L1390.8 782.4L1391.9 781.5L1393.0 781.3L1394.1 781.8L1395.2 782.1L1396.4 782.1L1397.5 782.6L1398.6 782.6L1399.7 782.8L1400.8 782.6L1401.9 781.6L1403.0 781.4L1404.1 781.7L1405.2 782.1L1406.3 782.0L1407.4 782.2L1408.5 781.9L1409.7 781.7L1410.8 781.9L1411.9 782.3L1413.0 782.7L1414.1 782.6L1415.2 782.3L1416.3 781.7L1417.4 781.7L1418.5 782.2L1419.6 782.8L1420.7 782.5L1421.9 782.6L1423.0 783.0L1424.1 783.3L1425.2 782.9L1426.3 783.0L1427.4 783.9L1428.5 783.7L1429.6 783.4L1430.7 783.8L1431.8 783.7L1432.9 784.4L1434.0 784.6L1435.2 784.5L1436.3 784.3L1437.4 783.9L1438.5 783.9L1439.6 784.0L1440.7 784.1L1441.8 783.5L1442.9 783.1L1443.0 783.0"/>
<path stroke="#6f90d4" d="M203.5 788.5L204.6 788.5L205.7 788.9L206.8 789.2L207.9 788.8L209.0 788.7L210.2 788.9L211.3 789.0L212.4 789.2L213.5 789.1L214.6 788.6L215.7 788.2L216.8 788.5L217.9 788.4L219.0 788.2L220.1 788.7L221.2 789.0L222.3 788.7L223.5 788.8L224.6 788.9L225.7 788.8L226.8 788.8L227.9 788.6L229.0 788.6L230.1 788.7L231.2 788.8L232.3 788.7L233.4 788.5L234.5 788.6L235.6 788.8L236.8 788.9L237.9 788.8L239.0 788.9L240.1 789.0L241.2 789.2L242.3 789.3L243.4 789.6L244.5 789.2L245.6 788.8L246.7 789.0L247.8 788.9L249.0 788.8L250.1 789.1L251.2 789.3L252.3 788.9L253.4 788.2L254.5 787.8L255.6 787.8L256.7 787.9L257.8 787.8L258.9 787.8L260.0 787.7L261.1 787.5L262.3 787.4L263.4 787.8L264.5 787.7L265.6 787.8L266.7 788.0L267.8 788.2L268.9 788.4L270.0 788.5L271.1 788.5L272.2 788.3L273.3 788.6L274.5 788.7L275.6 788.9L276.7 788.8L277.8 788.9L278.9 789.0L280.0 789.0L281.1 788.5L282.2 788.7L283.3 789.0L284.4 789.1L285.5 789.3L286.6 789.2L287.8 789.3L288.9 788.8L290.0 788.5L291.1 788.7L292.2 788.4L293.3 788.7L294.4 789.2L295.5 789.2L296.6 788.9L297.7 788.6L298.8 788.4L299.9 788.1L301.1 788.1L302.2 788.1L303.3 788.3L304.4 788.6L305.5 788.5L306.6 788.4L307.7 788.6L308.8 789.0L309.9 789.0L311.0 789.0L312.1 789.1L313.3 789.1L314.4 789.3L315.5 789.2L316.6 788.9L317.7 788.6L318.8 788.6L319.9 788.8L321.0 789.0L322.1 788.6L323.2 788.3L324.3 788.0L325.4 788.0L326.6 788.2L327.7 788.1L328.8 788.1L329.9 788.2L331.0 787.8L332.1 788.1L333.2 788.5L334.3 788.5L335.4 788.0L336.5 787.9L337.6 788.1L338.7 788.2L339.9 788.1L341.0 788.1L342.1 788.2L343.2 788.9L344.3 789.3L345.4 789.2L346.5 788.8L347.6 788.3L348.7 788.2L349.8 788.4L350.9 788.4L352.1 788.5L353.2 788.3L354.3 788.4L355.4 788.6L356.5 788.1L357.6 787.8L358.7 788.1L359.8 788.7L360.9 788.6L362.0 788.3L363.1 788.4L364.2 788.5L365.4 788.7L366.5 788.4L367.6 788.2L368.7 788.2L369.8 788.6L370.9 788.7L372.0 788.5L373.1 788.5L374.2 788.3L375.3 788.2L376.4 788.1L377.6 788.2L378.7 788.2L379.8 788.6L380.9 788.5L382.0 788.1L383.1 788.0L384.2 788.1L385.3 788.4L386.4 788.4L387.5 788.3L388.6 788.0L389.7 788.2L390.9 788.4L392.0 788.6L393.1 788.6L394.2 788.7L395.3 788.9L396.4 788.7L397.5 788.5L398.6 788.8L399.7 788.9L400.8 788.7L401.9 788.4L403.0 788.5L404.2 788.7L405.3 788.8L406.4 788.6L407.5 788.5L408.6 788.5L409.7 788.4L410.8 788.1L411.9 787.7L413.0 787.8L414.1 788.3L415.2 788.5L416.4 788.6L417.5 788.9L418.6 788.8L419.7 788.9L420.8 788.7L421.9 788.8L423.0 789.2L424.1 789.4L425.2 789.5L426.3 789.1L427.4 788.9L428.5 789.3L429.7 789.2L430.8 788.4L431.9 788.3L433.0 788.5L434.1 788.5L435.2 788.5L436.3 788.5L437.4 788.5L438.5 788.4L439.6 788.0L440.7 787.2L441.8 786.1L443.0 784.6L444.1 782.2L445.2 779.4L446.3 776.6L447.4 774.2L448.5 772.1L449.6 770.2L450.7 768.2L451.8 766.4L452.9 764.4L454.0 762.5L455.2 760.4L456.3 758.1L457.4 755.5L458.5 752.7L459.6 749.7L460.7 746.9L461.8 744.4L462.9 742.3L464.0 740.7L465.1 739.3L466.2 737.9L467.3 736.6L468.5 735.5L469.6 734.5L470.7 733.5L471.8 732.7L472.9 732.1L474.0 731.5L475.1 730.9L476.2 730.3L477.3 729.8L478.4 729.3L479.5 728.9L480.6 728.5L481.8 728.2L482.9 728.0L484.0 727.8L485.1 727.7L486.2 727.6L487.3 727.6L488.4 727.5L489.5 727.5L490.6 727.5L491.7 727.4L492.8 727.6L494.0 727.7L495.1 727.7L496.2 727.9L497.3 728.0L498.4 727.8L499.5 728.2L500.6 727.6L501.7 726.8L502.8 726.8L503.9 727.1L505.0 727.0L506.1 727.2L507.3 727.5L508.4 727.6L509.5 727.4L510.6 727.1L511.7 727.1L512.8 727.1L513.9 726.6L515.0 726.7L516.1 726.6L517.2 726.3L518.3 726.4L519.5 726.9L520.6 727.5L521.7 727.7L522.8 727.4L523.9 727.0L525.0 727.0L526.1 726.9L527.2 726.7L528.3 726.7L529.4 727.0L530.5 727.0L531.6 727.2L532.8 727.1L533.9 726.5L535.0 726.1L536.1 726.8L537.2 727.8L538.3 727.7L539.4 727.6L540.5 728.3L541.6 728.6L542.7 728.3L543.8 728.1L544.9 727.9L546.1 727.6L547.2 728.1L548.3 728.2L549.4 727.7L550.5 727.5L551.6 726.9L552.7 726.7L553.8 727.0L554.9 727.8L556.0 727.6L557.1 726.7L558.3 727.3L559.4 727.8L560.5 727.3L561.6 727.4L562.7 727.4L563.8 727.1L564.9 727.3L566.0 727.5L567.1 727.6L568.2 727.9L569.3 727.7L570.4 727.4L571.6 727.9L572.7 728.6L573.8 728.3L574.9 727.5L576.0 727.0L577.1 726.9L578.2 727.1L579.3 727.4L580.4 728.2L581.5 728.3L582.6 727.8L583.7 727.7L584.9 727.2L586.0 727.0L587.1 727.5L588.2 727.3L589.3 726.9L590.4 727.0L591.5 726.6L592.6 726.3L593.7 726.1L594.8 726.1L595.9 726.7L597.1 726.7L598.2 726.3L599.3 726.4L600.4 726.3L601.5 726.8L602.6 727.4L603.7 727.6L604.8 727.2L605.9 726.5L607.0 726.7L608.1 727.1L609.2 726.7L610.4 726.2L611.5 726.0L612.6 726.3L613.7 726.5L614.8 725.8L615.9 726.2L617.0 727.2L618.1 727.5L619.2 727.2L620.3 726.9L621.4 726.9L622.6 727.5L623.7 727.0L624.8 726.8L625.9 726.9L627.0 727.0L628.1 726.9L629.2 726.7L630.3 727.5L631.4 727.9L632.5 727.8L633.6 727.5L634.7 727.4L635.9 727.4L637.0 727.5L638.1 727.3L639.2 727.0L640.3 726.7L641.4 726.4L642.5 726.6L643.6 726.9L644.7 727.0L645.8 726.9L646.9 726.5L648.0 725.9L649.2 726.1L650.3 727.2L651.4 727.7L652.5 727.3L653.6 726.6L654.7 727.1L655.8 727.8L656.9 727.4L658.0 727.1L659.1 727.1L660.2 727.5L661.4 727.4L662.5 727.4L663.6 727.3L664.7 727.1L665.8 727.1L666.9 726.6L668.0 726.6L669.1 727.3L670.2 727.7L671.3 728.3L672.4 727.7L673.5 727.2L674.7 727.1L675.8 727.1L676.9 727.1L678.0 727.5L679.1 727.6L680.2 727.1L681.3 726.8L682.4 726.8L683.5 726.9L684.6 727.3L685.7 727.3L686.8 727.0L688.0 726.8L689.1 727.2L690.2 727.1L691.3 726.7L692.4 726.8L693.5 726.9L694.6 726.8L695.7 727.1L696.8 727.3L697.9 727.2L699.0 727.4L700.2 727.1L701.3 727.0L702.4 726.9L703.5 726.8L704.6 726.6L705.7 726.3L706.8 726.7L707.9 727.0L709.0 727.2L710.1 727.4L711.2 728.1L712.3 728.7L713.5 728.7L714.6 728.3L715.7 728.1L716.8 727.9L717.9 727.7L719.0 727.6L720.1 727.4L721.2 726.8L722.3 726.8L723.4 726.5L724.5 725.9L725.7 726.1L726.8 727.0L727.9 726.9L729.0 726.6L730.1 726.6L731.2 726.8L732.3 726.9L733.4 727.2L734.5 728.1L735.6 727.5L736.7 726.7L737.8 726.1L739.0 725.8L740.1 726.0L741.2 726.1L742.3 726.2L743.4 726.4L744.5 727.0L745.6 727.2L746.7 726.7L747.8 726.5L748.9 726.7L750.0 726.7L751.1 726.8L752.3 727.2L753.4 727.1L754.5 726.6L755.6 726.7L756.7 726.9L757.8 726.8L758.9 726.9L760.0 727.6L761.1 728.0L762.2 728.3L763.3 728.2L764.5 728.5L765.6 728.1L766.7 727.8L767.8 727.7L768.9 727.4L770.0 727.5L771.1 727.8L772.2 727.8L773.3 728.1L774.4 728.0L775.5 727.7L776.6 727.6L777.8 726.9L778.9 727.0L780.0 727.8L781.1 728.4L782.2 728.3L783.3 727.6L784.4 727.3L785.5 727.5L786.6 727.4L787.7 727.0L788.8 727.3L789.9 727.9L791.1 728.0L792.2 727.6L793.3 727.6L794.4 727.5L795.5 727.2L796.6 727.7L797.7 727.9L798.8 727.4L799.9 727.7L801.0 727.6L802.1 726.8L803.3 726.5L804.4 726.6L805.5 726.3L806.6 726.7L807.7 727.1L808.8 726.9L809.9 726.4L811.0 726.7L812.1 727.2L813.2 727.6L814.3 727.7L815.4 727.8L816.6 727.6L817.7 727.7L818.8 727.6L819.9 727.6L821.0 727.4L822.1 727.3L823.2 726.7L824.3 726.5L825.4 727.3L826.5 727.5L827.6 726.8L828.8 726.3L829.9 726.4L831.0 726.4L832.1 726.8L833.2 726.8L834.3 727.2L835.4 727.1L836.5 726.9L837.6 726.7L838.7 726.9L839.8 727.6L840.9 728.0L842.1 728.0L843.2 727.9L844.3 727.7L845.4 727.4L846.5 727.4L847.6 728.0L848.7 728.0L849.8 727.7L850.9 727.7L852.0 727.7L853.1 727.5L854.2 727.3L855.4 727.2L856.5 727.3L857.6 726.9L858.7 726.9L859.8 727.1L860.9 727.1L862.0 727.3L863.1 727.3L864.2 726.9L865.3 726.5L866.4 726.6L867.6 726.7L868.7 727.1L869.8 727.3L870.9 726.8L872.0 726.9L873.1 727.0L874.2 726.7L875.3 726.8L876.4 727.0L877.5 726.9L878.6 727.1L879.7 726.9L880.9 726.4L882.0 726.4L883.1 726.1L884.2 726.1L885.3 726.7L886.4 727.2L887.5 727.1L888.6 726.9L889.7 726.7L890.8 726.8L891.9 727.3L893.0 727.4L894.2 727.2L895.3 727.5L896.4 727.4L897.5 727.3L898.6 727.3L899.7 727.6L900.8 727.9L901.9 727.9L903.0 727.9L904.1 727.9L905.2 727.5L906.4 727.2L907.5 727.2L908.6 727.4L909.7 726.9L910.8 726.5L911.9 726.6L913.0 727.1L914.1 726.3L915.2 725.6L916.3 725.9L917.4 726.2L918.5 726.6L919.7 727.0L920.8 727.0L921.9 726.6L923.0 726.5L924.1 726.8L925.2 727.2L926.3 727.5L927.4 727.7L928.5 727.4L929.6 727.4L930.7 727.4L931.9 727.7L933.0 727.7L934.1 727.2L935.2 727.4L936.3 727.8L937.4 727.7L938.5 727.2L939.6 726.9L940.7 727.1L941.8 727.5L942.9 728.0L944.0 728.0L945.2 727.7L946.3 727.4L947.4 727.4L948.5 727.5L949.6 727.6L950.7 727.5L951.8 726.9L952.9 726.6L954.0 726.6L955.1 726.2L956.2 726.3L957.3 726.3L958.5 725.8L959.6 725.9L960.7 725.6L961.8 725.6L962.9 726.1L964.0 726.2L965.1 726.5L966.2 726.7L967.3 726.7L968.4 726.3L969.5 726.0L970.7 726.0L971.8 726.0L972.9 726.5L974.0 726.9L975.1 727.0L976.2 727.3L977.3 727.1L978.4 727.3L979.5 727.6L980.6 727.2L981.7 726.8L982.8 726.8L984.0 726.8L985.1 727.0L986.2 727.2L987.3 726.9L988.4 727.2L989.5 727.5L990.6 727.2L991.7 726.3L992.8 725.8L993.9 726.0L995.0 726.1L996.1 726.2L997.3 726.5L998.4 726.5L999.5 725.9L1000.6 726.1L1001.7 727.1L1002.8 727.9L1003.9 727.1L1005.0 726.0L1006.1 725.8L1007.2 725.9L1008.3 726.4L1009.5 727.0L1010.6 727.5L1011.7 726.9L1012.8 726.5L1013.9 726.7L1015.0 726.8L1016.1 726.6L1017.2 726.0L1018.3 725.8L1019.4 726.1L1020.5 726.6L1021.6 727.3L1022.8 727.6L1023.9 727.6L1025.0 727.5L1026.1 727.8L1027.2 727.9L1028.3 728.0L1029.4 727.6L1030.5 727.3L1031.6 727.8L1032.7 728.1L1033.8 727.9L1034.9 727.5L1036.1 727.2L1037.2 727.1L1038.3 727.0L1039.4 726.9L1040.5 726.8L1041.6 726.1L1042.7 726.5L1043.8 727.2L1044.9 727.1L1046.0 727.0L1047.1 726.8L1048.3 726.6L1049.4 726.6L1050.5 726.5L1051.6 726.2L1052.7 726.4L1053.8 727.0L1054.9 727.0L1056.0 726.4L1057.1 726.0L1058.2 726.1L1059.3 727.2L1060.4 727.1L1061.6 726.8L1062.7 727.2L1063.8 727.3L1064.9 727.5L1066.0 727.8L1067.1 728.1L1068.2 728.3L1069.3 728.5L1070.4 728.3L1071.5 728.2L1072.6 728.1L1073.8 727.8L1074.9 727.8L1076.0 727.4L1077.1 727.2L1078.2 727.7L1079.3 728.5L1080.4 728.3L1081.5 727.9L1082.6 727.8L1083.7 727.9L1084.8 727.9L1085.9 728.3L1087.1 727.9L1088.2 727.3L1089.3 727.2L1090.4 727.2L1091.5 727.2L1092.6 727.5L1093.7 727.5L1094.8 727.3L1095.9 727.0L1097.0 727.4L1098.1 727.7L1099.2 727.5L1100.4 727.5L1101.5 727.7L1102.6 727.9L1103.7 728.2L1104.8 729.0L1105.9 731.9L1107.0 736.2L1108.1 740.4L1109.2 744.8L1110.3 749.7L1111.4 754.8L1112.6 759.7L1113.7 763.9L1114.8 767.4L1115.9 770.7L1117.0 773.8L1118.1 776.6L1119.2 779.2L1120.3 781.4L1121.4 783.2L1122.5 784.8L1123.6 786.2L1124.7 787.6L1125.9 788.7L1127.0 789.5L1128.1 790.0L1129.2 790.3L1130.3 790.6L1131.4 790.9L1132.5 791.1L1133.6 791.3L1134.7 791.5L1135.8 791.7L1136.9 791.8L1138.0 791.9L1139.2 792.0L1140.3 792.0L1141.4 792.1L1142.5 792.1L1143.6 792.1L1144.7 792.2L1145.8 792.2L1146.9 792.2L1148.0 792.3L1149.1 792.3L1150.2 792.3L1151.4 792.7L1152.5 792.6L1153.6 791.9L1154.7 791.5L1155.8 792.4L1156.9 792.7L1158.0 792.0L1159.1 792.2L1160.2 792.8L1161.3 792.8L1162.4 792.3L1163.5 792.7L1164.7 793.3L1165.8 793.4L1166.9 793.4L1168.0 793.6L1169.1 794.2L1170.2 793.8L1171.3 793.7L1172.4 793.9L1173.5 794.1L1174.6 794.3L1175.7 793.8L1176.9 793.7L1178.0 793.7L1179.1 793.8L1180.2 793.8L1181.3 793.9L1182.4 794.4L1183.5 794.1L1184.6 794.0L1185.7 793.9L1186.8 793.8L1187.9 793.9L1189.0 793.4L1190.2 792.7L1191.3 793.1L1192.4 793.4L1193.5 793.9L1194.6 794.4L1195.7 794.3L1196.8 793.6L1197.9 793.3L1199.0 793.5L1200.1 792.9L1201.2 792.1L1202.3 792.2L1203.5 792.3L1204.6 792.3L1205.7 792.3L1206.8 791.5L1207.9 791.3L1209.0 791.8L1210.1 792.3L1211.2 792.9L1212.3 793.3L1213.4 793.1L1214.5 792.5L1215.7 791.7L1216.8 791.5L1217.9 792.1L1219.0 792.7L1220.1 792.3L1221.2 791.9L1222.3 792.7L1223.4 792.8L1224.5 792.8L1225.6 793.0L1226.7 793.6L1227.8 793.6L1229.0 792.9L1230.1 793.0L1231.2 793.1L1232.3 793.1L1233.4 793.0L1234.5 792.1L1235.6 791.9L1236.7 791.9L1237.8 792.5L1238.9 792.8L1240.0 792.3L1241.1 792.1L1242.3 792.3L1243.4 792.4L1244.5 792.2L1245.6 791.7L1246.7 791.6L1247.8 792.1L1248.9 792.3L1250.0 792.4L1251.1 792.7L1252.2 792.9L1253.3 793.2L1254.5 793.6L1255.6 793.9L1256.7 793.1L1257.8 792.1L1258.9 792.2L1260.0 792.7L1261.1 793.8L1262.2 793.8L1263.3 793.5L1264.4 793.5L1265.5 793.5L1266.6 793.5L1267.8 793.3L1268.9 793.2L1270.0 793.1L1271.1 792.7L1272.2 792.4L1273.3 793.1L1274.4 793.8L1275.5 793.8L1276.6 793.4L1277.7 792.8L1278.8 792.8L1280.0 792.6L1281.1 792.5L1282.2 792.1L1283.3 791.9L1284.4 792.4L1285.5 792.2L1286.6 792.0L1287.7 792.5L1288.8 792.3L1289.9 792.2L1291.0 792.5L1292.1 791.8L1293.3 791.1L1294.4 791.4L1295.5 792.3L1296.6 792.4L1297.7 792.4L1298.8 792.6L1299.9 792.6L1301.0 792.4L1302.1 792.2L1303.2 792.5L1304.3 792.7L1305.4 792.0L1306.6 791.9L1307.7 792.5L1308.8 793.2L1309.9 793.1L1311.0 792.9L1312.1 793.2L1313.2 793.8L1314.3 794.0L1315.4 793.7L1316.5 793.4L1317.6 793.7L1318.8 794.1L1319.9 794.4L1321.0 794.2L1322.1 794.0L1323.2 794.3L1324.3 793.7L1325.4 791.9L1326.5 791.5L1327.6 792.2L1328.7 792.8L1329.8 792.5L1330.9 792.5L1332.1 792.6L1333.2 792.5L1334.3 792.6L1335.4 793.2L1336.5 792.9L1337.6 792.9L1338.7 793.2L1339.8 793.1L1340.9 792.6L1342.0 792.4L1343.1 792.5L1344.2 792.6L1345.4 792.4L1346.5 792.4L1347.6 793.3L1348.7 793.4L1349.8 792.9L1350.9 792.8L1352.0 792.8L1353.1 793.1L1354.2 792.6L1355.3 792.4L1356.4 793.8L1357.6 793.7L1358.7 793.2L1359.8 793.5L1360.9 793.9L1362.0 793.8L1363.1 793.8L1364.2 793.8L1365.3 793.9L1366.4 793.9L1367.5 793.8L1368.6 793.7L1369.7 793.4L1370.9 793.0L1372.0 792.7L1373.1 792.7L1374.2 792.5L1375.3 792.3L1376.4 792.4L1377.5 792.6L1378.6 792.6L1379.7 793.0L1380.8 793.0L1381.9 793.2L1383.1 793.8L1384.2 793.6L1385.3 792.9L1386.4 793.2L1387.5 793.6L1388.6 793.7L1389.7 794.0L1390.8 794.7L1391.9 794.8L1393.0 794.0L1394.1 793.5L1395.2 793.3L1396.4 793.5L1397.5 794.0L1398.6 793.7L1399.7 793.6L1400.8 793.9L1401.9 793.7L1403.0 793.0L1404.1 792.6L1405.2 792.8L1406.3 793.0L1407.4 793.1L1408.5 793.3L1409.7 793.5L1410.8 793.4L1411.9 793.1L1413.0 793.0L1414.1 793.2L1415.2 793.7L1416.3 793.8L1417.4 792.9L1418.5 792.9L1419.6 793.1L1420.7 793.4L1421.9 793.3L1423.0 793.6L1424.1 794.2L1425.2 793.7L1426.3 793.1L1427.4 793.7L1428.5 794.5L1429.6 794.7L1430.7 793.8L1431.8 793.7L1432.9 794.3L1434.0 794.2L1435.2 794.0L1436.3 794.3L1437.4 794.5L1438.5 793.8L1439.6 792.9L1440.7 792.7L1441.8 793.5L1442.9 794.0L1444.0 794.1L1445.1 793.8L1446.2 793.9L1447.3 794.2L1448.5 794.5L1449.6 794.2L1450.7 794.0L1451.8 793.3L1452.9 793.2L1454.0 793.4L1455.1 792.9L1456.2 793.0L1457.3 793.1L1458.4 793.1L1459.5 793.7L1460.7 793.5L1461.8 792.8L1462.9 792.9L1464.0 793.7L1465.1 794.3L1466.2 794.7L1467.3 794.6L1468.4 794.0L1469.5 793.9L1470.6 794.5L1471.7 794.8L1472.8 794.8L1474.0 794.2L1475.1 793.9L1476.2 793.9L1477.3 793.5L1478.4 793.0L1479.5 792.3L1480.6 791.7L1481.7 792.3L1482.8 793.6L1483.9 793.5L1485.0 793.4L1486.2 793.0L1487.3 793.3L1488.4 793.7L1489.5 793.3L1490.6 793.3L1491.7 793.2L1492.8 793.6L1493.9 793.3L1495.0 792.7L1496.1 793.1L1497.2 793.9L1498.3 794.1L1499.5 793.7L1500.6 793.3L1501.7 792.9L1502.8 792.5L1503.9 792.8L1505.0 793.0L1506.1 792.8L1507.2 792.6L1508.3 793.0L1509.4 793.5L1510.5 794.0L1511.6 793.9L1512.8 793.2L1513.9 793.2L1515.0 793.3L1516.0 793.5"/>
<path stroke="#203f82" d="M203.5 789.5L204.6 789.3L205.7 789.1L206.8 789.2L207.9 789.2L209.0 789.5L210.2 789.6L211.3 789.8L212.4 789.8L213.5 789.4L214.6 789.6L215.7 790.0L216.8 790.2L217.9 790.7L219.0 790.8L220.1 790.1L221.2 789.7L222.3 790.4L223.5 790.8L224.6 790.4L225.7 790.1L226.8 790.1L227.9 790.5L229.0 790.4L230.1 789.8L231.2 790.0L232.3 789.9L233.4 789.8L234.5 790.4L235.6 790.4L236.8 790.2L237.9 790.1L239.0 790.1L240.1 790.4L241.2 790.5L242.3 791.1L243.4 790.9L244.5 790.5L245.6 790.4L246.7 790.6L247.8 791.2L249.0 791.2L250.1 790.9L251.2 791.4L252.3 792.1L253.4 792.2L254.5 791.8L255.6 791.7L256.7 792.0L257.8 792.4L258.9 792.5L260.0 792.4L261.1 792.1L262.3 791.8L263.4 791.8L264.5 792.3L265.6 792.4L266.7 792.9L267.8 793.3L268.9 792.7L270.0 792.7L271.1 792.5L272.2 792.4L273.3 792.6L274.5 792.9L275.6 793.3L276.7 793.6L277.8 793.8L278.9 793.5L280.0 793.4L281.1 793.1L282.2 792.7L283.3 792.7L284.4 792.7L285.5 793.4L286.6 793.5L287.8 792.8L288.9 792.5L290.0 793.0L291.1 793.3L292.2 793.3L293.3 793.1L294.4 793.4L295.5 793.9L296.6 794.2L297.7 793.8L298.8 793.8L299.9 793.8L301.1 794.2L302.2 794.4L303.3 793.6L304.4 793.4L305.5 793.9L306.6 794.4L307.7 794.8L308.8 794.6L309.9 795.0L311.0 794.8L312.1 794.6L313.3 794.0L314.4 793.6L315.5 794.0L316.6 794.3L317.7 793.8L318.8 793.7L319.9 793.6L321.0 793.0L322.1 793.5L323.2 793.9L324.3 793.8L325.4 794.2L326.6 794.7L327.7 794.6L328.8 794.4L329.9 794.6L331.0 794.9L332.1 795.6L333.2 796.0L334.3 796.0L335.4 795.9L336.5 795.3L337.6 794.7L338.7 794.8L339.9 795.4L341.0 795.8L342.1 795.8L343.2 795.9L344.3 795.6L345.4 795.4L346.5 795.0L347.6 795.4L348.7 795.7L349.8 795.9L350.9 795.8L352.1 795.8L353.2 796.2L354.3 796.6L355.4 796.8L356.5 797.0L357.6 796.5L358.7 796.2L359.8 796.2L360.9 796.6L362.0 797.2L363.1 797.4L364.2 796.8L365.4 796.2L366.5 796.5L367.6 797.0L368.7 797.3L369.8 797.6L370.9 797.5L372.0 796.8L373.1 796.2L374.2 796.2L375.3 797.0L376.4 797.6L377.6 797.6L378.7 797.5L379.8 797.0L380.9 797.0L382.0 797.1L383.1 797.1L384.2 797.3L385.3 797.6L386.4 797.7L387.5 797.8L388.6 797.8L389.7 797.5L390.9 797.1L392.0 797.1L393.1 797.5L394.2 797.8L395.3 797.6L396.4 797.3L397.5 797.5L398.6 797.9L399.7 797.8L400.8 797.5L401.9 797.4L403.0 797.9L404.2 798.5L405.3 798.6L406.4 799.3L407.5 799.7L408.6 799.5L409.7 799.7L410.8 799.7L411.9 799.0L413.0 799.3L414.1 799.9L415.2 799.4L416.4 799.1L417.5 798.9L418.6 798.4L419.7 798.2L420.8 798.7L421.9 799.3L423.0 798.7L424.1 798.0L425.2 798.4L426.3 798.4L427.4 798.3L428.5 798.3L429.7 798.3L430.8 798.4L431.9 798.3L433.0 798.3L434.1 798.2L435.2 798.1L436.3 798.0L437.4 797.9L438.5 797.7L439.6 797.6L440.7 797.3L441.8 796.7L443.0 795.8L444.1 794.8L445.2 793.8L446.3 792.7L447.4 791.7L448.5 790.5L449.6 789.3L450.7 788.1L451.8 786.8L452.9 785.6L454.0 784.3L455.2 783.0L456.3 781.6L457.4 780.2L458.5 778.7L459.6 777.3L460.7 775.9L461.8 774.6L462.9 773.3L464.0 772.1L465.1 771.0L466.2 770.0L467.3 769.1L468.5 768.2L469.6 767.3L470.7 766.5L471.8 765.7L472.9 765.0L474.0 764.3L475.1 763.6L476.2 763.0L477.3 762.4L478.4 761.8L479.5 761.2L480.6 760.7L481.8 760.2L482.9 759.9L484.0 760.0L485.1 759.4L486.2 759.2L487.3 758.9L488.4 758.4L489.5 757.5L490.6 757.4L491.7 756.8L492.8 755.8L494.0 755.3L495.1 755.0L496.2 754.6L497.3 754.2L498.4 753.4L499.5 752.8L500.6 753.1L501.7 753.1L502.8 753.1L503.9 752.9L505.0 752.7L506.1 752.3L507.3 751.9L508.4 751.6L509.5 751.6L510.6 751.8L511.7 751.5L512.8 751.0L513.9 751.0L515.0 750.9L516.1 750.4L517.2 750.2L518.3 750.2L519.5 749.7L520.6 749.6L521.7 749.3L522.8 748.8L523.9 748.8L525.0 748.9L526.1 749.0L527.2 748.9L528.3 749.0L529.4 749.4L530.5 749.2L531.6 748.8L532.8 748.6L533.9 748.1L535.0 748.2L536.1 749.1L537.2 749.2L538.3 748.5L539.4 748.4L540.5 748.5L541.6 748.4L542.7 748.1L543.8 747.8L544.9 747.9L546.1 747.8L547.2 747.9L548.3 747.4L549.4 747.1L550.5 747.5L551.6 747.8L552.7 747.8L553.8 747.7L554.9 747.7L556.0 747.0L557.1 746.3L558.3 745.9L559.4 746.2L560.5 746.6L561.6 746.3L562.7 745.9L563.8 746.0L564.9 746.2L566.0 745.9L567.1 746.0L568.2 746.9L569.3 746.9L570.4 746.2L571.6 745.7L572.7 745.9L573.8 746.0L574.9 745.4L576.0 745.3L577.1 745.1L578.2 744.7L579.3 744.9L580.4 745.2L581.5 745.3L582.6 745.0L583.7 744.4L584.9 744.9L586.0 745.3L587.1 745.7L588.2 745.4L589.3 744.7L590.4 744.6L591.5 744.6L592.6 744.4L593.7 744.4L594.8 744.5L595.9 744.4L597.1 744.1L598.2 743.8L599.3 744.0L600.4 743.9L601.5 743.4L602.6 743.2L603.7 742.6L604.8 742.5L605.9 742.9L607.0 743.1L608.1 742.7L609.2 742.3L610.4 742.4L611.5 742.4L612.6 742.3L613.7 742.2L614.8 742.7L615.9 743.0L617.0 743.0L618.1 742.7L619.2 742.0L620.3 742.1L621.4 743.0L622.6 743.2L623.7 742.9L624.8 742.2L625.9 741.9L627.0 741.3L628.1 741.3L629.2 741.5L630.3 741.7L631.4 741.5L632.5 741.6L633.6 741.8L634.7 741.6L635.9 741.5L637.0 741.5L638.1 741.3L639.2 741.5L640.3 741.3L641.4 741.2L642.5 741.7L643.6 742.1L644.7 742.0L645.8 741.7L646.9 741.6L648.0 741.9L649.2 742.1L650.3 741.8L651.4 741.8L652.5 741.8L653.6 741.5L654.7 741.1L655.8 741.1L656.9 741.4L658.0 741.2L659.1 740.7L660.2 740.8L661.4 740.6L662.5 740.8L663.6 741.0L664.7 741.0L665.8 741.1L666.9 740.3L668.0 740.3L669.1 741.0L670.2 741.2L671.3 740.4L672.4 739.8L673.5 739.5L674.7 739.9L675.8 739.4L676.9 738.7L678.0 738.7L679.1 739.1L680.2 739.1L681.3 739.1L682.4 738.8L683.5 738.8L684.6 739.5L685.7 740.0L686.8 739.9L688.0 739.8L689.1 739.5L690.2 739.4L691.3 739.6L692.4 739.6L693.5 739.1L694.6 738.9L695.7 739.1L696.8 739.0L697.9 739.2L699.0 739.8L700.2 739.6L701.3 739.1L702.4 738.4L703.5 738.3L704.6 738.6L705.7 738.8L706.8 738.8L707.9 738.5L709.0 739.3L710.1 739.9L711.2 739.2L712.3 738.0L713.5 737.3L714.6 737.8L715.7 738.5L716.8 738.6L717.9 738.5L719.0 738.6L720.1 738.4L721.2 738.5L722.3 738.8L723.4 739.2L724.5 739.2L725.7 738.9L726.8 739.1L727.9 739.1L729.0 739.1L730.1 739.0L731.2 738.6L732.3 738.3L733.4 738.2L734.5 738.3L735.6 738.7L736.7 738.5L737.8 738.3L739.0 738.2L740.1 737.9L741.2 738.3L742.3 738.4L743.4 738.5L744.5 738.7L745.6 739.0L746.7 739.1L747.8 739.0L748.9 739.1L750.0 739.5L751.1 739.5L752.3 739.2L753.4 739.2L754.5 739.0L755.6 738.2L756.7 737.9L757.8 737.6L758.9 737.6L760.0 737.5L761.1 737.8L762.2 737.6L763.3 737.5L764.5 737.8L765.6 737.3L766.7 736.4L767.8 736.9L768.9 737.6L770.0 737.1L771.1 736.9L772.2 738.1L773.3 739.0L774.4 738.9L775.5 738.6L776.6 738.2L777.8 737.7L778.9 737.5L780.0 738.1L781.1 738.0L782.2 737.4L783.3 737.1L784.4 737.4L785.5 737.3L786.6 737.5L787.7 737.8L788.8 737.8L789.9 737.7L791.1 737.9L792.2 737.8L793.3 738.2L794.4 738.4L795.5 738.2L796.6 738.0L797.7 738.1L798.8 738.0L799.9 737.9L801.0 737.7L802.1 737.4L803.3 737.2L804.4 736.9L805.5 737.0L806.6 736.8L807.7 736.5L808.8 736.2L809.9 735.6L811.0 735.7L812.1 735.9L813.2 736.1L814.3 736.7L815.4 736.9L816.6 736.9L817.7 736.8L818.8 736.5L819.9 736.6L821.0 736.8L822.1 736.7L823.2 736.7L824.3 737.4L825.4 737.1L826.5 736.4L827.6 736.8L828.8 736.9L829.9 736.4L831.0 736.5L832.1 736.9L833.2 736.5L834.3 735.9L835.4 735.8L836.5 735.7L837.6 735.5L838.7 735.9L839.8 736.4L840.9 736.6L842.1 736.6L843.2 736.8L844.3 736.8L845.4 737.2L846.5 737.5L847.6 737.8L848.7 737.9L849.8 737.7L850.9 737.5L852.0 738.0L853.1 738.0L854.2 737.4L855.4 737.3L856.5 737.9L857.6 738.5L858.7 737.6L859.8 737.4L860.9 737.3L862.0 737.4L863.1 737.3L864.2 737.8L865.3 738.1L866.4 737.7L867.6 737.7L868.7 737.5L869.8 737.3L870.9 737.5L872.0 737.5L873.1 737.5L874.2 737.9L875.3 738.0L876.4 737.8L877.5 737.7L878.6 737.0L879.7 737.3L880.9 737.8L882.0 737.8L883.1 738.1L884.2 738.6L885.3 738.6L886.4 738.6L887.5 738.4L888.6 737.9L889.7 737.9L890.8 738.1L891.9 738.1L893.0 737.9L894.2 737.7L895.3 737.8L896.4 738.4L897.5 738.7L898.6 738.1L899.7 738.0L900.8 738.6L901.9 739.0L903.0 739.1L904.1 738.7L905.2 738.5L906.4 738.2L907.5 738.1L908.6 738.5L909.7 739.0L910.8 739.0L911.9 738.9L913.0 738.5L914.1 738.5L915.2 738.2L916.3 738.3L917.4 738.6L918.5 738.8L919.7 738.9L920.8 738.7L921.9 738.7L923.0 738.8L924.1 739.1L925.2 740.2L926.3 740.7L927.4 740.3L928.5 739.9L929.6 739.7L930.7 740.0L931.9 740.4L933.0 740.7L934.1 740.4L935.2 739.8L936.3 740.0L937.4 739.8L938.5 739.7L939.6 740.4L940.7 740.7L941.8 740.8L942.9 741.1L944.0 741.0L945.2 741.1L946.3 741.9L947.4 742.6L948.5 742.2L949.6 741.7L950.7 741.9L951.8 741.9L952.9 741.3L954.0 741.4L955.1 741.3L956.2 740.9L957.3 741.1L958.5 741.2L959.6 740.9L960.7 740.5L961.8 740.4L962.9 740.9L964.0 741.6L965.1 741.6L966.2 741.4L967.3 741.6L968.4 741.2L969.5 741.4L970.7 741.7L971.8 741.7L972.9 741.1L974.0 740.7L975.1 741.0L976.2 741.3L977.3 741.3L978.4 741.6L979.5 741.3L980.6 741.1L981.7 741.1L982.8 741.6L984.0 741.3L985.1 740.5L986.2 740.7L987.3 741.5L988.4 741.5L989.5 741.4L990.6 741.6L991.7 741.6L992.8 741.3L993.9 741.5L995.0 742.0L996.1 741.5L997.3 741.4L998.4 741.7L999.5 742.0L1000.6 741.6L1001.7 741.1L1002.8 741.3L1003.9 741.3L1005.0 740.4L1006.1 740.2L1007.2 740.9L1008.3 741.3L1009.5 741.8L1010.6 742.3L1011.7 742.0L1012.8 742.3L1013.9 742.2L1015.0 742.6L1016.1 743.0L1017.2 742.6L1018.3 742.4L1019.4 742.4L1020.5 742.6L1021.6 742.5L1022.8 742.5L1023.9 742.3L1025.0 742.2L1026.1 742.6L1027.2 743.0L1028.3 743.0L1029.4 742.7L1030.5 742.1L1031.6 741.7L1032.7 742.1L1033.8 742.3L1034.9 742.7L1036.1 742.9L1037.2 742.6L1038.3 742.4L1039.4 742.8L1040.5 742.9L1041.6 742.6L1042.7 742.6L1043.8 742.6L1044.9 742.9L1046.0 743.4L1047.1 743.9L1048.3 744.5L1049.4 745.2L1050.5 745.2L1051.6 745.2L1052.7 745.2L1053.8 745.1L1054.9 745.1L1056.0 744.9L1057.1 744.6L1058.2 744.2L1059.3 744.1L1060.4 743.9L1061.6 743.7L1062.7 743.5L1063.8 743.0L1064.9 743.0L1066.0 743.2L1067.1 743.7L1068.2 743.7L1069.3 743.2L1070.4 742.8L1071.5 743.0L1072.6 743.0L1073.8 743.0L1074.9 742.6L1076.0 742.5L1077.1 743.1L1078.2 743.6L1079.3 744.1L1080.4 744.2L1081.5 744.5L1082.6 744.1L1083.7 743.6L1084.8 743.4L1085.9 743.6L1087.1 744.1L1088.2 744.4L1089.3 744.2L1090.4 744.0L1091.5 744.1L1092.6 744.1L1093.7 744.2L1094.8 743.9L1095.9 743.1L1097.0 743.2L1098.1 743.3L1099.2 743.1L1100.4 743.3L1101.5 743.6L1102.6 744.1L1103.7 745.4L1104.8 749.5L1105.9 754.6L1107.0 760.3L1108.1 767.3L1109.2 773.8L1110.3 778.2L1111.4 780.4L1112.6 782.3L1113.7 783.9L1114.8 785.0L1115.9 785.8L1117.0 786.1L1118.1 786.3L1119.2 786.6L1120.3 786.7L1121.4 786.9L1122.5 787.1L1123.6 787.2L1124.7 787.3L1125.9 787.4L1127.0 787.4L1128.1 787.5L1129.2 787.5L1130.3 787.5L1131.4 787.5L1132.5 787.5L1133.6 787.5L1134.7 787.5L1135.8 787.5L1136.9 787.5L1138.0 787.5L1139.2 787.5L1140.3 787.5L1141.4 787.5L1142.5 787.5L1143.6 787.5L1144.7 787.5L1145.8 787.5L1146.9 787.5L1148.0 787.5L1149.1 787.5L1150.2 787.5L1151.4 787.2L1152.5 787.0L1153.6 787.1L1154.7 787.4L1155.8 787.1L1156.9 786.5L1158.0 785.7L1159.1 785.7L1160.2 787.0L1161.3 787.6L1162.4 786.9L1163.5 787.2L1164.7 787.2L1165.8 786.4L1166.9 786.3L1168.0 786.2L1169.1 786.7L1170.2 787.7L1171.3 787.7L1172.4 786.8L1173.5 786.6L1174.6 787.5L1175.7 788.1L1176.9 788.6L1178.0 788.3L1179.1 787.8L1180.2 787.9L1181.3 788.3L1182.4 788.0L1183.5 787.7L1184.6 787.7L1185.7 788.3L1186.8 788.0L1187.9 787.7L1189.0 787.8L1190.2 787.1L1191.3 786.5L1192.4 786.6L1193.5 787.0L1194.6 787.5L1195.7 787.4L1196.8 787.3L1197.9 787.3L1199.0 787.2L1200.1 786.7L1201.2 787.0L1202.3 786.6L1203.5 786.2L1204.6 786.6L1205.7 787.4L1206.8 787.6L1207.9 787.8L1209.0 787.4L1210.1 787.6L1211.2 788.1L1212.3 788.0L1213.4 787.9L1214.5 787.6L1215.7 787.6L1216.8 787.9L1217.9 788.4L1219.0 788.1L1220.1 787.7L1221.2 787.7L1222.3 788.0L1223.4 788.3L1224.5 788.1L1225.6 787.7L1226.7 788.0L1227.8 788.3L1229.0 788.5L1230.1 788.3L1231.2 788.0L1232.3 788.3L1233.4 788.1L1234.5 788.3L1235.6 788.6L1236.7 788.9L1237.8 789.4L1238.9 789.7L1240.0 789.1L1241.1 788.1L1242.3 788.2L1243.4 788.5L1244.5 789.0L1245.6 788.7L1246.7 788.1L1247.8 787.2L1248.9 786.8L1250.0 787.1L1251.1 787.9L1252.2 788.2L1253.3 788.2L1254.5 788.3L1255.6 788.7L1256.7 788.8L1257.8 788.3L1258.9 787.9L1260.0 787.8L1261.1 787.8L1262.2 787.8L1263.3 787.4L1264.4 787.9L1265.5 788.7L1266.6 788.3L1267.8 787.4L1268.9 787.4L1270.0 788.2L1271.1 788.7L1272.2 789.0L1273.3 788.5L1274.4 788.5L1275.5 788.8L1276.6 789.0L1277.7 789.0L1278.8 788.9L1280.0 789.3L1281.1 789.8L1282.2 789.5L1283.3 789.6L1284.4 789.6L1285.5 789.2L1286.6 788.9L1287.7 788.9L1288.8 788.5L1289.9 787.5L1291.0 787.2L1292.1 787.2L1293.3 786.9L1294.4 787.5L1295.5 787.7L1296.6 787.1L1297.7 786.6L1298.8 786.8L1299.9 787.3L1301.0 788.1L1302.1 788.2L1303.2 787.8L1304.3 787.9L1305.4 788.4L1306.6 788.3L1307.7 788.7L1308.8 789.4L1309.9 788.7L1311.0 788.8L1312.1 789.0L1313.2 788.9L1314.3 788.6L1315.4 787.8L1316.5 787.8L1317.6 787.7L1318.8 788.0L1319.9 788.3L1321.0 787.6L1322.1 787.0L1323.2 786.7L1324.3 786.9L1325.4 787.6L1326.5 787.6L1327.6 787.4L1328.7 787.2L1329.8 786.9L1330.9 787.3L1332.1 787.1L1333.2 786.5L1334.3 786.9L1335.4 787.0L1336.5 787.4L1337.6 788.2L1338.7 788.1L1339.8 787.6L1340.9 787.3L1342.0 787.6L1343.1 788.5L1344.2 789.0L1345.4 788.7L1346.5 788.1L1347.6 788.0L1348.7 788.1L1349.8 788.2L1350.9 788.8L1352.0 788.9L1353.1 788.8L1354.2 788.9L1355.3 788.7L1356.4 788.4L1357.6 788.3L1358.7 788.6L1359.8 788.8L1360.9 788.2L1362.0 787.4L1363.1 787.3L1364.2 788.7L1365.3 789.1L1366.4 788.1L1367.5 787.5L1368.6 787.9L1369.7 787.9L1370.9 787.6L1372.0 787.7L1373.1 787.8L1374.2 788.4L1375.3 788.6L1376.4 788.5L1377.5 788.3L1378.6 788.3L1379.7 788.3L1380.8 788.0L1381.9 787.6L1383.1 787.9L1384.2 789.4L1385.3 789.7L1386.4 788.8L1387.5 788.3L1388.6 788.4L1389.7 788.2L1390.8 788.4L1391.9 787.5L1393.0 787.1L1394.1 787.7L1395.2 787.7L1396.4 788.3L1397.5 788.9L1398.6 788.4L1399.7 787.9L1400.8 787.9L1401.9 788.0L1403.0 788.3L1404.1 787.9L1405.2 787.6L1406.3 788.0L1407.4 788.2L1408.5 788.5L1409.7 788.9L1410.8 788.4L1411.0 788.3"/>
<path stroke="#8099d6" d="M203.5 790.5L204.6 790.7L205.7 791.1L206.8 791.1L207.9 790.9L209.0 790.8L210.2 790.7L211.3 790.1L212.4 790.2L213.5 790.3L214.6 790.5L215.7 790.3L216.8 790.4L217.9 790.5L219.0 790.3L220.1 790.5L221.2 790.7L222.3 790.5L223.5 790.4L224.6 790.8L225.7 791.1L226.8 790.9L227.9 790.7L229.0 790.2L230.1 790.3L231.2 790.8L232.3 791.1L233.4 790.9L234.5 790.7L235.6 790.3L236.8 790.4L237.9 790.8L239.0 790.8L240.1 790.5L241.2 790.5L242.3 791.2L243.4 791.3L244.5 790.9L245.6 790.6L246.7 790.4L247.8 790.6L249.0 790.6L250.1 790.2L251.2 789.8L252.3 789.8L253.4 790.0L254.5 790.5L255.6 790.6L256.7 791.0L257.8 790.8L258.9 790.6L260.0 791.0L261.1 791.1L262.3 790.6L263.4 790.2L264.5 790.6L265.6 790.9L266.7 790.7L267.8 790.3L268.9 789.9L270.0 789.8L271.1 789.8L272.2 790.3L273.3 791.0L274.5 791.1L275.6 790.6L276.7 790.5L277.8 790.8L278.9 790.8L280.0 790.8L281.1 790.5L282.2 790.5L283.3 790.7L284.4 790.6L285.5 790.6L286.6 790.6L287.8 790.7L288.9 790.8L290.0 790.9L291.1 791.1L292.2 791.5L293.3 791.4L294.4 791.3L295.5 791.6L296.6 791.9L297.7 791.5L298.8 791.1L299.9 791.1L301.1 791.3L302.2 791.3L303.3 791.3L304.4 791.6L305.5 791.9L306.6 791.8L307.7 791.5L308.8 791.3L309.9 791.5L311.0 791.6L312.1 791.6L313.3 791.4L314.4 791.3L315.5 791.5L316.6 791.3L317.7 791.1L318.8 791.4L319.9 791.5L321.0 791.5L322.1 791.6L323.2 791.6L324.3 791.3L325.4 791.1L326.6 791.1L327.7 791.1L328.8 791.3L329.9 791.8L331.0 791.9L332.1 791.2L333.2 791.1L334.3 790.9L335.4 790.9L336.5 791.1L337.6 791.0L338.7 790.7L339.9 790.8L341.0 790.6L342.1 790.3L343.2 790.4L344.3 790.2L345.4 789.9L346.5 789.9L347.6 790.2L348.7 790.5L349.8 791.0L350.9 790.8L352.1 790.7L353.2 791.0L354.3 790.9L355.4 790.8L356.5 790.9L357.6 791.1L358.7 791.3L359.8 791.6L360.9 791.3L362.0 791.2L363.1 791.5L364.2 791.6L365.4 791.0L366.5 790.8L367.6 791.1L368.7 790.9L369.8 790.7L370.9 790.9L372.0 791.2L373.1 790.8L374.2 790.4L375.3 791.0L376.4 791.3L377.6 791.1L378.7 790.8L379.8 790.7L380.9 790.5L382.0 791.0L383.1 790.8L384.2 790.6L385.3 791.0L386.4 791.2L387.5 790.7L388.6 790.6L389.7 790.5L390.9 790.7L392.0 791.2L393.1 791.5L394.2 791.1L395.3 790.8L396.4 790.9L397.5 791.0L398.6 790.9L399.7 790.8L400.8 790.6L401.9 790.8L403.0 791.3L404.2 791.7L405.3 791.4L406.4 791.4L407.5 791.1L408.6 790.9L409.7 791.1L410.8 791.1L411.9 790.7L413.0 790.5L414.1 790.8L415.2 790.9L416.4 790.8L417.5 790.8L418.6 790.7L419.7 790.7L420.8 791.2L421.9 791.6L423.0 791.4L424.1 790.9L425.2 790.8L426.3 790.6L427.4 790.3L428.5 790.2L429.7 790.4L430.8 790.9L431.9 790.9L433.0 791.0L434.1 791.0L435.2 791.0L436.3 791.0L437.4 791.0L438.5 790.9L439.6 790.5L440.7 789.8L441.8 788.9L443.0 788.0L444.1 787.0L445.2 785.8L446.3 784.5L447.4 783.1L448.5 781.7L449.6 780.4L450.7 779.3L451.8 778.1L452.9 777.0L454.0 775.8L455.2 774.7L456.3 773.6L457.4 772.5L458.5 771.4L459.6 770.4L460.7 769.4L461.8 768.4L462.9 767.5L464.0 766.7L465.1 765.9L466.2 765.1L467.3 764.4L468.5 763.7L469.6 763.1L470.7 762.4L471.8 761.8L472.9 761.2L474.0 760.7L475.1 760.2L476.2 759.7L477.3 759.3L478.4 758.8L479.5 758.4L480.6 758.0L481.8 757.6L482.9 757.2L484.0 756.8L485.1 756.5L486.2 756.2L487.3 755.9L488.4 755.7L489.5 755.5L490.6 755.4L491.7 755.2L492.8 755.1L494.0 754.3L495.1 753.8L496.2 754.1L497.3 754.7L498.4 755.2L499.5 754.9L500.6 754.4L501.7 754.4L502.8 754.6L503.9 754.8L505.0 754.9L506.1 754.6L507.3 754.3L508.4 754.2L509.5 754.9L510.6 755.1L511.7 754.5L512.8 754.3L513.9 754.3L515.0 754.2L516.1 754.5L517.2 754.5L518.3 754.3L519.5 754.5L520.6 755.2L521.7 755.3L522.8 754.8L523.9 754.3L525.0 754.0L526.1 754.5L527.2 754.7L528.3 754.1L529.4 753.4L530.5 753.6L531.6 754.1L532.8 754.5L533.9 754.5L535.0 754.0L536.1 753.7L537.2 753.7L538.3 753.8L539.4 753.6L540.5 754.1L541.6 754.8L542.7 754.7L543.8 754.6L544.9 754.2L546.1 753.5L547.2 753.4L548.3 753.6L549.4 753.8L550.5 753.7L551.6 754.0L552.7 754.2L553.8 753.9L554.9 753.8L556.0 754.3L557.1 754.4L558.3 753.8L559.4 753.5L560.5 754.0L561.6 754.0L562.7 754.0L563.8 754.4L564.9 754.8L566.0 754.6L567.1 754.6L568.2 754.9L569.3 754.9L570.4 754.5L571.6 753.9L572.7 753.6L573.8 754.0L574.9 754.3L576.0 754.6L577.1 754.0L578.2 753.5L579.3 753.6L580.4 753.6L581.5 754.0L582.6 753.5L583.7 753.3L584.9 753.6L586.0 754.5L587.1 754.7L588.2 754.7L589.3 754.6L590.4 754.6L591.5 755.0L592.6 755.1L593.7 754.7L594.8 754.6L595.9 754.6L597.1 754.3L598.2 754.2L599.3 754.5L600.4 754.9L601.5 754.6L602.6 754.1L603.7 753.5L604.8 753.6L605.9 753.9L607.0 754.1L608.1 753.8L609.2 753.8L610.4 753.9L611.5 753.6L612.6 753.9L613.7 754.8L614.8 755.1L615.9 754.8L617.0 754.4L618.1 754.4L619.2 754.5L620.3 754.3L621.4 754.5L622.6 754.8L623.7 754.4L624.8 754.0L625.9 754.4L627.0 754.7L628.1 754.8L629.2 755.6L630.3 756.1L631.4 755.6L632.5 755.1L633.6 755.0L634.7 755.4L635.9 755.4L637.0 755.5L638.1 755.3L639.2 754.7L640.3 754.8L641.4 755.1L642.5 755.4L643.6 755.3L644.7 755.4L645.8 755.8L646.9 755.7L648.0 755.9L649.2 755.4L650.3 755.3L651.4 755.4L652.5 755.2L653.6 755.4L654.7 755.9L655.8 755.9L656.9 755.3L658.0 754.8L659.1 755.1L660.2 755.4L661.4 754.7L662.5 754.2L663.6 754.9L664.7 755.4L665.8 755.5L666.9 755.6L668.0 754.9L669.1 754.6L670.2 755.0L671.3 755.2L672.4 754.8L673.5 754.2L674.7 754.4L675.8 754.5L676.9 754.3L678.0 754.4L679.1 754.2L680.2 753.8L681.3 754.2L682.4 755.3L683.5 755.7L684.6 755.4L685.7 755.1L686.8 754.8L688.0 754.4L689.1 754.4L690.2 754.9L691.3 754.6L692.4 754.3L693.5 754.3L694.6 754.7L695.7 754.9L696.8 754.3L697.9 754.0L699.0 753.7L700.2 753.9L701.3 754.3L702.4 754.2L703.5 754.6L704.6 755.2L705.7 755.4L706.8 755.5L707.9 755.7L709.0 755.5L710.1 755.3L711.2 755.1L712.3 754.8L713.5 755.0L714.6 754.7L715.7 754.3L716.8 753.9L717.9 754.1L719.0 754.7L720.1 754.5L721.2 753.9L722.3 754.4L723.4 755.2L724.5 755.7L725.7 755.7L726.8 755.2L727.9 755.0L729.0 755.1L730.1 754.7L731.2 755.5L732.3 756.1L733.4 756.5L734.5 756.5L735.6 756.9L736.7 756.6L737.8 755.8L739.0 755.8L740.1 756.0L741.2 756.5L742.3 756.7L743.4 755.9L744.5 755.6L745.6 755.8L746.7 755.8L747.8 755.5L748.9 755.4L750.0 755.2L751.1 754.3L752.3 754.3L753.4 754.6L754.5 754.9L755.6 755.1L756.7 755.1L757.8 754.8L758.9 755.3L760.0 755.9L761.1 755.3L762.2 755.2L763.3 755.4L764.5 755.1L765.6 754.7L766.7 754.5L767.8 754.6L768.9 754.8L770.0 755.0L771.1 755.6L772.2 755.1L773.3 754.2L774.4 754.5L775.5 754.9L776.6 755.0L777.8 755.0L778.9 755.2L780.0 755.3L781.1 754.9L782.2 754.9L783.3 754.8L784.4 755.0L785.5 755.6L786.6 755.6L787.7 755.4L788.8 755.4L789.9 755.3L791.1 754.9L792.2 754.8L793.3 755.2L794.4 755.3L795.5 755.3L796.6 755.7L797.7 756.0L798.8 755.8L799.9 755.4L801.0 755.1L802.1 755.2L803.3 755.8L804.4 755.3L805.5 755.1L806.6 755.0L807.7 755.1L808.8 754.4L809.9 754.0L811.0 754.3L812.1 754.9L813.2 755.0L814.3 755.0L815.4 755.1L816.6 755.0L817.7 754.8L818.8 754.8L819.9 754.8L821.0 754.8L822.1 755.3L823.2 755.4L824.3 755.4L825.4 755.2L826.5 754.8L827.6 754.7L828.8 754.9L829.9 755.1L831.0 755.5L832.1 755.3L833.2 754.8L834.3 755.3L835.4 755.8L836.5 755.6L837.6 754.6L838.7 754.9L839.8 755.4L840.9 755.3L842.1 755.2L843.2 755.3L844.3 754.9L845.4 754.7L846.5 755.3L847.6 755.9L848.7 756.1L849.8 755.7L850.9 756.0L852.0 755.6L853.1 755.4L854.2 755.3L855.4 755.3L856.5 755.1L857.6 754.9L858.7 754.9L859.8 755.0L860.9 755.2L862.0 755.1L863.1 755.3L864.2 755.4L865.3 755.5L866.4 755.7L867.6 755.7L868.7 755.5L869.8 754.9L870.9 754.4L872.0 754.5L873.1 755.1L874.2 754.9L875.3 754.0L876.4 754.0L877.5 753.9L878.6 753.9L879.7 754.4L880.9 754.9L882.0 755.1L883.1 755.2L884.2 755.2L885.3 755.1L886.4 755.4L887.5 756.0L888.6 756.5L889.7 756.2L890.8 755.6L891.9 755.8L893.0 755.8L894.2 755.9L895.3 755.2L896.4 754.8L897.5 754.8L898.6 754.6L899.7 753.8L900.8 754.0L901.9 754.5L903.0 754.2L904.1 754.1L905.2 754.2L906.4 754.2L907.5 754.6L908.6 755.3L909.7 755.2L910.8 755.2L911.9 755.2L913.0 754.9L914.1 755.1L915.2 755.4L916.3 755.2L917.4 754.8L918.5 755.0L919.7 755.1L920.8 755.2L921.9 755.2L923.0 755.1L924.1 754.9L925.2 754.6L926.3 754.4L927.4 754.5L928.5 754.1L929.6 754.1L930.7 754.2L931.9 754.4L933.0 755.1L934.1 755.2L935.2 754.9L936.3 754.6L937.4 754.6L938.5 754.7L939.6 754.6L940.7 754.2L941.8 754.1L942.9 754.5L944.0 754.5L945.2 754.7L946.3 754.5L947.4 754.4L948.5 754.1L949.6 753.4L950.7 753.5L951.8 753.9L952.9 753.9L954.0 753.9L955.1 754.1L956.2 754.2L957.3 754.0L958.5 754.3L959.6 755.6L960.7 756.0L961.8 755.7L962.9 755.4L964.0 755.3L965.1 755.6L966.2 755.6L967.3 755.0L968.4 755.1L969.5 755.2L970.7 755.1L971.8 755.2L972.9 754.9L974.0 754.8L975.1 754.9L976.2 754.4L977.3 754.2L978.4 754.7L979.5 755.2L980.6 754.8L981.7 754.4L982.8 754.6L984.0 754.4L985.1 754.1L986.2 754.0L987.3 754.7L988.4 754.8L989.5 754.3L990.6 753.7L991.7 752.8L992.8 752.5L993.9 752.9L995.0 753.2L996.1 753.3L997.3 753.5L998.4 753.7L999.5 753.9L1000.6 754.1L1001.7 754.3L1002.8 754.8L1003.9 755.3L1005.0 754.7L1006.1 755.1L1007.2 755.4L1008.3 754.9L1009.5 754.4L1010.6 754.6L1011.7 755.2L1012.8 755.0L1013.9 754.8L1015.0 754.7L1016.1 754.4L1017.2 754.7L1018.3 755.0L1019.4 754.8L1020.5 754.4L1021.6 754.4L1022.8 754.5L1023.9 754.0L1025.0 754.0L1026.1 754.1L1027.2 754.4L1028.3 754.6L1029.4 754.7L1030.5 754.5L1031.6 754.5L1032.7 754.5L1033.8 754.7L1034.9 755.2L1036.1 755.0L1037.2 754.2L1038.3 754.0L1039.4 753.9L1040.5 754.1L1041.6 754.5L1042.7 754.9L1043.8 755.0L1044.9 754.5L1046.0 754.5L1047.1 754.8L1048.3 754.6L1049.4 754.4L1050.5 754.5L1051.6 754.7L1052.7 754.7L1053.8 755.1L1054.9 755.2L1056.0 754.8L1057.1 754.4L1058.2 754.4L1059.3 754.2L1060.4 754.1L1061.6 754.6L1062.7 755.2L1063.8 755.1L1064.9 755.2L1066.0 755.2L1067.1 755.0L1068.2 754.6L1069.3 754.3L1070.4 754.0L1071.5 754.0L1072.6 754.3L1073.8 754.4L1074.9 754.5L1076.0 755.2L1077.1 755.1L1078.2 755.1L1079.3 754.7L1080.4 754.6L1081.5 754.7L1082.6 753.9L1083.7 753.8L1084.8 754.0L1085.9 753.7L1087.1 753.3L1088.2 753.7L1089.3 754.4L1090.4 754.2L1091.5 754.3L1092.6 754.4L1093.7 754.7L1094.8 754.6L1095.9 754.2L1097.0 754.4L1098.1 754.5L1099.2 754.5L1100.4 754.5L1101.5 754.5L1102.6 754.8L1103.7 756.4L1104.8 759.0L1105.9 761.8L1107.0 764.9L1108.1 768.9L1109.2 772.8L1110.3 775.8L1111.4 778.5L1112.6 780.8L1113.7 782.6L1114.8 783.9L1115.9 785.1L1117.0 786.1L1118.1 787.1L1119.2 787.9L1120.3 788.5L1121.4 788.9L1122.5 789.1L1123.6 789.2L1124.7 789.3L1125.9 789.4L1127.0 789.5L1128.1 789.6L1129.2 789.7L1130.3 789.8L1131.4 789.9L1132.5 790.0L1133.6 790.1L1134.7 790.1L1135.8 790.2L1136.9 790.3L1138.0 790.3L1139.2 790.4L1140.3 790.4L1141.4 790.5L1142.5 790.5L1143.6 790.6L1144.7 790.6L1145.8 790.7L1146.9 790.7L1148.0 790.7L1149.1 790.8L1150.2 790.8L1151.4 790.9L1152.5 790.8L1153.6 790.5L1154.7 790.7L1155.8 790.9L1156.9 791.0L1158.0 790.9L1159.1 791.0L1160.2 791.2L1161.3 791.1L1162.4 791.1L1163.5 791.1L1164.7 790.9L1165.8 790.9L1166.9 791.1L1168.0 791.0L1169.1 790.9L1170.2 790.9L1171.3 791.1L1172.4 791.0L1173.5 790.9L1174.6 791.0L1175.7 791.1L1176.9 791.2L1178.0 791.1L1179.1 791.2L1180.2 791.4L1181.3 791.4L1182.4 791.6L1183.5 791.6L1184.6 791.5L1185.7 791.6L1186.8 791.6L1187.9 791.4L1189.0 791.3L1190.2 791.4L1191.3 791.5L1192.4 791.5L1193.5 791.6L1194.6 791.6L1195.7 791.4L1196.8 791.5L1197.9 791.5L1199.0 791.5L1200.1 791.5L1201.2 791.6L1202.3 791.5L1203.5 791.5L1204.6 791.6L1205.7 791.6L1206.8 791.5L1207.9 791.5L1209.0 791.5L1210.1 791.6L1211.2 791.8L1212.3 791.8L1213.4 791.7L1214.5 791.6L1215.7 791.7L1216.8 791.7L1217.9 791.7L1219.0 791.8L1220.1 791.9L1221.2 791.9L1222.3 791.7L1223.4 791.6L1224.5 791.6L1225.6 791.8L1226.7 792.0L1227.8 791.9L1229.0 791.7L1230.1 791.7L1231.2 791.5L1232.3 791.5L1233.4 791.8L1234.5 792.0L1235.6 791.9L1236.7 791.6L1237.8 791.6L1238.9 791.6L1240.0 791.7L1241.1 791.7L1242.3 791.8L1243.4 791.8L1244.5 791.8L1245.6 791.9L1246.7 791.9L1247.8 791.9L1248.9 791.9L1250.0 791.9L1251.1 791.9L1252.2 791.9L1253.3 792.0L1254.5 791.8L1255.6 791.8L1256.7 792.0L1257.8 792.1L1258.9 792.1L1260.0 792.0L1261.1 792.1L1262.2 792.4L1263.3 792.3L1264.4 792.2L1265.5 792.3L1266.6 792.4L1267.8 792.2L1268.9 792.1L1270.0 792.2L1271.1 792.2L1272.2 792.1L1273.3 792.2L1274.4 792.3L1275.5 792.3L1276.6 792.3L1277.7 792.2L1278.8 792.0L1280.0 792.0L1281.1 792.2L1282.2 792.2L1283.3 792.1L1284.4 791.9L1285.5 791.8L1286.6 791.9L1287.7 792.1L1288.8 792.3L1289.9 792.2L1291.0 792.1L1292.1 792.2L1293.3 792.3L1294.4 792.0L1295.5 792.1L1296.6 792.2L1297.7 792.1L1298.8 792.1L1299.9 792.2L1301.0 792.3L1302.1 792.5L1303.2 792.5L1304.3 792.4L1305.4 792.2L1306.6 792.2L1307.7 792.4L1308.8 792.4L1309.9 792.4L1311.0 792.5L1312.1 792.7L1313.2 792.5L1314.3 792.2L1315.4 792.2L1316.5 792.4L1317.6 792.4L1318.8 792.3L1319.9 792.4L1321.0 792.4L1322.1 792.4L1323.2 792.5L1324.3 792.4L1325.4 792.2L1326.5 792.2L1327.6 792.3L1328.7 792.2L1329.8 792.3L1330.9 792.2L1332.1 792.1L1333.2 792.3L1334.3 792.4L1335.4 792.3L1336.5 792.3L1337.6 792.4L1338.7 792.6L1339.8 792.8L1340.9 792.7L1342.0 792.5L1343.1 792.5L1344.2 792.3L1345.4 792.1L1346.5 792.1L1347.6 792.1L1348.7 792.1L1349.8 792.2L1350.9 792.4L1352.0 792.3L1353.1 792.2L1354.2 792.4L1355.3 792.6L1356.4 792.7L1357.6 792.8L1358.7 792.5L1359.8 792.5L1360.9 792.6L1362.0 792.5L1363.1 792.5L1364.2 792.6L1365.3 792.6L1366.4 792.6L1367.5 792.6L1368.6 792.6L1369.7 792.5L1370.9 792.6L1372.0 792.7L1373.1 792.7L1374.2 792.5L1375.3 792.5L1376.4 792.5L1377.5 792.6L1378.6 792.7L1379.7 792.8L1380.8 792.8L1381.9 792.6L1383.1 792.6L1384.2 792.6L1385.3 792.4L1386.4 792.4L1387.5 792.5L1388.6 792.3L1389.7 792.3L1390.8 792.4L1391.9 792.3L1393.0 792.3L1394.1 792.1L1395.2 792.1L1396.4 792.2L1397.5 792.3L1398.6 792.5L1399.7 792.7L1400.8 792.6L1401.9 792.7L1403.0 792.6L1404.1 792.4L1405.2 792.5L1406.3 792.7L1407.4 792.7L1408.5 792.7L1409.7 792.7L1410.8 792.6L1411.0 792.5"/>
<path stroke="#203f82" d="M203.5 789.5L204.6 789.6L205.7 789.9L206.8 789.8L207.9 789.8L209.0 790.5L210.2 790.5L211.3 790.1L212.4 789.9L213.5 790.0L214.6 790.4L215.7 789.9L216.8 789.6L217.9 790.1L219.0 790.2L220.1 789.0L221.2 789.2L222.3 790.2L223.5 790.5L224.6 790.5L225.7 790.6L226.8 790.7L227.9 791.0L229.0 791.1L230.1 790.8L231.2 790.4L232.3 790.3L233.4 790.4L234.5 790.8L235.6 791.1L236.8 791.4L237.9 791.5L239.0 791.2L240.1 791.1L241.2 791.0L242.3 790.9L243.4 790.5L244.5 790.5L245.6 790.6L246.7 790.7L247.8 790.5L249.0 790.4L250.1 790.8L251.2 790.6L252.3 790.3L253.4 790.5L254.5 790.3L255.6 790.4L256.7 791.0L257.8 791.1L258.9 790.7L260.0 791.1L261.1 791.6L262.3 791.6L263.4 791.6L264.5 791.7L265.6 792.1L266.7 792.4L267.8 792.1L268.9 791.7L270.0 791.6L271.1 791.7L272.2 791.7L273.3 791.9L274.5 792.0L275.6 792.0L276.7 792.1L277.8 792.4L278.9 792.0L280.0 791.0L281.1 791.2L282.2 792.2L283.3 792.8L284.4 792.8L285.5 792.4L286.6 792.4L287.8 792.7L288.9 793.1L290.0 792.8L291.1 792.3L292.2 792.6L293.3 792.8L294.4 793.1L295.5 792.8L296.6 792.6L297.7 792.8L298.8 793.1L299.9 792.7L301.1 792.7L302.2 792.8L303.3 793.3L304.4 793.9L305.5 794.2L306.6 794.4L307.7 794.3L308.8 794.2L309.9 794.5L311.0 794.5L312.1 794.6L313.3 794.2L314.4 793.8L315.5 794.1L316.6 794.0L317.7 793.9L318.8 793.6L319.9 793.2L321.0 793.0L322.1 793.3L323.2 793.1L324.3 792.9L325.4 792.9L326.6 793.6L327.7 793.6L328.8 792.8L329.9 792.8L331.0 793.5L332.1 794.1L333.2 794.4L334.3 794.6L335.4 795.2L336.5 795.1L337.6 794.7L338.7 794.9L339.9 795.0L341.0 794.8L342.1 794.8L343.2 795.0L344.3 794.7L345.4 794.4L346.5 795.0L347.6 795.1L348.7 794.9L349.8 794.5L350.9 794.5L352.1 794.8L353.2 795.2L354.3 795.3L355.4 795.5L356.5 795.9L357.6 795.0L358.7 794.5L359.8 794.9L360.9 794.6L362.0 794.7L363.1 795.0L364.2 794.9L365.4 795.2L366.5 795.8L367.6 796.2L368.7 796.3L369.8 796.2L370.9 796.2L372.0 795.6L373.1 795.6L374.2 795.9L375.3 796.1L376.4 796.4L377.6 796.7L378.7 796.7L379.8 796.6L380.9 796.1L382.0 795.8L383.1 796.5L384.2 796.4L385.3 795.8L386.4 795.7L387.5 795.9L388.6 796.1L389.7 796.5L390.9 796.8L392.0 796.8L393.1 797.1L394.2 797.2L395.3 796.8L396.4 796.7L397.5 796.5L398.6 796.2L399.7 796.0L400.8 795.9L401.9 796.1L403.0 796.3L404.2 796.8L405.3 796.9L406.4 796.6L407.5 796.5L408.6 796.7L409.7 796.8L410.8 797.2L411.9 797.8L413.0 797.9L414.1 797.7L415.2 797.5L416.4 797.0L417.5 796.6L418.6 796.4L419.7 796.4L420.8 796.5L421.9 796.8L423.0 796.8L424.1 796.6L425.2 796.7L426.3 796.9L427.4 797.3L428.5 797.5L429.7 797.0L430.8 797.3L431.9 797.4L433.0 797.4L434.1 797.4L435.2 797.3L436.3 797.3L437.4 797.2L438.5 797.2L439.6 797.1L440.7 797.0L441.8 796.9L443.0 796.7L444.1 796.6L445.2 796.5L446.3 795.9L447.4 794.9L448.5 793.6L449.6 792.4L450.7 791.3L451.8 790.1L452.9 788.8L454.0 787.5L455.2 786.2L456.3 784.8L457.4 783.4L458.5 782.0L459.6 780.7L460.7 779.5L461.8 778.3L462.9 777.2L464.0 776.2L465.1 775.4L466.2 774.7L467.3 774.1L468.5 773.6L469.6 773.1L470.7 772.6L471.8 772.1L472.9 771.7L474.0 771.3L475.1 770.9L476.2 770.6L477.3 770.2L478.4 769.9L479.5 769.5L480.6 769.1L481.8 768.8L482.9 768.1L484.0 767.5L485.1 767.0L486.2 766.8L487.3 766.7L488.4 766.1L489.5 765.0L490.6 764.7L491.7 765.7L492.8 766.5L494.0 766.6L495.1 766.5L496.2 767.0L497.3 767.1L498.4 767.4L499.5 767.3L500.6 766.7L501.7 767.3L502.8 767.0L503.9 767.0L505.0 767.4L506.1 766.4L507.3 765.6L508.4 765.5L509.5 765.4L510.6 764.8L511.7 765.0L512.8 765.6L513.9 765.3L515.0 765.2L516.1 765.6L517.2 765.9L518.3 766.1L519.5 765.9L520.6 765.8L521.7 765.3L522.8 765.2L523.9 765.6L525.0 766.4L526.1 767.0L527.2 766.6L528.3 766.2L529.4 766.7L530.5 766.2L531.6 766.1L532.8 766.4L533.9 766.9L535.0 767.7L536.1 768.0L537.2 767.7L538.3 767.3L539.4 766.9L540.5 767.0L541.6 766.2L542.7 766.0L543.8 766.1L544.9 766.3L546.1 767.1L547.2 766.7L548.3 765.6L549.4 765.5L550.5 766.0L551.6 766.2L552.7 765.7L553.8 765.3L554.9 765.3L556.0 765.6L557.1 765.6L558.3 765.5L559.4 765.9L560.5 765.6L561.6 766.0L562.7 766.1L563.8 766.4L564.9 766.8L566.0 766.4L567.1 766.0L568.2 765.8L569.3 765.3L570.4 765.5L571.6 765.9L572.7 765.9L573.8 766.2L574.9 766.8L576.0 766.2L577.1 765.8L578.2 766.0L579.3 766.4L580.4 766.4L581.5 765.9L582.6 765.3L583.7 765.5L584.9 766.4L586.0 766.7L587.1 766.8L588.2 766.4L589.3 766.0L590.4 765.9L591.5 766.3L592.6 766.3L593.7 766.2L594.8 766.7L595.9 767.1L597.1 767.1L598.2 766.5L599.3 767.0L600.4 766.9L601.5 766.2L602.6 765.7L603.7 765.8L604.8 765.5L605.9 765.1L607.0 765.8L608.1 766.3L609.2 766.1L610.4 765.3L611.5 764.9L612.6 765.2L613.7 765.9L614.8 766.7L615.9 765.9L617.0 765.2L618.1 765.3L619.2 766.0L620.3 766.3L621.4 766.1L622.6 765.7L623.7 765.1L624.8 764.4L625.9 764.0L627.0 764.9L628.1 765.7L629.2 765.5L630.3 764.7L631.4 764.3L632.5 764.7L633.6 764.7L634.7 764.2L635.9 764.3L637.0 764.7L638.1 765.8L639.2 765.9L640.3 766.1L641.4 766.3L642.5 765.5L643.6 764.8L644.7 764.7L645.8 764.8L646.9 764.5L648.0 764.5L649.2 765.4L650.3 765.8L651.4 765.5L652.5 765.3L653.6 765.4L654.7 765.1L655.8 765.2L656.9 765.9L658.0 766.2L659.1 765.4L660.2 765.3L661.4 765.6L662.5 765.6L663.6 765.8L664.7 766.0L665.8 765.9L666.9 765.9L668.0 765.8L669.1 765.7L670.2 765.7L671.3 766.0L672.4 765.3L673.5 764.6L674.7 764.9L675.8 764.8L676.9 764.2L678.0 763.5L679.1 763.9L680.2 764.3L681.3 763.2L682.4 762.4L683.5 763.1L684.6 764.8L685.7 765.6L686.8 765.3L688.0 764.8L689.1 764.7L690.2 764.4L691.3 764.3L692.4 764.5L693.5 764.2L694.6 764.3L695.7 764.7L696.8 764.8L697.9 764.4L699.0 764.4L700.2 764.3L701.3 764.4L702.4 765.2L703.5 766.2L704.6 765.9L705.7 764.4L706.8 763.6L707.9 763.7L709.0 763.8L710.1 764.6L711.2 764.3L712.3 764.0L713.5 764.1L714.6 764.3L715.7 764.0L716.8 764.0L717.9 763.9L719.0 763.6L720.1 763.9L721.2 763.9L722.3 764.1L723.4 764.3L724.5 764.1L725.7 763.9L726.8 763.6L727.9 762.9L729.0 763.0L730.1 762.8L731.2 762.8L732.3 763.0L733.4 763.2L734.5 763.2L735.6 763.2L736.7 763.9L737.8 763.5L739.0 763.7L740.1 763.7L741.2 763.5L742.3 763.8L743.4 763.9L744.5 764.4L745.6 764.3L746.7 763.8L747.8 763.0L748.9 762.2L750.0 761.6L751.1 761.9L752.3 762.8L753.4 762.8L754.5 763.0L755.6 763.1L756.7 763.2L757.8 763.1L758.9 763.2L760.0 763.0L761.1 762.9L762.2 764.0L763.3 763.8L764.5 763.6L765.6 763.7L766.7 763.4L767.8 763.3L768.9 763.1L770.0 762.4L771.1 762.5L772.2 763.1L773.3 763.6L774.4 764.1L775.5 764.2L776.6 764.5L777.8 764.8L778.9 764.7L780.0 764.5L781.1 765.2L782.2 765.4L783.3 764.4L784.4 763.8L785.5 763.9L786.6 764.0L787.7 764.2L788.8 764.7L789.9 764.5L791.1 764.2L792.2 764.3L793.3 764.8L794.4 765.7L795.5 765.8L796.6 765.5L797.7 765.5L798.8 765.8L799.9 765.4L801.0 765.2L802.1 764.9L803.3 765.1L804.4 765.6L805.5 765.9L806.6 765.9L807.7 766.8L808.8 766.6L809.9 765.5L811.0 765.3L812.1 766.3L813.2 766.7L814.3 765.6L815.4 765.3L816.6 765.5L817.7 765.9L818.8 765.4L819.9 764.6L821.0 764.5L822.1 765.3L823.2 765.7L824.3 765.8L825.4 766.1L826.5 766.6L827.6 767.2L828.8 766.4L829.9 765.5L831.0 765.7L832.1 765.8L833.2 765.3L834.3 765.2L835.4 765.2L836.5 764.8L837.6 764.5L838.7 764.0L839.8 764.2L840.9 764.5L842.1 765.2L843.2 765.5L844.3 765.3L845.4 765.4L846.5 765.6L847.6 766.1L848.7 766.1L849.8 765.4L850.9 764.8L852.0 764.7L853.1 765.3L854.2 766.3L855.4 766.1L856.5 765.3L857.6 765.4L858.7 766.3L859.8 766.5L860.9 766.6L862.0 766.8L863.1 766.5L864.2 765.9L865.3 766.2L866.4 767.1L867.6 767.1L868.7 767.2L869.8 767.0L870.9 767.3L872.0 767.7L873.1 767.2L874.2 766.4L875.3 765.9L876.4 766.2L877.5 766.2L878.6 766.3L879.7 767.0L880.9 767.3L882.0 767.5L883.1 767.9L884.2 767.3L885.3 766.1L886.4 765.9L887.5 766.4L888.6 767.0L889.7 767.4L890.8 767.1L891.9 766.8L893.0 766.7L894.2 766.6L895.3 766.6L896.4 767.2L897.5 767.4L898.6 767.6L899.7 767.6L900.8 767.5L901.9 768.0L903.0 768.5L904.1 767.5L905.2 767.5L906.4 767.4L907.5 767.7L908.6 768.1L909.7 767.4L910.8 767.5L911.9 767.1L913.0 767.2L914.1 767.6L915.2 767.4L916.3 767.2L917.4 767.6L918.5 767.8L919.7 767.1L920.8 767.7L921.9 768.5L923.0 768.2L924.1 767.9L925.2 767.7L926.3 767.5L927.4 767.6L928.5 768.3L929.6 768.2L930.7 767.4L931.9 767.5L933.0 767.9L934.1 768.1L935.2 767.7L936.3 768.0L937.4 768.7L938.5 769.1L939.6 768.7L940.7 768.1L941.8 768.9L942.9 768.9L944.0 769.0L945.2 769.0L946.3 768.9L947.4 769.2L948.5 769.7L949.6 769.3L950.7 768.8L951.8 769.1L952.9 769.3L954.0 769.0L955.1 768.2L956.2 767.7L957.3 768.0L958.5 768.6L959.6 768.2L960.7 767.7L961.8 768.6L962.9 768.5L964.0 768.2L965.1 768.9L966.2 769.8L967.3 769.3L968.4 768.8L969.5 768.3L970.7 768.6L971.8 769.0L972.9 769.6L974.0 769.7L975.1 769.2L976.2 769.0L977.3 769.0L978.4 769.2L979.5 768.9L980.6 769.5L981.7 770.0L982.8 769.2L984.0 768.2L985.1 768.6L986.2 769.6L987.3 769.5L988.4 770.1L989.5 771.2L990.6 771.3L991.7 771.2L992.8 771.2L993.9 770.4L995.0 769.6L996.1 769.8L997.3 769.1L998.4 768.2L999.5 768.5L1000.6 769.4L1001.7 769.4L1002.8 769.7L1003.9 769.8L1005.0 769.9L1006.1 770.0L1007.2 769.7L1008.3 769.3L1009.5 769.3L1010.6 770.3L1011.7 771.0L1012.8 770.8L1013.9 770.1L1015.0 770.3L1016.1 770.1L1017.2 768.4L1018.3 768.0L1019.4 768.3L1020.5 768.8L1021.6 768.2L1022.8 767.9L1023.9 768.6L1025.0 768.9L1026.1 769.8L1027.2 770.1L1028.3 769.6L1029.4 769.4L1030.5 769.4L1031.6 769.7L1032.7 769.9L1033.8 769.8L1034.9 769.7L1036.1 769.4L1037.2 769.5L1038.3 770.1L1039.4 770.2L1040.5 770.1L1041.6 769.6L1042.7 769.9L1043.8 769.8L1044.9 769.4L1046.0 769.4L1047.1 769.8L1048.3 769.9L1049.4 769.5L1050.5 769.7L1051.6 770.3L1052.7 770.1L1053.8 770.0L1054.9 769.7L1056.0 768.5L1057.1 768.8L1058.2 769.0L1059.3 769.3L1060.4 769.5L1061.6 769.0L1062.7 769.4L1063.8 769.8L1064.9 769.6L1066.0 769.1L1067.1 769.2L1068.2 769.9L1069.3 770.0L1070.4 769.9L1071.5 770.2L1072.6 770.0L1073.8 769.8L1074.9 769.8L1076.0 769.2L1077.1 769.2L1078.2 769.5L1079.3 770.0L1080.4 770.5L1081.5 770.9L1082.6 771.0L1083.7 770.4L1084.8 769.4L1085.9 769.2L1087.1 769.5L1088.2 769.6L1089.3 769.7L1090.4 769.7L1091.5 770.1L1092.6 770.5L1093.7 770.0L1094.8 769.8L1095.9 769.8L1097.0 770.0L1098.1 769.9L1099.2 769.8L1100.4 770.0L1101.5 770.0L1102.6 769.7L1103.7 769.2L1104.8 770.2L1105.9 769.9L1107.0 769.2L1108.1 769.2L1109.2 769.2L1110.3 769.0L1111.4 769.2L1112.6 769.7L1113.7 770.3L1114.8 770.4L1115.9 770.5L1117.0 770.2L1118.1 769.6L1119.2 769.4L1120.3 769.4L1121.4 769.4L1122.5 769.4L1123.6 769.5L1124.7 769.5L1125.9 769.5L1127.0 769.5L1128.1 769.6L1129.2 769.6L1130.3 769.7L1131.4 769.7L1132.5 769.8L1133.6 769.9L1134.7 769.9L1135.8 770.0L1136.9 770.1L1138.0 770.2L1139.2 770.3L1140.3 770.4L1141.4 770.5L1142.5 770.7L1143.6 770.8L1144.7 771.0L1145.8 771.2L1146.9 771.5L1148.0 772.0L1149.1 772.5L1150.2 773.1L1151.4 773.8L1152.5 774.5L1153.6 775.2L1154.7 775.8L1155.8 776.5L1156.9 777.2L1158.0 778.0L1159.1 778.8L1160.2 779.6L1161.3 780.3L1162.4 781.0L1163.5 782.0L1164.7 782.3L1165.8 782.3L1166.9 782.2L1168.0 782.5L1169.1 783.0L1170.2 783.1L1171.3 783.5L1172.4 784.0L1173.5 784.2L1174.6 783.6L1175.7 783.1L1176.9 783.9L1178.0 784.5L1179.1 784.2L1180.2 784.1L1181.3 784.5L1182.4 784.3L1183.5 784.1L1184.6 784.5L1185.7 784.7L1186.8 784.7L1187.9 784.4L1189.0 784.6L1190.2 784.9L1191.3 784.7L1192.4 784.0L1193.5 783.9L1194.6 785.2L1195.7 785.9L1196.8 785.8L1197.9 785.8L1199.0 785.1L1200.1 784.9L1201.2 785.8L1202.3 785.8L1203.5 785.2L1204.6 785.1L1205.7 785.3L1206.8 785.5L1207.9 786.0L1209.0 786.2L1210.1 785.7L1211.2 785.1L1212.3 785.5L1213.4 785.6L1214.5 785.6L1215.7 785.7L1216.8 786.3L1217.9 786.0L1219.0 785.4L1220.1 785.3L1221.2 785.3L1222.3 785.2L1223.4 785.0L1224.5 784.6L1225.6 784.6L1226.7 785.2L1227.8 785.6L1229.0 785.7L1230.1 786.0L1231.2 786.3L1232.3 786.3L1233.4 786.3L1234.5 785.8L1235.6 785.5L1236.7 785.4L1237.8 785.9L1238.9 786.4L1240.0 785.5L1241.1 785.5L1242.3 785.9L1243.4 785.9L1244.5 785.7L1245.6 785.7L1246.7 786.3L1247.8 787.0L1248.9 787.2L1250.0 787.7L1251.1 787.3L1252.2 787.2L1253.3 787.1L1254.5 787.4L1255.6 788.2L1256.7 788.5L1257.8 787.5L1258.9 786.8L1260.0 786.9L1261.1 787.1L1262.2 787.1L1263.3 786.7L1264.4 786.7L1265.5 787.3L1266.6 787.7L1267.8 787.8L1268.9 787.6L1270.0 787.9L1271.1 787.5L1272.2 787.2L1273.3 787.7L1274.4 787.7L1275.5 787.6L1276.6 787.5L1277.7 787.5L1278.8 787.5L1280.0 787.6L1281.1 787.5L1282.2 787.6L1283.3 788.0L1284.4 787.8L1285.5 787.2L1286.6 786.9L1287.7 787.0L1288.8 786.5L1289.9 786.3L1291.0 786.8L1292.1 786.4L1293.3 786.1L1294.4 786.5L1295.5 787.1L1296.6 786.9L1297.7 786.8L1298.8 786.8L1299.9 786.8L1301.0 786.8L1302.1 787.0L1303.2 787.7L1304.3 787.9L1305.4 787.6L1306.6 787.8L1307.7 787.8L1308.8 787.3L1309.9 787.1L1311.0 786.9L1312.1 786.7L1313.2 786.2L1314.3 785.8L1315.4 785.6L1316.5 785.9L1317.6 786.2L1318.8 786.3L1319.9 786.3L1321.0 786.3L1322.1 786.4L1323.2 786.3L1324.3 785.7L1325.4 785.7L1326.5 785.9L1327.6 786.0L1328.7 786.3L1329.8 786.5L1330.9 786.7L1332.1 786.6L1333.2 786.3L1334.3 786.6L1335.4 787.0L1336.5 786.6L1337.6 785.9L1338.7 785.4L1339.8 785.8L1340.9 786.4L1342.0 786.2L1343.1 785.6L1344.2 785.7L1345.4 786.2L1346.5 786.9L1347.6 787.2L1348.7 787.6L1349.8 786.9L1350.9 786.0L1352.0 785.9L1353.1 786.3L1354.2 786.5L1355.3 786.6L1356.4 787.0L1357.6 787.0L1358.7 786.5L1359.8 786.6L1360.9 786.7L1362.0 786.0L1363.1 784.9L1364.2 785.1L1365.3 786.0L1366.4 786.2L1367.5 786.3L1368.6 786.3L1369.7 785.5L1370.9 785.6L1372.0 786.3L1373.1 786.8L1374.2 787.0L1375.3 786.7L1376.4 786.3L1377.5 786.1L1378.6 786.2L1379.7 787.3L1380.8 788.2L1381.9 787.6L1383.1 787.1L1384.2 787.1L1385.3 787.1L1386.4 787.0L1387.5 787.2L1388.6 787.5L1389.7 787.7L1390.8 788.1L1391.9 788.2L1393.0 787.9L1394.1 787.7L1395.2 788.4L1396.4 787.8L1397.5 787.3L1398.6 787.9L1399.7 788.2L1400.8 787.6L1401.9 787.2L1403.0 787.4L1404.1 787.5L1405.2 787.2L1406.3 786.8L1407.4 786.6L1408.5 786.4L1409.7 786.4L1410.8 786.9L1411.0 787.2"/>
<path stroke="#bfcbe9" d="M203.5 791.3L204.6 791.2L205.7 791.4L206.8 791.0L207.9 790.6L209.0 790.9L210.2 791.3L211.3 791.3L212.4 791.2L213.5 791.4L214.6 791.8L215.7 791.5L216.8 791.8L217.9 791.8L219.0 792.2L220.1 792.2L221.2 792.2L222.3 792.3L223.5 792.6L224.6 792.3L225.7 791.8L226.8 791.5L227.9 791.9L229.0 792.0L230.1 791.7L231.2 791.5L232.3 791.7L233.4 791.9L234.5 791.9L235.6 792.3L236.8 791.8L237.9 791.0L239.0 791.2L240.1 792.0L241.2 791.8L242.3 791.4L243.4 791.1L244.5 791.0L245.6 790.8L246.7 790.5L247.8 790.4L249.0 790.8L250.1 791.0L251.2 790.9L252.3 791.0L253.4 791.4L254.5 791.8L255.6 791.6L256.7 791.9L257.8 791.6L258.9 791.2L260.0 791.0L261.1 791.1L262.3 791.1L263.4 790.9L264.5 790.8L265.6 790.9L266.7 791.1L267.8 791.5L268.9 791.6L270.0 791.0L271.1 791.0L272.2 790.9L273.3 790.7L274.5 790.6L275.6 790.6L276.7 790.8L277.8 791.2L278.9 792.1L280.0 792.4L281.1 792.0L282.2 791.7L283.3 791.2L284.4 791.4L285.5 791.2L286.6 791.1L287.8 791.0L288.9 791.4L290.0 791.6L291.1 791.6L292.2 791.9L293.3 792.4L294.4 792.6L295.5 792.5L296.6 792.4L297.7 792.2L298.8 792.1L299.9 791.9L301.1 791.6L302.2 791.8L303.3 792.2L304.4 792.7L305.5 792.6L306.6 792.3L307.7 791.8L308.8 791.6L309.9 791.6L311.0 791.6L312.1 791.5L313.3 791.2L314.4 791.5L315.5 791.6L316.6 791.3L317.7 791.2L318.8 791.4L319.9 791.4L321.0 791.3L322.1 791.5L323.2 791.3L324.3 791.5L325.4 792.0L326.6 791.7L327.7 791.3L328.8 791.5L329.9 791.1L331.0 791.2L332.1 791.4L333.2 791.8L334.3 791.7L335.4 791.3L336.5 790.9L337.6 790.6L338.7 790.1L339.9 790.1L341.0 790.5L342.1 790.5L343.2 789.9L344.3 790.1L345.4 790.5L346.5 790.8L347.6 790.6L348.7 790.6L349.8 790.8L350.9 790.8L352.1 790.6L353.2 790.9L354.3 791.2L355.4 791.1L356.5 790.7L357.6 790.4L358.7 790.7L359.8 791.3L360.9 791.5L362.0 791.7L363.1 791.8L364.2 791.6L365.4 791.1L366.5 791.0L367.6 791.1L368.7 791.7L369.8 792.1L370.9 791.9L372.0 792.0L373.1 792.2L374.2 792.6L375.3 792.7L376.4 793.1L377.6 793.0L378.7 792.8L379.8 792.5L380.9 792.3L382.0 791.5L383.1 791.3L384.2 791.7L385.3 791.9L386.4 792.0L387.5 791.8L388.6 791.6L389.7 791.3L390.9 791.7L392.0 792.1L393.1 792.1L394.2 791.9L395.3 791.9L396.4 791.8L397.5 791.9L398.6 792.5L399.7 792.8L400.8 792.3L401.9 791.6L403.0 791.2L404.2 791.5L405.3 792.2L406.4 792.6L407.5 792.4L408.6 792.0L409.7 792.1L410.8 792.4L411.9 792.3L413.0 792.1L414.1 791.7L415.2 791.3L416.4 791.6L417.5 791.8L418.6 791.2L419.7 790.5L420.8 790.5L421.9 791.1L423.0 791.5L424.1 791.3L425.2 790.8L426.3 790.9L427.4 790.8L428.5 790.8L429.7 790.9L430.8 791.0L431.9 790.6L433.0 790.8L434.1 790.9L435.2 790.8L436.3 791.1L437.4 791.5L438.5 791.5L439.6 791.5L440.7 791.0L441.8 790.6L443.0 790.6L444.1 791.2L445.2 791.4L446.3 791.5L447.4 791.4L448.5 791.5L449.6 791.7L450.7 791.7L451.8 791.6L452.9 791.8L454.0 791.7L455.2 792.2L456.3 793.1L457.4 792.9L458.5 792.0L459.6 791.4L460.7 791.0L461.8 791.1L462.9 791.4L464.0 791.3L465.1 791.2L466.2 791.2L467.3 791.3L468.5 791.3L469.6 791.0L470.7 790.8L471.8 790.5L472.9 790.9L474.0 791.0L475.1 790.7L476.2 790.9L477.3 791.1L478.4 791.1L479.5 791.6L480.6 791.7L481.8 791.3L482.9 791.6L484.0 791.6L485.1 791.5L486.2 791.9L487.3 791.7L488.4 791.5L489.5 791.2L490.6 790.7L491.7 790.5L492.8 791.0L494.0 791.6L495.1 791.0L496.2 790.6L497.3 790.7L498.4 790.9L499.5 790.7L500.6 790.5L501.7 790.5L502.8 790.6L503.9 790.5L505.0 790.1L506.1 790.0L507.3 790.7L508.4 791.1L509.5 791.0L510.6 790.6L511.7 790.4L512.8 790.9L513.9 790.8L515.0 790.7L516.1 791.3L517.2 791.6L518.3 791.0L519.5 791.1L520.6 791.2L521.7 791.3L522.8 791.5L523.9 790.9L525.0 790.3L526.1 790.7L527.2 791.3L528.3 791.8L529.4 791.8L530.5 791.9L531.6 791.9L532.8 791.5L533.9 791.8L535.0 792.2L536.1 791.9L537.2 791.5L538.3 791.6L539.4 791.6L540.5 791.3L541.6 791.5L542.7 791.4L543.8 791.5L544.9 791.6L546.1 791.5L547.2 790.7L548.3 790.6L549.4 791.2L550.5 791.1L551.6 790.8L552.7 791.1L553.8 791.4L554.9 791.0L556.0 790.9L557.1 791.1L558.3 791.1L559.4 791.0L560.5 791.0L561.6 791.3L562.7 791.6L563.8 791.8L564.9 791.9L566.0 791.6L567.1 791.7L568.2 791.7L569.3 791.3L570.4 790.9L571.6 790.6L572.7 790.3L573.8 790.4L574.9 790.8L576.0 791.4L577.1 791.3L578.2 790.9L579.3 790.3L580.4 790.1L581.5 790.0L582.6 790.5L583.7 791.2L584.9 791.2L586.0 790.8L587.1 790.6L588.2 791.1L589.3 790.7L590.4 790.2L591.5 790.8L592.6 791.3L593.7 791.1L594.8 790.5L595.9 790.2L597.1 790.6L598.2 790.9L599.3 791.5L600.4 791.6L601.5 791.3L602.6 790.9L603.7 790.8L604.8 791.0L605.9 790.7L607.0 790.6L608.1 790.9L609.2 790.9L610.4 790.8L611.5 790.4L612.6 790.5L613.7 791.0L614.8 791.0L615.9 790.7L617.0 790.4L618.1 790.3L619.2 790.5L620.3 791.2L621.4 790.9L622.6 791.0L623.7 791.4L624.8 791.4L625.9 791.1L627.0 791.1L628.1 791.0L629.2 790.8L630.3 790.9L631.4 791.3L632.5 791.6L633.6 791.4L634.7 791.1L635.9 791.4L637.0 791.0L638.1 791.1L639.2 791.4L640.3 791.4L641.4 791.2L642.5 791.4L643.6 791.0L644.7 790.6L645.8 790.3L646.9 790.4L648.0 790.9L649.2 791.0L650.3 790.7L651.4 791.0L652.5 791.1L653.6 790.4L654.7 789.9L655.8 789.7L656.9 789.9L658.0 790.2L659.1 790.1L660.2 789.9L661.4 790.0L662.5 789.9L663.6 789.9L664.7 789.6L665.8 789.6L666.9 790.5L668.0 790.4L669.1 790.3L670.2 790.3L671.3 790.4L672.4 790.6L673.5 790.7L674.7 790.7L675.8 790.4L676.9 790.5L678.0 790.9L679.1 790.6L680.2 790.5L681.3 790.7L682.4 790.6L683.5 790.4L684.6 790.3L685.7 790.5L686.8 790.4L688.0 790.5L689.1 790.7L690.2 790.8L691.3 790.7L692.4 790.9L693.5 790.9L694.6 790.5L695.7 790.0L696.8 790.7L697.9 791.3L699.0 791.0L700.2 790.9L701.3 790.9L702.4 790.8L703.5 790.8L704.6 790.9L705.7 790.9L706.8 790.9L707.9 790.6L709.0 790.5L710.1 790.9L711.2 790.9L712.3 790.7L713.5 790.2L714.6 790.2L715.7 790.3L716.8 790.1L717.9 790.6L719.0 790.8L720.1 790.6L721.2 790.4L722.3 790.3L723.4 790.3L724.5 790.3L725.7 790.4L726.8 790.7L727.9 790.3L729.0 790.2L730.1 790.8L731.2 791.3L732.3 791.5L733.4 791.4L734.5 791.6L735.6 791.7L736.7 791.4L737.8 791.3L739.0 791.3L740.1 791.3L741.2 791.3L742.3 791.2L743.4 791.1L744.5 791.4L745.6 791.5L746.7 791.0L747.8 790.8L748.9 790.8L750.0 790.6L751.1 790.6L752.3 791.3L753.4 791.5L754.5 791.4L755.6 791.6L756.7 791.3L757.8 790.9L758.9 791.1L760.0 791.4L761.1 791.2L762.2 790.9L763.3 790.8L764.5 790.9L765.6 790.7L766.7 790.8L767.8 790.7L768.9 790.7L770.0 790.6L771.1 790.8L772.2 791.3L773.3 791.0L774.4 790.7L775.5 790.8L776.6 790.1L777.8 789.8L778.9 790.2L780.0 791.1L781.1 790.9L782.2 790.9L783.3 791.1L784.4 790.6L785.5 790.3L786.6 789.9L787.7 789.5L788.8 789.6L789.9 790.0L791.1 790.1L792.2 790.6L793.3 790.8L794.4 790.4L795.5 790.0L796.6 790.0L797.7 790.6L798.8 791.6L799.9 791.4L801.0 791.2L802.1 791.3L803.3 791.5L804.4 791.8L805.5 791.7L806.6 791.7L807.7 791.9L808.8 792.2L809.9 792.2L811.0 791.6L812.1 791.8L813.2 792.0L814.3 791.8L815.4 791.4L816.6 791.3L817.7 791.7L818.8 791.4L819.9 790.7L821.0 790.8L822.1 790.9L823.2 790.4L824.3 789.9L825.4 789.7L826.5 790.5L827.6 790.7L828.8 790.4L829.9 790.4L831.0 790.2L832.1 790.2L833.2 790.1L834.3 789.7L835.4 789.5L836.5 789.3L837.6 789.3L838.7 790.3L839.8 791.0L840.9 790.6L842.1 791.0L843.2 791.0L844.3 790.5L845.4 790.2L846.5 790.1L847.6 790.3L848.7 790.3L849.8 790.6L850.9 790.6L852.0 790.2L853.1 789.6L854.2 789.6L855.4 789.7L856.5 789.9L857.6 790.0L858.7 789.9L859.8 790.4L860.9 791.0L862.0 790.7L863.1 790.4L864.2 790.4L865.3 790.5L866.4 790.4L867.6 790.1L868.7 790.2L869.8 790.7L870.9 790.7L872.0 791.0L873.1 791.4L874.2 791.5L875.3 791.4L876.4 791.5L877.5 791.5L878.6 790.9L879.7 790.9L880.9 791.0L882.0 791.1L883.1 791.1L884.2 791.4L885.3 791.7L886.4 791.6L887.5 791.2L888.6 791.0L889.7 791.0L890.8 790.9L891.9 790.8L893.0 790.9L894.2 790.8L895.3 790.9L896.4 791.0L897.5 790.6L898.6 790.7L899.7 790.4L900.8 790.1L901.9 790.5L903.0 790.6L904.1 790.6L905.2 790.5L906.4 790.8L907.5 791.0L908.6 790.9L909.7 790.7L910.8 791.0L911.9 791.1L913.0 790.3L914.1 789.9L915.2 790.9L916.3 791.7L917.4 791.5L918.5 790.9L919.7 790.8L920.8 790.9L921.9 791.0L923.0 791.3L924.1 791.3L925.2 790.8L926.3 790.1L927.4 790.4L928.5 790.2L929.6 790.2L930.7 791.0L931.9 791.5L933.0 791.0L934.1 790.8L935.2 790.4L936.3 790.7L937.4 791.1L938.5 791.2L939.6 791.1L940.7 791.0L941.8 791.2L942.9 790.9L944.0 790.1L945.2 789.9L946.3 790.5L947.4 791.2L948.5 791.0L949.6 790.5L950.7 790.6L951.8 790.9L952.9 791.0L954.0 791.2L955.1 791.0L956.2 790.6L957.3 790.6L958.5 791.3L959.6 791.8L960.7 791.7L961.8 791.0L962.9 790.4L964.0 791.0L965.1 791.1L966.2 790.9L967.3 790.8L968.4 790.6L969.5 790.4L970.7 789.7L971.8 789.9L972.9 790.3L974.0 790.3L975.1 790.7L976.2 790.8L977.3 790.3L978.4 790.3L979.5 790.7L980.6 790.5L981.7 790.0L982.8 790.1L984.0 790.2L985.1 790.4L986.2 790.4L987.3 790.6L988.4 790.8L989.5 790.9L990.6 790.6L991.7 790.3L992.8 790.2L993.9 790.3L995.0 790.5L996.1 790.4L997.3 790.7L998.4 791.0L999.5 790.9L1000.6 790.8L1001.7 790.3L1002.8 790.5L1003.9 791.2L1005.0 791.0L1006.1 790.4L1007.2 790.6L1008.3 790.7L1009.5 790.7L1010.6 790.3L1011.7 790.4L1012.8 791.0L1013.9 790.6L1015.0 790.8L1016.1 790.9L1017.2 790.6L1018.3 790.6L1019.4 790.9L1020.5 791.2L1021.6 791.0L1022.8 790.9L1023.9 790.8L1025.0 790.8L1026.1 790.7L1027.2 790.0L1028.3 789.7L1029.4 789.6L1030.5 789.6L1031.6 790.0L1032.7 790.8L1033.8 790.8L1034.9 790.9L1036.1 791.2L1037.2 790.8L1038.3 791.1L1039.4 791.3L1040.5 791.3L1041.6 791.6L1042.7 791.6L1043.8 791.6L1044.9 791.8L1046.0 791.6L1047.1 791.2L1048.3 791.3L1049.4 791.8L1050.5 791.7L1051.6 791.3L1052.7 791.0L1053.8 790.4L1054.9 790.1L1056.0 790.2L1057.1 790.5L1058.2 790.7L1059.3 791.2L1060.4 792.0L1061.6 792.4L1062.7 792.0L1063.8 791.7L1064.9 791.4L1066.0 790.9L1067.1 791.0L1068.2 791.4L1069.3 790.9L1070.4 790.6L1071.5 790.7L1072.6 790.7L1073.8 791.0L1074.9 791.1L1076.0 791.0L1077.1 791.2L1078.2 791.2L1079.3 791.4L1080.4 791.4L1081.5 791.3L1082.6 791.4L1083.7 791.1L1084.8 791.4L1085.9 791.3L1087.1 791.4L1088.2 792.0L1089.3 791.6L1090.4 791.2L1091.5 790.7L1092.6 790.9L1093.7 791.2L1094.8 791.0L1095.9 790.3L1097.0 790.0L1098.1 790.5L1099.2 791.0L1100.4 791.4L1101.5 791.1L1102.6 791.3L1103.7 791.6L1104.8 791.8L1105.9 791.9L1107.0 792.1L1108.1 792.7L1109.2 792.7L1110.3 792.1L1111.4 791.7L1112.6 791.8L1113.7 791.8L1114.8 791.7L1115.9 791.9L1117.0 791.8L1118.1 790.9L1119.2 790.5L1120.3 790.2L1121.4 790.2L1122.5 790.3L1123.6 790.2L1124.7 790.3L1125.9 790.4L1127.0 790.3L1128.1 790.5L1129.2 790.3L1130.3 790.3L1131.4 790.8L1132.5 791.3L1133.6 791.1L1134.7 791.1L1135.8 791.0L1136.9 790.5L1138.0 790.3L1139.2 790.5L1140.3 790.3L1141.4 790.5L1142.5 791.1L1143.6 791.1L1144.7 790.8L1145.8 790.8L1146.9 790.4L1148.0 790.4L1149.1 790.6L1150.2 790.4L1151.4 790.3L1152.5 790.4L1153.6 790.6L1154.7 790.5L1155.8 790.4L1156.9 790.8L1158.0 790.9L1159.1 790.7L1160.2 790.5L1161.3 790.5L1162.4 790.6L1163.5 790.9L1164.7 791.4L1165.8 791.3L1166.9 791.1L1168.0 791.1L1169.1 790.9L1170.2 791.1L1171.3 791.2L1172.4 791.0L1173.5 790.6L1174.6 790.4L1175.7 790.7L1176.9 790.6L1178.0 790.5L1179.1 791.2L1180.2 791.5L1181.3 791.4L1182.4 791.0L1183.5 790.9L1184.6 790.9L1185.7 791.0L1186.8 791.2L1187.9 791.0L1189.0 791.0L1190.2 791.0L1191.3 790.8L1192.4 791.2L1193.5 791.4L1194.6 791.2L1195.7 791.3L1196.8 791.9L1197.9 792.0L1199.0 792.0L1200.1 792.3L1201.2 792.8L1202.3 792.5L1203.5 791.9L1204.6 791.8L1205.7 791.4L1206.8 791.0L1207.9 791.7L1209.0 792.0L1210.1 791.3L1211.2 791.0L1212.3 791.7L1213.4 792.0L1214.5 792.3L1215.7 792.4L1216.8 792.2L1217.9 792.4L1219.0 792.2L1220.1 792.1L1221.2 792.0L1222.3 792.1L1223.4 792.3L1224.5 791.9L1225.6 791.8L1226.7 791.8L1227.8 791.8L1229.0 791.5L1230.1 791.8L1231.2 792.3L1232.3 792.3L1233.4 792.2L1234.5 791.7L1235.6 791.8L1236.7 792.6L1237.8 792.6L1238.9 792.3L1240.0 791.9L1241.1 791.7L1242.3 791.8L1243.4 792.1L1244.5 791.8L1245.6 791.5L1246.7 791.0L1247.8 791.0L1248.9 791.0L1250.0 790.9L1251.1 790.9L1252.2 790.8L1253.3 790.7L1254.5 791.0L1255.6 791.3L1256.7 791.6L1257.8 791.9L1258.9 792.0L1260.0 791.7L1261.1 791.5L1262.2 791.7L1263.3 792.2L1264.4 792.5L1265.5 792.1L1266.6 792.2L1267.8 792.2L1268.9 792.1L1270.0 792.0L1271.1 792.2L1272.2 792.6L1273.3 793.0L1274.4 792.7L1275.5 792.3L1276.6 792.3L1277.7 792.1L1278.8 791.9L1280.0 791.7L1281.1 791.4L1282.2 791.6L1283.3 792.2L1284.4 791.8L1285.5 791.3L1286.6 791.7L1287.7 791.6L1288.8 791.2L1289.9 791.2L1291.0 790.9L1292.1 791.4L1293.3 792.4L1294.4 792.4L1295.5 791.5L1296.6 790.9L1297.7 791.3L1298.8 792.0L1299.9 792.0L1301.0 792.1L1302.1 792.7L1303.2 792.8L1304.3 792.5L1305.4 792.1L1306.6 791.9L1307.7 792.1L1308.8 792.3L1309.9 792.5L1311.0 792.2L1312.1 792.0L1313.2 792.6L1314.3 793.5L1315.4 793.9L1316.5 793.4L1317.6 792.8L1318.8 792.7L1319.9 792.8L1321.0 792.7L1322.1 792.7L1323.2 792.6L1324.3 792.8L1325.4 792.9L1326.5 793.2L1327.6 793.2L1328.7 793.2L1329.8 793.1L1330.9 793.1L1332.1 793.0L1333.2 792.9L1334.3 793.2L1335.4 793.2L1336.5 793.2L1337.6 792.8L1338.7 792.5L1339.8 792.9L1340.9 792.8L1342.0 792.6L1343.1 792.5L1344.2 792.3L1345.4 792.2L1346.5 792.3L1347.6 792.4L1348.7 792.8L1349.8 792.9L1350.9 792.6L1352.0 792.9L1353.1 792.9L1354.2 792.9L1355.3 793.2L1356.4 793.1L1357.6 792.9L1358.7 792.9L1359.8 792.7L1360.9 792.2L1362.0 792.2L1363.1 792.4L1364.2 792.5L1365.3 792.6L1366.4 792.3L1367.5 792.4L1368.6 792.3L1369.7 792.5L1370.9 792.5L1372.0 792.6L1373.1 792.9L1374.2 793.0L1375.3 792.9L1376.4 792.9L1377.5 792.8L1378.6 792.6L1379.7 792.6L1380.8 792.8L1381.9 792.6L1383.1 792.6L1384.2 792.5L1385.3 792.8L1386.4 792.6L1387.5 792.1L1388.6 792.0L1389.7 791.8L1390.8 792.0L1391.9 792.2L1393.0 792.0L1394.1 792.3L1395.2 792.4L1396.4 791.8L1397.5 791.5L1398.6 791.2L1399.7 791.7L1400.8 792.3L1401.9 791.8L1403.0 791.6L1404.1 792.0L1405.2 791.9L1406.3 791.8L1407.4 791.8L1408.5 791.6L1409.7 792.1L1410.8 792.6L1411.0 792.5"/>
</g>
<g fill="none" stroke-width="5.00" stroke-linecap="round">
<line x1="1452.30" y1="67.00" x2="1521.00" y2="67.00" stroke="#9dc3e6"/>
<line x1="1452.30" y1="115.86" x2="1521.00" y2="115.86" stroke="#8497b0"/>
<line x1="1452.30" y1="164.72" x2="1521.00" y2="164.72" stroke="#2c3649"/>
<line x1="1452.30" y1="213.58" x2="1521.00" y2="213.58" stroke="#00b0f0"/>
<line x1="1452.30" y1="262.44" x2="1521.00" y2="262.44" stroke="#a9b4dc"/>
<line x1="1452.30" y1="311.30" x2="1521.00" y2="311.30" stroke="#2f5597"/>
<line x1="1452.30" y1="360.16" x2="1521.00" y2="360.16" stroke="#3f6ec2"/>
<line x1="1452.30" y1="409.02" x2="1521.00" y2="409.02" stroke="#2a5092"/>
<line x1="1452.30" y1="457.88" x2="1521.00" y2="457.88" stroke="#3563b6"/>
<line x1="1452.30" y1="506.74" x2="1521.00" y2="506.74" stroke="#3563b6"/>
<line x1="1452.30" y1="555.60" x2="1521.00" y2="555.60" stroke="#6f90d4"/>
<line x1="1452.30" y1="604.46" x2="1521.00" y2="604.46" stroke="#203f82"/>
<line x1="1452.30" y1="653.32" x2="1521.00" y2="653.32" stroke="#8099d6"/>
<line x1="1452.30" y1="702.18" x2="1521.00" y2="702.18" stroke="#203f82"/>
<line x1="1452.30" y1="751.04" x2="1521.00" y2="751.04" stroke="#bfcbe9"/>
</g>
<g font-family="'Liberation Serif', 'DejaVu Serif', serif" font-size="42.60" fill="#000000" stroke="#000000" stroke-width="0.35">
<text x="1527.60" y="79.70"><tspan textLength="69.7" lengthAdjust="spacingAndGlyphs">20.0</tspan> <tspan x="1607.10" textLength="119.4" lengthAdjust="spacingAndGlyphs">ng/mL</tspan></text>
<text x="1527.60" y="128.56"><tspan textLength="69.7" lengthAdjust="spacingAndGlyphs">10.0</tspan> <tspan x="1607.10" textLength="119.4" lengthAdjust="spacingAndGlyphs">ng/mL</tspan></text>
<text x="1527.60" y="177.42"><tspan textLength="49.8" lengthAdjust="spacingAndGlyphs">8.0</tspan> <tspan x="1587.20" textLength="119.4" lengthAdjust="spacingAndGlyphs">ng/mL</tspan></text>
<text x="1527.60" y="226.28"><tspan textLength="49.8" lengthAdjust="spacingAndGlyphs">5.0</tspan> <tspan x="1587.20" textLength="119.4" lengthAdjust="spacingAndGlyphs">ng/mL</tspan></text>
<text x="1527.60" y="275.14"><tspan textLength="49.8" lengthAdjust="spacingAndGlyphs">3.0</tspan> <tspan x="1587.20" textLength="119.4" lengthAdjust="spacingAndGlyphs">ng/mL</tspan></text>
<text x="1527.60" y="324.00"><tspan textLength="49.8" lengthAdjust="spacingAndGlyphs">2.0</tspan> <tspan x="1587.20" textLength="119.4" lengthAdjust="spacingAndGlyphs">ng/mL</tspan></text>
<text x="1527.60" y="372.86"><tspan textLength="49.8" lengthAdjust="spacingAndGlyphs">1.0</tspan> <tspan x="1587.20" textLength="119.4" lengthAdjust="spacingAndGlyphs">ng/mL</tspan></text>
<text x="1527.60" y="421.72"><tspan textLength="49.8" lengthAdjust="spacingAndGlyphs">0.5</tspan> <tspan x="1587.20" textLength="119.4" lengthAdjust="spacingAndGlyphs">ng/mL</tspan></text>
<text x="1527.60" y="470.58"><tspan textLength="89.6" lengthAdjust="spacingAndGlyphs">0.025</tspan> <tspan x="1627.00" textLength="119.4" lengthAdjust="spacingAndGlyphs">ng/mL</tspan></text>
<text x="1527.60" y="519.44"><tspan textLength="49.8" lengthAdjust="spacingAndGlyphs">0.1</tspan> <tspan x="1587.20" textLength="119.4" lengthAdjust="spacingAndGlyphs">ng/mL</tspan></text>
<text x="1527.60" y="568.30"><tspan textLength="89.6" lengthAdjust="spacingAndGlyphs">0.005</tspan> <tspan x="1627.00" textLength="119.4" lengthAdjust="spacingAndGlyphs">ng/mL</tspan></text>
<text x="1527.60" y="617.16"><tspan textLength="109.5" lengthAdjust="spacingAndGlyphs">0.0025</tspan> <tspan x="1646.90" textLength="119.4" lengthAdjust="spacingAndGlyphs">ng/mL</tspan></text>
<text x="1527.60" y="666.02"><tspan textLength="109.5" lengthAdjust="spacingAndGlyphs">0.0005</tspan> <tspan x="1646.90" textLength="119.4" lengthAdjust="spacingAndGlyphs">ng/mL</tspan></text>
<text x="1527.60" y="714.88"><tspan textLength="109.5" lengthAdjust="spacingAndGlyphs">0.0003</tspan> <tspan x="1646.90" textLength="119.4" lengthAdjust="spacingAndGlyphs">ng/mL</tspan></text>
<text x="1527.60" y="763.74"><tspan textLength="19.9" lengthAdjust="spacingAndGlyphs">0</tspan> <tspan x="1557.30" textLength="119.4" lengthAdjust="spacingAndGlyphs">ng/mL</tspan></text>
</g>
<g font-family="'Liberation Serif', 'DejaVu Serif', serif" font-weight="bold" font-size="40.40" fill="#000000" stroke="#ffffff" stroke-width="0.25" stroke-linejoin="round">
<text x="129.10" y="1043.52" textLength="33.5" lengthAdjust="spacingAndGlyphs">-4</text>
<text x="129.10" y="922.78" textLength="33.5" lengthAdjust="spacingAndGlyphs">-2</text>
<text x="142.50" y="802.04" textLength="20.1" lengthAdjust="spacingAndGlyphs">0</text>
<text x="142.50" y="681.30" textLength="20.1" lengthAdjust="spacingAndGlyphs">2</text>
<text x="142.50" y="560.56" textLength="20.1" lengthAdjust="spacingAndGlyphs">4</text>
<text x="142.50" y="439.82" textLength="20.1" lengthAdjust="spacingAndGlyphs">6</text>
<text x="142.50" y="319.08" textLength="20.1" lengthAdjust="spacingAndGlyphs">8</text>
<text x="122.40" y="198.34" textLength="40.2" lengthAdjust="spacingAndGlyphs">10</text>
<text x="122.40" y="77.60" textLength="40.2" lengthAdjust="spacingAndGlyphs">12</text>
<text x="193.45" y="859.30" textLength="20.1" lengthAdjust="spacingAndGlyphs">0</text>
<text x="395.06" y="859.30" textLength="60.3" lengthAdjust="spacingAndGlyphs">200</text>
<text x="616.78" y="859.30" textLength="60.3" lengthAdjust="spacingAndGlyphs">400</text>
<text x="838.49" y="859.30" textLength="60.3" lengthAdjust="spacingAndGlyphs">600</text>
<text x="1060.21" y="859.30" textLength="60.3" lengthAdjust="spacingAndGlyphs">800</text>
<text x="1271.87" y="859.30" textLength="80.4" lengthAdjust="spacingAndGlyphs">1000</text>
<text x="1493.59" y="859.30" textLength="80.4" lengthAdjust="spacingAndGlyphs">1200</text>
<text x="1715.30" y="859.30" textLength="80.4" lengthAdjust="spacingAndGlyphs">1400</text>
</g>
<g font-family="'Liberation Serif', 'DejaVu Serif', serif" font-weight="bold" font-size="43.50" fill="#000000" stroke="#ffffff" stroke-width="0.00" stroke-linejoin="round">
<text><tspan x="920.60" y="1002.20" textLength="94.5" lengthAdjust="spacingAndGlyphs">Time</tspan> <tspan x="1026.30" y="1002.20" textLength="78.8" lengthAdjust="spacingAndGlyphs">(sec)</tspan></text>
<text transform="translate(99.00 689.50) rotate(-90)"><tspan x="-0.80" y="0.00" textLength="31.8" lengthAdjust="spacingAndGlyphs">%</tspan> <tspan x="40.30" y="0.00" textLength="140.5" lengthAdjust="spacingAndGlyphs">Change</tspan> <tspan x="189.30" y="0.00" textLength="38.1" lengthAdjust="spacingAndGlyphs">in</tspan> <tspan x="236.70" y="0.00" textLength="210.6" lengthAdjust="spacingAndGlyphs">Reflectivity</tspan></text>
</g>
</g>
</svg>
</body>
</html>
